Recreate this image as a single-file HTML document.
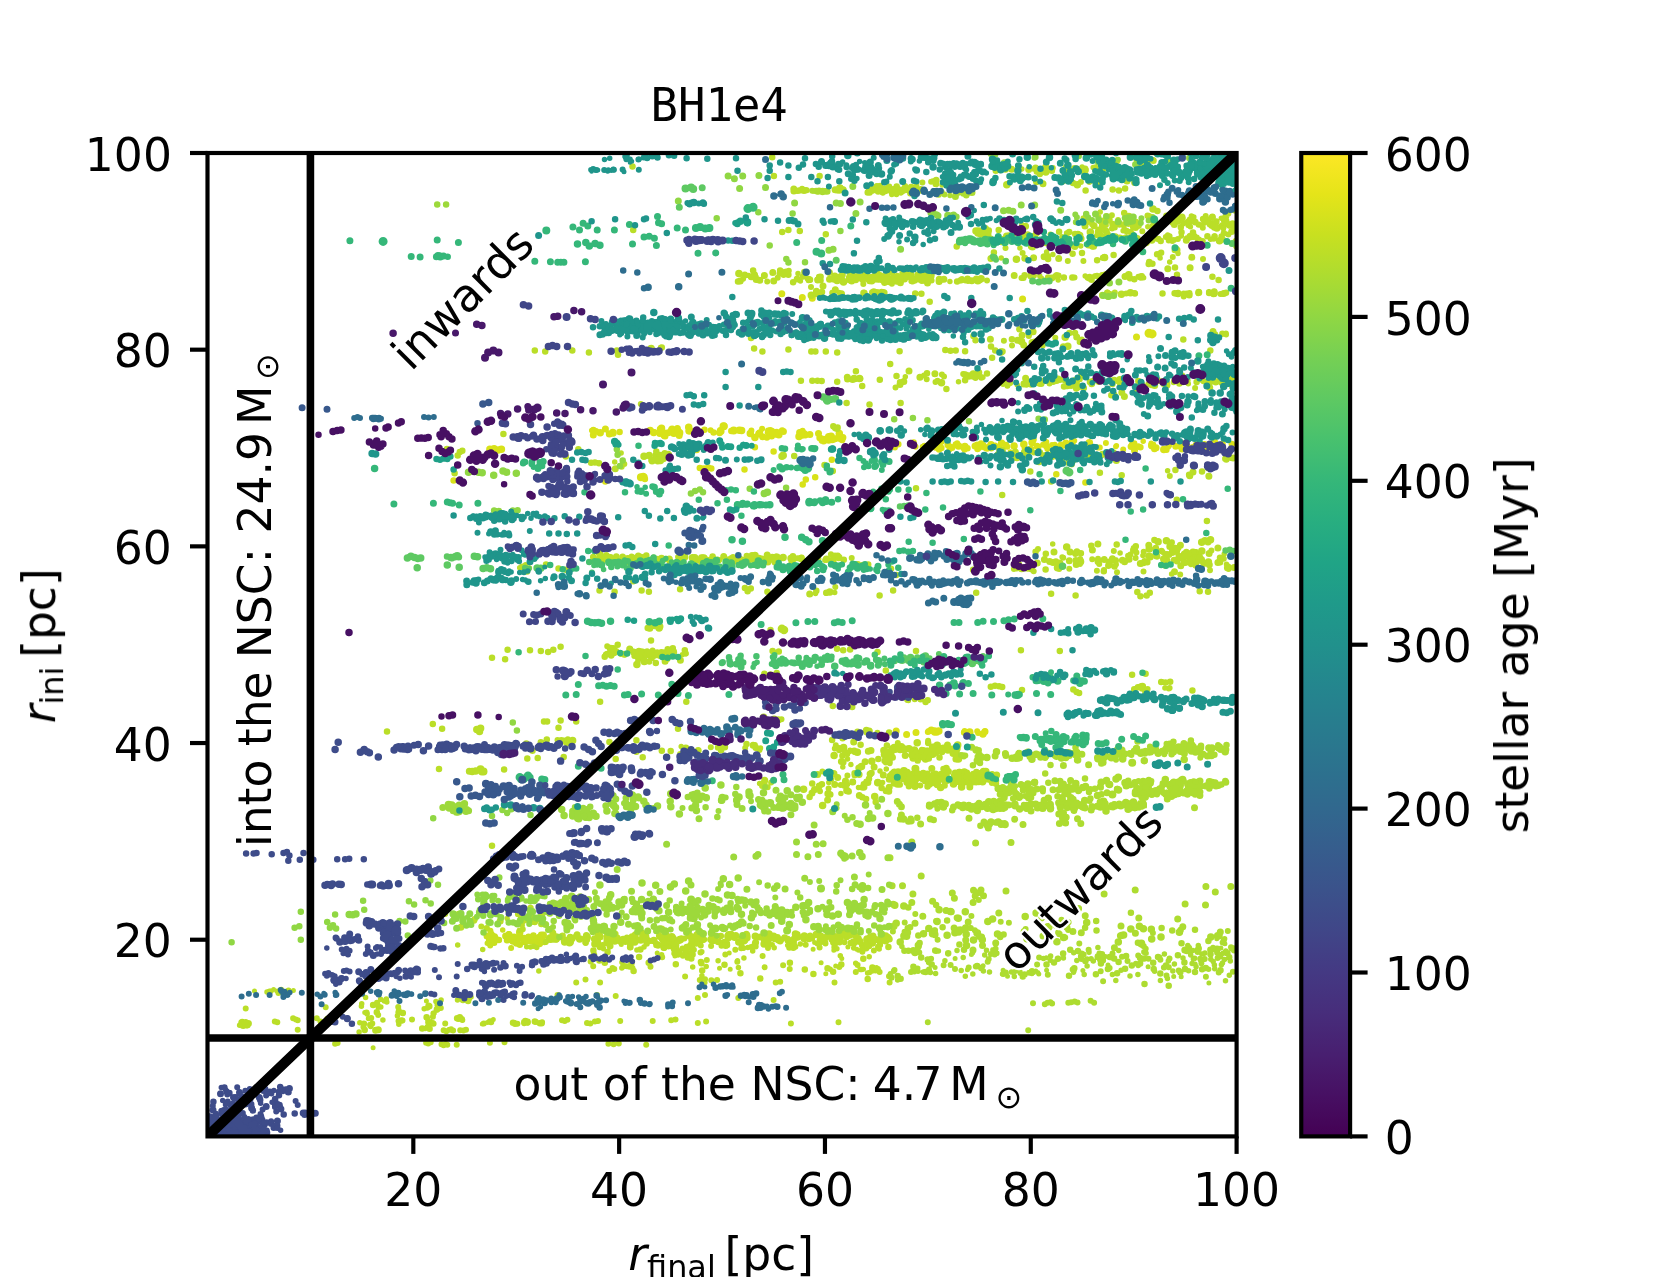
<!DOCTYPE html>
<html><head><meta charset="utf-8"><title>BH1e4</title>
<style>
html,body{margin:0;padding:0;background:#fff;overflow:hidden;}
svg{display:block;}
text{font-family:"DejaVu Sans","Liberation Sans",sans-serif;font-size:45.6px;fill:#000;}
.mono{font-family:"DejaVu Sans Mono","Liberation Mono",monospace;}
.it{font-style:italic;}
.sub{font-size:31.92px;}
.halo{paint-order:stroke;stroke:#fff;stroke-width:4.2px;stroke-linejoin:round;}
</style></head><body>
<svg width="1660" height="1277" viewBox="0 0 1660 1277">
<defs>
<clipPath id="ax"><rect x="207.5" y="153.0" width="1029.10" height="983.40"/></clipPath>
<linearGradient id="vir" x1="0" y1="0" x2="0" y2="1"><stop offset="0.0000" stop-color="#fde725"/><stop offset="0.0417" stop-color="#e5e419"/><stop offset="0.0833" stop-color="#c8e020"/><stop offset="0.1250" stop-color="#addc30"/><stop offset="0.1667" stop-color="#90d743"/><stop offset="0.2083" stop-color="#75d054"/><stop offset="0.2500" stop-color="#5ec962"/><stop offset="0.2917" stop-color="#48c16e"/><stop offset="0.3333" stop-color="#35b779"/><stop offset="0.3750" stop-color="#28ae80"/><stop offset="0.4167" stop-color="#20a486"/><stop offset="0.4583" stop-color="#1f9a8a"/><stop offset="0.5000" stop-color="#21918c"/><stop offset="0.5417" stop-color="#24868e"/><stop offset="0.5833" stop-color="#287c8e"/><stop offset="0.6250" stop-color="#2c728e"/><stop offset="0.6667" stop-color="#31688e"/><stop offset="0.7083" stop-color="#365d8d"/><stop offset="0.7500" stop-color="#3b528b"/><stop offset="0.7917" stop-color="#404688"/><stop offset="0.8333" stop-color="#443983"/><stop offset="0.8750" stop-color="#472d7b"/><stop offset="0.9167" stop-color="#481f70"/><stop offset="0.9583" stop-color="#471063"/><stop offset="1.0000" stop-color="#440154"/></linearGradient>
</defs>
<rect width="1660" height="1277" fill="#fff"/>
<g clip-path="url(#ax)" fill="none" stroke-linecap="round">
<path d="M1149.0 333.3h.01M1152.1 333.9h.01" stroke="#d8e219" stroke-width="9.0"/>
<path d="M673.9 433.1h.01M723.5 426.3h.01M733.7 430.6h.01M640.9 477.3h.01" stroke="#d8e219" stroke-width="8.0"/>
<path d="M489.9 449.3h.01M494.1 448.7h.01M498.2 449.9h.01M501.4 449.3h.01M613.0 433.0h.01M600.2 432.8h.01M612.8 432.4h.01M661.5 428.2h.01M678.5 431.8h.01M671.7 429.9h.01M674.0 432.4h.01M653.7 432.5h.01M660.5 429.2h.01M664.2 435.3h.01M679.6 432.8h.01M650.2 430.5h.01M672.1 429.3h.01M688.7 427.3h.01M720.8 431.2h.01M739.3 430.2h.01M724.0 426.3h.01M741.6 430.4h.01M689.1 430.7h.01M750.3 433.5h.01M759.0 433.8h.01M754.9 437.5h.01M778.8 434.7h.01M805.2 434.7h.01M799.0 436.5h.01M828.7 436.7h.01M822.3 440.3h.01M839.3 433.6h.01M823.6 440.8h.01M832.1 439.5h.01M831.1 436.2h.01M643.9 476.9h.01M643.3 476.6h.01M1089.3 442.7h.01M1199.3 449.0h.01M987.0 448.1h.01M1071.9 442.8h.01M1001.6 443.3h.01M1196.4 445.1h.01M1014.1 446.1h.01M1032.1 442.6h.01M1151.9 445.8h.01M1023.8 444.2h.01M1199.8 447.5h.01M991.0 444.7h.01M1187.3 447.2h.01M958.5 446.1h.01M1163.8 449.5h.01M1214.5 442.5h.01M964.8 446.6h.01M939.4 442.6h.01M934.7 732.1h.01M936.7 731.9h.01M931.3 730.2h.01M938.8 731.0h.01M967.4 733.0h.01M982.9 734.0h.01M969.7 731.9h.01" stroke="#d8e219" stroke-width="7.5"/>
<path d="M781.8 293.8h.01M802.3 297.6h.01M812.3 298.2h.01M1022.6 299.0h.01M1136.5 337.0h.01M605.4 429.0h.01M593.3 435.1h.01M609.3 433.9h.01M595.9 431.5h.01M665.0 435.9h.01M662.8 432.1h.01M677.4 428.6h.01M668.2 432.7h.01M679.2 435.5h.01M689.2 431.1h.01M695.5 432.0h.01M689.9 430.6h.01M695.9 431.1h.01M699.8 431.8h.01M762.6 436.7h.01M776.6 432.3h.01M783.4 431.6h.01M782.2 430.8h.01M770.2 430.4h.01M799.6 432.4h.01M809.9 434.4h.01M834.3 439.0h.01M828.6 440.3h.01M842.9 437.4h.01M819.8 437.8h.01M818.5 433.6h.01M892.6 446.8h.01M1059.2 447.1h.01M1181.9 443.6h.01M951.9 447.4h.01M1005.9 445.2h.01M981.9 444.5h.01M977.0 445.0h.01M1134.7 447.7h.01M1182.1 449.1h.01M1154.5 448.7h.01M1134.5 450.4h.01M1151.6 445.3h.01M1203.7 449.5h.01M930.8 446.2h.01M983.1 445.4h.01M947.9 444.8h.01M1033.3 439.5h.01M975.0 446.1h.01M1156.1 447.8h.01M1212.4 448.8h.01M1030.6 449.0h.01M934.6 443.3h.01M992.0 445.7h.01M1175.7 446.2h.01M1182.6 446.2h.01M1131.1 446.4h.01M1037.1 446.2h.01M1065.8 443.0h.01M896.2 730.9h.01M906.6 734.5h.01M916.0 732.4h.01M969.9 733.8h.01M985.0 731.6h.01" stroke="#d8e219" stroke-width="7.0"/>
<path d="M453.6 480.5h.01M619.6 432.1h.01M593.4 430.1h.01M661.8 430.5h.01M659.7 433.8h.01M720.3 430.3h.01M704.5 429.7h.01M713.6 432.5h.01M719.6 433.1h.01M731.3 431.0h.01M770.5 431.3h.01M770.3 432.0h.01M771.7 436.3h.01M766.9 437.5h.01M759.9 432.4h.01M802.1 435.6h.01M804.0 433.2h.01M836.0 438.5h.01M842.1 440.1h.01M839.6 435.9h.01M754.9 447.2h.01M773.6 451.4h.01M690.5 449.3h.01M693.6 448.3h.01M696.7 449.9h.01M699.8 468.0h.01M704.0 468.6h.01M708.1 467.4h.01M711.3 468.6h.01M744.5 469.5h.01M831.8 459.7h.01M815.2 477.3h.01M805.8 479.4h.01M802.7 484.6h.01M644.9 479.1h.01M605.3 481.5h.01M1223.7 450.9h.01M1140.4 447.2h.01M1046.3 446.2h.01M1208.3 445.8h.01M939.1 449.5h.01M1222.5 443.7h.01M967.5 448.3h.01M941.6 441.6h.01M977.5 448.9h.01M941.4 448.0h.01M1085.9 446.6h.01M1184.5 444.8h.01M913.6 442.5h.01M981.0 443.5h.01M939.4 447.0h.01M898.3 444.2h.01M1055.5 446.4h.01M1061.0 444.7h.01M922.9 446.9h.01M1057.3 447.3h.01M939.8 443.2h.01M1216.4 447.9h.01M1197.0 446.4h.01M1231.8 444.0h.01M1204.4 444.2h.01M999.2 448.2h.01M955.8 444.4h.01M1056.3 474.2h.01M1085.4 482.5h.01M928.8 731.2h.01M934.7 730.5h.01M964.1 732.4h.01" stroke="#d8e219" stroke-width="6.5"/>
<path d="M710.6 430.3h.01M719.5 431.3h.01M772.7 431.6h.01M772.0 430.8h.01M759.6 432.7h.01M762.1 428.8h.01M767.7 432.4h.01M775.5 434.7h.01M768.0 430.4h.01M751.4 430.5h.01M802.6 430.8h.01M802.0 434.7h.01M839.7 439.1h.01M827.7 439.2h.01M823.8 438.7h.01M1047.4 449.1h.01M984.3 447.6h.01M909.9 443.8h.01M1166.6 449.9h.01M1132.0 444.0h.01M1054.9 448.5h.01M1199.5 446.9h.01M949.4 449.5h.01M1214.4 448.6h.01M1007.3 446.8h.01M1168.2 446.8h.01M924.4 445.7h.01M1052.0 444.9h.01M1179.6 446.5h.01M915.6 446.7h.01M1085.6 448.0h.01M1097.5 447.4h.01M1046.3 441.9h.01M1134.4 443.3h.01M964.5 449.8h.01M1062.8 446.0h.01M995.2 445.6h.01M1220.9 448.9h.01M1138.4 446.3h.01M1204.5 447.3h.01M1105.9 443.1h.01M924.0 446.6h.01M991.3 448.6h.01M963.4 448.3h.01M1043.0 444.8h.01M1192.7 447.1h.01M1099.8 447.4h.01M1024.6 448.1h.01M1089.3 446.5h.01M1123.2 449.6h.01M957.2 443.2h.01M1089.8 445.3h.01M1169.1 445.5h.01M938.5 731.6h.01M927.8 732.0h.01M964.6 731.1h.01M977.2 731.3h.01M984.9 731.6h.01M969.4 732.9h.01M978.1 732.9h.01" stroke="#d8e219" stroke-width="6.0"/>
<path d="M591.7 430.5h.01M1032.1 442.0h.01M935.3 448.0h.01M1153.4 444.3h.01M1074.5 440.8h.01M1010.3 452.1h.01M1151.2 443.3h.01M1038.7 447.6h.01M979.5 448.1h.01M1143.2 441.3h.01M1057.9 448.9h.01M1115.8 446.6h.01M1116.4 445.7h.01M1054.8 444.4h.01M895.1 447.8h.01" stroke="#d8e219" stroke-width="5.5"/>
<path d="M539.2 937.6h.01M524.1 938.6h.01M539.4 940.4h.01M524.3 941.4h.01M519.7 932.6h.01M536.1 938.8h.01M539.4 943.6h.01" stroke="#c8e020" stroke-width="7.5"/>
<path d="M494.6 936.8h.01M492.5 942.3h.01M516.3 942.9h.01M536.6 942.1h.01M495.3 938.9h.01M509.0 934.6h.01M517.1 937.8h.01M511.6 939.9h.01M543.4 934.9h.01M516.6 943.2h.01M532.8 937.7h.01M487.0 936.0h.01M513.0 937.9h.01M494.0 942.5h.01M490.3 936.3h.01M539.1 940.8h.01M508.3 935.6h.01M532.9 937.2h.01M505.6 936.0h.01M510.8 936.7h.01" stroke="#c8e020" stroke-width="7.0"/>
<path d="M519.8 944.8h.01M528.3 937.5h.01M519.9 938.8h.01M533.4 935.6h.01M514.1 936.8h.01M512.8 941.6h.01M531.0 941.3h.01M489.1 940.5h.01M507.0 940.3h.01M541.2 934.7h.01M491.2 934.0h.01M526.3 941.3h.01M498.9 940.0h.01M544.5 941.9h.01M528.5 936.7h.01M542.8 940.6h.01" stroke="#c8e020" stroke-width="6.5"/>
<path d="M538.5 939.0h.01M490.4 930.8h.01M496.1 938.8h.01M543.7 936.0h.01M535.1 940.1h.01M489.1 936.4h.01M490.2 945.5h.01M492.4 935.3h.01M508.4 938.8h.01M511.1 948.1h.01M530.0 940.2h.01M534.1 942.1h.01M537.1 938.2h.01M535.7 944.8h.01" stroke="#c8e020" stroke-width="6.0"/>
<path d="M539.8 937.5h.01M542.4 941.9h.01M508.6 933.8h.01M502.7 929.9h.01M513.8 936.8h.01M487.3 943.3h.01M519.9 936.1h.01M531.8 941.8h.01" stroke="#c8e020" stroke-width="5.5"/>
<path d="M781.9 628.7h.01M784.0 629.9h.01" stroke="#bade28" stroke-width="8.5"/>
<path d="M658.2 456.0h.01M656.3 455.7h.01M654.5 625.3h.01M1187.7 555.8h.01M482.0 771.6h.01M483.5 771.4h.01M481.9 770.7h.01M480.5 769.3h.01M773.4 936.5h.01M697.4 935.1h.01M885.5 936.2h.01M853.9 942.2h.01M598.7 934.6h.01M927.5 751.6h.01M901.2 746.9h.01M956.7 748.4h.01M958.3 758.8h.01M971.0 780.7h.01M903.9 770.9h.01M915.4 768.8h.01" stroke="#bade28" stroke-width="8.0"/>
<path d="M839.8 188.1h.01M839.1 190.0h.01M878.9 190.3h.01M885.3 190.6h.01M987.6 234.5h.01M976.0 231.1h.01M738.9 273.5h.01M843.5 282.0h.01M902.1 278.5h.01M856.1 277.0h.01M889.2 272.1h.01M981.1 278.7h.01M939.4 279.5h.01M819.8 293.6h.01M811.3 295.2h.01M859.5 378.6h.01M941.5 382.7h.01M973.3 374.0h.01M968.9 376.0h.01M1045.8 172.0h.01M1000.3 169.4h.01M1005.4 168.9h.01M1045.8 167.3h.01M1077.3 184.8h.01M1006.8 184.8h.01M1216.8 228.1h.01M1188.4 222.2h.01M1153.0 209.1h.01M1128.8 216.6h.01M1109.0 220.0h.01M1102.7 224.6h.01M1107.8 218.6h.01M1077.9 234.5h.01M1022.4 238.9h.01M1090.3 232.1h.01M1079.7 235.6h.01M1031.6 246.3h.01M1190.3 236.6h.01M1146.1 242.6h.01M1219.5 240.7h.01M1193.6 236.2h.01M1047.3 256.5h.01M1016.4 259.2h.01M1104.6 257.4h.01M1128.7 274.8h.01M1140.9 276.9h.01M1130.4 292.7h.01M1121.4 294.3h.01M1108.0 296.0h.01M1178.0 293.4h.01M1001.0 352.1h.01M1067.8 346.2h.01M1021.5 341.5h.01M1065.2 337.2h.01M1075.3 380.8h.01M1050.2 379.1h.01M1151.6 384.5h.01M1003.9 378.2h.01M1120.0 380.4h.01M1185.8 380.9h.01M1009.6 382.6h.01M1157.4 380.4h.01M668.1 454.6h.01M649.2 455.6h.01M657.8 460.8h.01M663.3 458.4h.01M659.9 455.6h.01M644.0 456.3h.01M660.4 460.4h.01M783.1 455.2h.01M782.0 456.2h.01M607.8 559.0h.01M599.5 553.2h.01M661.5 558.5h.01M738.4 560.4h.01M703.9 558.0h.01M736.7 558.4h.01M684.6 557.1h.01M638.7 561.1h.01M692.5 557.8h.01M755.0 555.6h.01M601.2 558.8h.01M634.2 558.4h.01M755.8 558.5h.01M838.7 557.4h.01M783.1 557.4h.01M813.9 557.0h.01M793.6 558.4h.01M801.0 558.4h.01M777.7 559.7h.01M826.5 559.3h.01M777.0 557.3h.01M829.8 592.1h.01M659.1 628.1h.01M642.5 652.3h.01M613.2 652.8h.01M613.2 648.8h.01M610.5 648.6h.01M669.4 653.1h.01M652.3 655.8h.01M651.4 656.4h.01M636.9 664.4h.01M1002.1 450.7h.01M1079.4 456.6h.01M1045.3 455.9h.01M1115.2 458.5h.01M1051.6 456.6h.01M1090.3 454.0h.01M1039.0 461.4h.01M1166.1 554.8h.01M1208.4 561.9h.01M1109.3 562.2h.01M1166.8 560.7h.01M1057.5 567.8h.01M1198.7 556.0h.01M1172.8 549.7h.01M1193.0 552.3h.01M1174.4 551.1h.01M1183.3 556.3h.01M1201.8 551.1h.01M1191.8 558.2h.01M1195.3 553.6h.01M1149.2 548.9h.01M1166.4 540.8h.01M1066.7 547.0h.01M1201.7 542.2h.01M1204.9 540.7h.01M1208.0 541.8h.01M1210.5 539.7h.01M1158.1 541.8h.01M1028.8 568.0h.01M476.8 729.5h.01M479.5 731.5h.01M480.6 728.2h.01M472.2 771.4h.01M475.7 771.1h.01M458.9 914.4h.01M544.6 909.4h.01M531.9 918.0h.01M567.1 742.7h.01M572.6 740.6h.01M778.1 720.0h.01M763.6 717.2h.01M869.0 731.3h.01M857.4 752.2h.01M834.1 755.6h.01M861.5 766.4h.01M843.6 747.5h.01M871.8 761.3h.01M883.9 750.5h.01M886.0 752.1h.01M685.8 748.3h.01M763.8 783.7h.01M877.7 782.8h.01M846.9 790.4h.01M863.7 786.9h.01M833.7 773.7h.01M828.1 793.7h.01M803.6 789.3h.01M822.6 805.5h.01M874.7 796.5h.01M797.5 937.1h.01M653.8 940.5h.01M693.7 937.4h.01M836.7 938.8h.01M859.6 941.2h.01M645.4 938.6h.01M738.8 941.9h.01M671.8 936.8h.01M597.4 941.3h.01M640.9 939.9h.01M691.8 944.0h.01M868.8 941.3h.01M840.2 937.7h.01M556.1 938.9h.01M870.0 940.4h.01M579.7 938.9h.01M764.6 940.3h.01M556.2 938.1h.01M884.3 936.5h.01M594.9 944.1h.01M887.7 938.0h.01M885.6 937.6h.01M623.2 939.6h.01M872.3 943.1h.01M795.5 934.0h.01M744.0 940.8h.01M839.9 933.3h.01M628.1 940.6h.01M804.2 938.6h.01M689.5 935.7h.01M680.3 939.8h.01M712.1 940.5h.01M550.0 937.9h.01M755.3 936.3h.01M643.2 936.0h.01M714.5 939.3h.01M728.0 936.4h.01M728.8 934.7h.01M712.2 936.2h.01M609.2 939.3h.01M744.7 940.0h.01M674.0 940.9h.01M645.6 936.6h.01M662.2 938.0h.01M849.9 934.9h.01M843.5 931.4h.01M614.9 934.2h.01M764.1 944.0h.01M769.0 934.1h.01M804.3 935.9h.01M870.2 939.1h.01M674.6 941.4h.01M828.5 934.6h.01M569.5 942.7h.01M807.6 937.6h.01M816.3 934.6h.01M595.5 939.5h.01M556.3 937.1h.01M858.1 938.8h.01M665.5 940.2h.01M587.2 937.2h.01M823.1 938.2h.01M635.2 941.0h.01M711.9 938.7h.01M661.6 929.2h.01M564.7 941.9h.01M833.8 942.2h.01M614.8 941.0h.01M746.9 937.7h.01M725.7 945.2h.01M867.1 939.0h.01M594.7 938.9h.01M1142.3 687.9h.01M1142.4 686.5h.01M1145.9 692.3h.01M936.1 751.9h.01M942.8 748.4h.01M936.7 745.7h.01M932.6 747.3h.01M891.9 750.3h.01M890.8 754.3h.01M922.3 754.6h.01M953.2 753.2h.01M957.7 744.9h.01M936.7 747.6h.01M897.2 748.2h.01M937.2 745.2h.01M956.5 746.9h.01M914.6 750.3h.01M904.3 748.9h.01M925.5 759.0h.01M932.0 750.7h.01M894.2 747.5h.01M913.2 758.0h.01M912.7 753.6h.01M917.2 742.7h.01M914.2 750.2h.01M934.2 753.0h.01M936.8 750.3h.01M900.1 749.4h.01M952.0 749.2h.01M973.4 774.5h.01M941.3 774.4h.01M959.2 779.4h.01M933.7 774.9h.01M928.3 781.3h.01M910.1 776.1h.01M914.7 783.7h.01M908.1 776.1h.01M983.6 771.5h.01M943.4 778.6h.01M907.1 782.2h.01M937.3 784.6h.01M972.9 781.8h.01M893.7 776.3h.01M892.2 774.3h.01M893.7 773.1h.01M982.6 781.8h.01M983.9 779.5h.01M943.2 774.1h.01M959.7 772.6h.01M894.1 772.8h.01M905.4 777.3h.01M994.4 776.2h.01M978.9 776.1h.01M935.5 774.2h.01M962.4 776.0h.01M917.1 778.0h.01M947.7 779.0h.01M894.3 782.9h.01M983.8 771.9h.01M980.2 780.1h.01M945.5 772.6h.01M945.7 776.8h.01M985.8 771.4h.01M898.1 772.1h.01M915.8 779.1h.01M927.1 777.2h.01M901.7 777.2h.01M931.0 780.3h.01M961.6 786.9h.01M955.0 776.5h.01M945.8 770.4h.01M940.6 787.4h.01M897.4 784.0h.01M961.4 773.9h.01M907.1 772.6h.01M964.3 772.0h.01M953.5 783.9h.01M945.3 770.1h.01" stroke="#bade28" stroke-width="7.5"/>
<path d="M793.9 191.1h.01M804.0 190.5h.01M793.8 188.9h.01M836.4 190.1h.01M835.1 189.7h.01M840.4 188.7h.01M843.2 189.7h.01M898.2 189.4h.01M895.0 189.4h.01M918.0 191.1h.01M894.6 191.3h.01M890.2 189.8h.01M870.6 188.5h.01M916.5 190.6h.01M908.1 189.7h.01M881.0 190.7h.01M910.3 188.8h.01M885.5 189.5h.01M876.9 186.6h.01M915.6 189.7h.01M914.2 191.0h.01M936.2 180.3h.01M935.9 183.7h.01M985.5 228.4h.01M986.7 231.7h.01M773.7 280.9h.01M837.1 280.7h.01M756.2 279.5h.01M829.4 272.5h.01M740.2 281.1h.01M744.8 275.1h.01M764.4 275.6h.01M842.8 280.8h.01M817.7 280.0h.01M852.0 274.9h.01M797.2 279.1h.01M842.3 274.9h.01M772.8 272.4h.01M839.1 277.0h.01M837.1 276.9h.01M829.5 279.2h.01M834.8 275.9h.01M809.1 279.4h.01M759.8 280.3h.01M754.5 274.8h.01M823.0 286.0h.01M877.2 277.6h.01M907.0 275.7h.01M885.0 279.2h.01M887.2 279.4h.01M906.1 276.7h.01M905.8 276.5h.01M851.7 281.1h.01M868.3 278.1h.01M850.5 274.2h.01M896.0 278.4h.01M850.4 274.7h.01M884.0 280.7h.01M919.9 278.7h.01M876.7 277.5h.01M927.6 277.9h.01M927.5 282.9h.01M875.2 277.0h.01M928.2 278.5h.01M931.0 276.5h.01M904.5 279.1h.01M910.7 276.3h.01M887.6 279.9h.01M884.0 276.5h.01M918.1 276.0h.01M869.7 280.7h.01M886.2 281.0h.01M878.6 279.3h.01M900.4 282.7h.01M859.1 276.9h.01M873.9 276.6h.01M874.0 278.8h.01M850.9 279.4h.01M897.3 278.0h.01M880.5 278.5h.01M977.8 281.1h.01M939.1 281.4h.01M976.3 279.0h.01M943.9 279.3h.01M971.8 280.8h.01M835.3 289.7h.01M816.4 291.3h.01M841.5 293.8h.01M884.1 292.7h.01M863.7 293.0h.01M883.5 292.5h.01M651.3 348.3h.01M847.3 377.3h.01M854.0 378.2h.01M852.7 379.6h.01M847.5 379.1h.01M855.0 378.7h.01M903.8 381.6h.01M909.0 371.0h.01M900.0 384.5h.01M934.9 373.8h.01M919.9 377.3h.01M965.3 374.8h.01M973.3 376.2h.01M978.8 372.5h.01M1102.8 169.3h.01M1085.4 170.0h.01M1095.6 169.0h.01M1066.2 167.5h.01M1028.7 169.5h.01M1035.6 168.1h.01M1011.7 169.3h.01M1067.3 168.8h.01M1074.4 168.4h.01M1084.4 171.4h.01M1127.0 181.1h.01M1043.0 183.7h.01M1090.0 180.0h.01M1134.6 182.6h.01M1148.5 159.6h.01M1153.3 160.4h.01M1115.9 163.1h.01M1140.0 167.6h.01M1154.1 225.2h.01M1195.1 222.1h.01M1212.0 225.6h.01M1222.2 225.8h.01M1138.4 225.4h.01M1135.1 227.1h.01M1172.5 220.1h.01M1175.8 213.0h.01M1225.8 216.4h.01M1213.8 224.7h.01M1149.4 216.8h.01M1231.7 231.6h.01M1098.2 232.1h.01M1176.8 221.4h.01M1224.4 220.4h.01M1174.3 224.5h.01M1233.2 230.5h.01M1174.3 224.6h.01M1227.9 213.3h.01M1085.0 225.9h.01M1182.0 216.9h.01M1102.5 226.3h.01M1135.5 227.5h.01M1212.3 217.5h.01M1165.7 221.0h.01M1094.0 225.8h.01M1161.7 223.5h.01M1134.6 222.7h.01M1025.6 226.2h.01M1036.5 232.8h.01M1106.3 231.2h.01M1027.6 234.8h.01M1020.0 237.0h.01M1033.9 236.2h.01M1006.5 236.1h.01M1023.3 234.6h.01M1115.4 236.8h.01M1069.0 245.2h.01M1024.7 241.1h.01M1092.3 245.9h.01M1001.6 241.8h.01M1032.5 247.1h.01M1059.5 245.9h.01M1074.8 246.5h.01M1088.5 245.0h.01M1190.8 236.7h.01M1151.8 240.3h.01M1141.0 242.2h.01M1135.8 240.4h.01M1187.0 238.7h.01M1137.3 238.6h.01M1186.3 240.3h.01M1024.8 258.3h.01M990.9 258.5h.01M1033.6 257.7h.01M1058.7 258.6h.01M1044.1 256.7h.01M1191.8 257.3h.01M1177.0 249.9h.01M1190.1 267.8h.01M1167.8 268.7h.01M1105.3 278.1h.01M1030.9 275.2h.01M1102.2 275.6h.01M1014.2 275.5h.01M1051.8 277.9h.01M1125.0 276.6h.01M1102.4 295.2h.01M1108.7 294.3h.01M1113.2 295.0h.01M1189.2 295.0h.01M1186.7 294.0h.01M1213.5 293.7h.01M1198.8 292.4h.01M1223.7 293.5h.01M1214.2 292.3h.01M1033.1 331.8h.01M1029.1 333.4h.01M1023.7 344.9h.01M1022.1 335.3h.01M990.4 339.3h.01M1017.5 340.2h.01M1034.5 342.1h.01M1063.3 346.7h.01M1076.7 337.0h.01M1032.0 342.6h.01M1213.0 331.5h.01M1177.0 380.3h.01M1154.7 385.4h.01M1166.7 383.5h.01M1051.6 377.7h.01M1071.1 385.5h.01M1213.1 379.9h.01M1209.1 380.7h.01M1208.8 382.6h.01M1068.1 382.3h.01M1078.0 387.0h.01M1142.1 385.0h.01M1234.8 383.4h.01M1122.2 381.5h.01M1201.7 379.3h.01M1140.7 382.4h.01M1209.7 387.4h.01M1151.9 380.6h.01M1167.0 384.9h.01M1126.0 381.8h.01M1120.4 383.5h.01M1236.0 385.9h.01M1163.6 383.5h.01M1041.1 383.6h.01M1092.4 381.6h.01M1025.6 378.2h.01M1183.1 381.8h.01M1221.5 382.2h.01M1124.4 396.4h.01M1121.8 392.4h.01M615.3 468.7h.01M668.6 455.2h.01M664.7 453.5h.01M652.1 460.9h.01M723.7 556.4h.01M702.6 558.8h.01M753.6 559.7h.01M636.0 560.1h.01M702.8 558.1h.01M622.6 557.1h.01M602.8 560.0h.01M602.3 557.1h.01M669.3 559.0h.01M729.1 559.7h.01M610.6 557.4h.01M694.9 557.6h.01M670.2 561.5h.01M696.6 559.9h.01M638.3 556.1h.01M616.7 560.7h.01M606.3 555.4h.01M599.0 558.8h.01M748.2 558.3h.01M739.9 558.9h.01M660.3 560.8h.01M625.7 562.3h.01M756.1 559.6h.01M594.5 560.9h.01M704.0 560.8h.01M713.0 558.8h.01M594.2 559.5h.01M767.9 562.1h.01M792.3 558.9h.01M767.2 555.0h.01M790.8 558.2h.01M775.0 562.0h.01M834.0 564.1h.01M766.6 559.7h.01M809.7 594.1h.01M649.8 628.3h.01M629.7 649.1h.01M624.3 654.3h.01M680.4 660.2h.01M643.3 654.0h.01M642.4 657.8h.01M644.1 656.2h.01M648.7 654.8h.01M634.6 652.2h.01M646.8 654.8h.01M661.4 652.4h.01M662.4 655.6h.01M654.6 654.7h.01M638.2 656.4h.01M633.6 651.9h.01M654.9 653.8h.01M665.1 661.3h.01M644.2 661.7h.01M1063.0 453.4h.01M1026.9 455.5h.01M1070.0 458.4h.01M1102.4 454.2h.01M1085.7 455.8h.01M1045.4 455.5h.01M1015.4 452.1h.01M1016.9 457.8h.01M1116.4 460.6h.01M1016.9 457.1h.01M1039.7 452.5h.01M1073.5 459.7h.01M1068.6 462.4h.01M1233.1 458.0h.01M1208.5 467.9h.01M1208.9 476.3h.01M1193.0 472.0h.01M1189.8 475.7h.01M1092.4 550.0h.01M1234.0 567.6h.01M1058.7 566.3h.01M1209.3 564.7h.01M1115.5 560.4h.01M1190.2 560.6h.01M1203.8 563.4h.01M1069.3 560.7h.01M1070.1 552.0h.01M1227.4 567.7h.01M1147.1 561.9h.01M1076.9 551.7h.01M1044.4 559.4h.01M1098.0 561.5h.01M1209.1 553.6h.01M1080.6 561.1h.01M1195.4 552.6h.01M1054.0 552.1h.01M1140.3 563.6h.01M1180.8 565.7h.01M1217.9 548.1h.01M1195.6 563.2h.01M1037.3 563.1h.01M1122.4 560.3h.01M1097.9 543.9h.01M1174.5 571.7h.01M1076.2 564.4h.01M1053.0 562.4h.01M1059.9 563.1h.01M1172.1 552.5h.01M1049.7 561.4h.01M1200.7 560.5h.01M1217.9 562.6h.01M1080.8 561.7h.01M1104.2 559.6h.01M1112.4 558.7h.01M1129.1 559.2h.01M1163.5 558.9h.01M1124.6 561.7h.01M1185.8 553.0h.01M1194.6 554.4h.01M1168.9 554.5h.01M1193.6 556.6h.01M1182.1 558.3h.01M1185.3 562.5h.01M1184.3 554.0h.01M1186.4 552.3h.01M1195.6 560.5h.01M1186.5 553.8h.01M1201.5 559.6h.01M1148.8 545.3h.01M1122.9 560.6h.01M1156.5 556.1h.01M1134.6 549.2h.01M1176.6 551.2h.01M1180.4 545.3h.01M1174.0 549.5h.01M1169.8 546.4h.01M1018.9 565.3h.01M1021.5 568.8h.01M469.3 771.3h.01M540.3 919.0h.01M523.1 918.4h.01M541.6 914.7h.01M500.2 920.9h.01M530.2 922.0h.01M460.8 927.3h.01M564.4 741.0h.01M568.2 741.0h.01M564.4 740.9h.01M774.1 719.1h.01M857.5 731.9h.01M866.3 730.3h.01M855.6 751.8h.01M841.4 761.5h.01M874.1 767.0h.01M865.1 761.8h.01M853.7 742.1h.01M884.4 753.0h.01M868.3 751.2h.01M871.0 750.6h.01M885.0 751.3h.01M854.2 750.9h.01M883.3 775.0h.01M884.2 754.5h.01M753.1 745.2h.01M724.7 747.1h.01M698.2 750.5h.01M764.7 780.3h.01M888.8 791.3h.01M859.3 795.6h.01M852.6 781.9h.01M867.9 782.6h.01M845.5 781.1h.01M819.2 785.9h.01M889.2 787.3h.01M837.7 777.4h.01M889.2 779.2h.01M834.7 784.4h.01M858.8 767.9h.01M812.0 793.0h.01M886.1 790.7h.01M859.1 774.5h.01M817.7 774.6h.01M814.5 789.5h.01M870.1 774.1h.01M827.6 800.0h.01M666.2 935.1h.01M746.4 934.2h.01M856.0 935.7h.01M572.2 938.5h.01M607.0 942.7h.01M877.5 939.8h.01M564.1 940.0h.01M826.7 936.8h.01M675.9 940.6h.01M794.4 938.4h.01M885.7 941.1h.01M630.5 943.7h.01M744.3 940.3h.01M873.0 935.9h.01M822.5 941.3h.01M585.2 938.3h.01M636.9 940.1h.01M698.2 938.5h.01M793.5 941.4h.01M778.5 939.9h.01M659.9 936.5h.01M819.9 941.0h.01M678.7 940.5h.01M791.6 943.9h.01M600.3 936.7h.01M610.2 941.5h.01M834.6 936.6h.01M688.9 935.2h.01M553.4 939.2h.01M888.1 937.5h.01M714.0 938.8h.01M626.3 940.0h.01M667.8 941.2h.01M570.3 937.7h.01M570.5 941.9h.01M728.0 935.7h.01M659.4 936.0h.01M881.2 940.2h.01M723.8 942.6h.01M673.2 938.2h.01M635.3 934.7h.01M755.6 942.6h.01M586.4 935.6h.01M668.7 943.9h.01M838.7 938.5h.01M550.8 939.6h.01M780.7 939.7h.01M625.4 941.6h.01M735.8 935.4h.01M718.3 941.7h.01M642.0 933.1h.01M607.3 936.1h.01M846.6 936.7h.01M760.1 937.1h.01M608.4 941.7h.01M552.8 933.1h.01M766.3 938.9h.01M787.8 940.1h.01M742.0 938.7h.01M577.1 934.8h.01M824.8 940.7h.01M647.9 940.5h.01M612.1 938.9h.01M907.6 699.6h.01M908.1 748.8h.01M955.9 758.9h.01M892.0 748.7h.01M947.9 750.3h.01M905.2 755.5h.01M956.3 752.6h.01M932.7 754.4h.01M953.8 750.8h.01M923.2 750.6h.01M927.4 751.2h.01M942.5 748.3h.01M918.4 753.0h.01M911.5 749.9h.01M926.7 755.9h.01M911.9 754.9h.01M947.5 745.1h.01M925.9 751.3h.01M927.2 753.8h.01M954.0 782.1h.01M946.9 778.1h.01M937.8 779.2h.01M948.4 771.4h.01M959.5 779.0h.01M989.6 777.3h.01M983.4 779.9h.01M929.4 779.2h.01M963.4 774.3h.01M983.5 775.8h.01M983.2 772.1h.01M959.3 773.8h.01M979.6 773.4h.01M931.8 768.6h.01M897.0 781.0h.01M971.8 777.0h.01M925.4 781.1h.01M990.5 776.4h.01M946.3 768.3h.01M922.3 774.0h.01M980.0 775.2h.01M929.1 783.8h.01M913.4 779.3h.01M890.4 776.0h.01M993.1 776.3h.01M944.4 780.6h.01M926.0 778.6h.01M932.3 776.7h.01M943.0 778.9h.01M915.0 786.5h.01M894.4 772.0h.01M896.3 773.0h.01M897.5 778.9h.01M960.0 777.2h.01M976.6 776.9h.01M978.8 781.8h.01M916.5 777.4h.01M993.1 777.8h.01M925.1 775.7h.01M947.1 778.8h.01M927.3 773.9h.01M969.8 787.1h.01M912.5 774.3h.01M922.0 778.1h.01M974.8 775.1h.01M929.6 782.2h.01M996.7 775.1h.01M248.4 1023.4h.01M241.8 1022.6h.01M247.4 1024.7h.01M243.2 1025.6h.01M242.2 1022.2h.01M375.6 1030.2h.01M378.3 1029.8h.01" stroke="#bade28" stroke-width="7.0"/>
<path d="M632.5 166.6h.01M633.2 230.0h.01M534.8 350.6h.01M545.2 351.6h.01M572.3 350.6h.01M588.9 352.6h.01M616.9 350.6h.01M618.0 354.7h.01M772.2 157.3h.01M773.9 176.0h.01M819.6 176.0h.01M799.1 190.4h.01M840.3 188.0h.01M911.1 187.1h.01M903.5 190.5h.01M878.3 188.3h.01M885.9 188.4h.01M880.3 190.1h.01M894.0 192.1h.01M915.5 189.8h.01M878.1 191.4h.01M910.0 189.7h.01M880.3 186.0h.01M920.8 189.3h.01M891.5 191.8h.01M885.4 189.2h.01M873.5 190.0h.01M884.1 190.2h.01M907.5 190.0h.01M896.7 186.5h.01M867.7 192.4h.01M869.6 192.5h.01M825.8 234.2h.01M788.4 230.0h.01M799.8 231.1h.01M782.2 232.1h.01M977.8 233.5h.01M986.4 234.8h.01M988.8 230.5h.01M978.9 230.5h.01M956.7 246.6h.01M820.6 276.7h.01M781.2 271.6h.01M793.1 282.2h.01M803.0 276.6h.01M738.0 281.5h.01M810.0 279.7h.01M804.3 272.1h.01M786.4 273.1h.01M751.1 276.9h.01M755.6 277.3h.01M834.0 279.4h.01M751.7 277.1h.01M917.7 274.8h.01M923.9 280.4h.01M899.4 277.7h.01M871.8 281.2h.01M887.1 277.1h.01M911.6 280.9h.01M884.0 278.2h.01M862.6 276.6h.01M870.6 281.0h.01M905.9 273.7h.01M870.1 277.3h.01M902.5 273.8h.01M896.6 281.4h.01M903.1 278.2h.01M909.3 276.2h.01M869.4 277.5h.01M872.3 280.7h.01M884.5 282.7h.01M876.0 276.5h.01M922.8 280.1h.01M921.3 277.3h.01M887.0 277.6h.01M891.0 278.5h.01M849.1 277.7h.01M920.2 276.8h.01M922.3 278.3h.01M865.0 272.5h.01M875.3 276.0h.01M868.5 279.3h.01M896.2 279.6h.01M855.8 280.0h.01M866.4 276.9h.01M911.1 274.6h.01M879.1 279.0h.01M927.6 281.1h.01M876.0 272.5h.01M921.4 278.1h.01M920.2 279.2h.01M876.4 279.3h.01M907.5 274.6h.01M902.5 278.5h.01M926.3 274.3h.01M880.0 275.2h.01M925.9 280.3h.01M957.1 281.5h.01M967.5 278.8h.01M961.1 280.3h.01M753.1 270.5h.01M780.1 270.5h.01M788.4 274.7h.01M815.9 294.1h.01M820.0 293.7h.01M822.0 291.9h.01M881.6 292.0h.01M873.8 291.4h.01M864.4 293.0h.01M878.3 292.6h.01M915.2 293.4h.01M921.4 293.8h.01M929.7 301.7h.01M973.4 336.0h.01M975.5 340.2h.01M751.0 338.1h.01M809.2 338.1h.01M931.8 337.0h.01M650.8 348.3h.01M661.8 347.4h.01M754.1 348.5h.01M762.4 351.6h.01M788.4 349.5h.01M811.3 351.6h.01M815.4 351.6h.01M825.8 351.6h.01M837.2 352.6h.01M899.6 351.2h.01M945.3 350.1h.01M950.5 350.8h.01M955.7 350.6h.01M965.1 351.2h.01M890.2 364.1h.01M800.9 380.7h.01M812.3 380.7h.01M817.5 380.7h.01M821.7 381.1h.01M837.2 381.7h.01M855.9 371.3h.01M862.2 385.9h.01M879.8 379.7h.01M946.4 389.0h.01M896.5 376.0h.01M927.0 373.3h.01M987.0 373.4h.01M981.4 377.5h.01M965.1 380.2h.01M846.6 403.1h.01M869.5 404.6h.01M900.6 403.1h.01M1039.8 173.9h.01M995.8 170.8h.01M1113.8 167.2h.01M1018.1 170.1h.01M1051.9 170.8h.01M1076.5 168.8h.01M1036.5 182.1h.01M1073.0 183.1h.01M1097.9 182.4h.01M1117.3 160.3h.01M1136.6 159.6h.01M1115.0 161.6h.01M1085.6 190.5h.01M1112.6 189.5h.01M1118.9 190.5h.01M1125.1 188.4h.01M1177.7 215.7h.01M1166.4 215.8h.01M1157.6 224.3h.01M1133.1 226.8h.01M1119.5 224.6h.01M1181.5 232.2h.01M1152.2 217.2h.01M1101.0 230.0h.01M1188.6 225.0h.01M1157.4 211.0h.01M1232.6 223.5h.01M1106.4 216.3h.01M1214.3 227.4h.01M1227.8 223.9h.01M1114.4 225.5h.01M1124.2 212.9h.01M1126.5 230.9h.01M1172.6 222.6h.01M1128.8 222.5h.01M1212.4 216.8h.01M1189.9 219.8h.01M1225.1 224.0h.01M1212.4 223.8h.01M1178.5 221.1h.01M1203.1 218.9h.01M1216.4 221.4h.01M1180.8 227.3h.01M1106.4 220.2h.01M1147.7 215.8h.01M1112.6 224.1h.01M1126.1 237.6h.01M1020.7 235.9h.01M1130.6 231.9h.01M1035.2 235.5h.01M1069.2 232.0h.01M1009.1 235.4h.01M1020.5 234.0h.01M1075.1 234.0h.01M1081.3 238.7h.01M1099.5 235.4h.01M1119.8 237.7h.01M998.7 230.0h.01M1068.3 239.6h.01M1059.1 231.8h.01M1045.7 242.9h.01M1107.6 234.2h.01M1063.9 246.7h.01M1093.0 246.4h.01M1093.8 246.5h.01M1030.1 243.0h.01M1068.1 249.6h.01M1198.1 240.7h.01M1207.4 236.3h.01M1214.5 236.6h.01M1152.6 239.3h.01M1158.4 239.0h.01M1193.0 232.4h.01M1223.9 233.3h.01M1236.3 245.9h.01M1160.7 241.1h.01M1151.6 236.6h.01M1221.6 236.6h.01M1097.1 260.2h.01M993.9 252.5h.01M1072.6 253.8h.01M1113.6 255.1h.01M1082.0 253.1h.01M1103.1 257.7h.01M1048.1 259.0h.01M1148.7 264.1h.01M1152.4 263.7h.01M1161.1 252.7h.01M1149.2 262.0h.01M1174.8 249.9h.01M1157.1 254.2h.01M1087.8 277.5h.01M1063.9 277.6h.01M1089.6 276.9h.01M1072.3 277.6h.01M1024.6 275.3h.01M1033.7 275.5h.01M1097.0 276.1h.01M1104.5 276.2h.01M1091.6 279.8h.01M1055.6 276.2h.01M1048.1 277.4h.01M1134.3 279.3h.01M1130.0 278.3h.01M1175.0 267.4h.01M1212.4 276.8h.01M1218.6 279.9h.01M1177.0 274.7h.01M1134.9 293.4h.01M1107.4 292.7h.01M1107.2 292.8h.01M1110.8 294.4h.01M1162.5 293.4h.01M1174.6 293.3h.01M1198.7 291.9h.01M1214.4 293.6h.01M1209.1 293.1h.01M1226.0 292.7h.01M1214.2 291.5h.01M1019.3 329.2h.01M1069.4 332.9h.01M1075.0 332.9h.01M1011.9 339.2h.01M1183.3 339.5h.01M1215.0 334.6h.01M1222.4 333.7h.01M1210.3 350.6h.01M991.0 346.4h.01M995.2 350.6h.01M992.1 357.8h.01M1002.5 351.6h.01M1179.5 379.2h.01M1060.0 379.7h.01M1091.6 383.9h.01M1053.1 381.8h.01M1056.7 380.8h.01M1232.4 386.7h.01M1033.9 381.5h.01M1053.5 381.1h.01M1228.8 382.7h.01M1064.0 386.6h.01M1232.2 377.0h.01M1118.0 381.0h.01M1152.5 384.2h.01M1043.9 380.8h.01M1196.6 382.1h.01M1076.2 388.6h.01M1008.0 379.6h.01M1067.5 386.0h.01M1138.3 381.1h.01M1026.4 384.4h.01M1215.7 382.3h.01M1119.7 379.3h.01M1040.2 381.3h.01M1058.1 378.7h.01M1007.8 380.9h.01M1184.5 379.4h.01M1210.1 382.3h.01M1229.6 380.2h.01M1092.0 383.7h.01M1224.7 379.5h.01M1036.7 382.1h.01M1053.5 378.5h.01M1179.4 383.4h.01M1162.5 381.4h.01M1083.8 387.9h.01M1089.9 382.1h.01M1005.7 380.3h.01M1114.3 380.0h.01M1114.2 394.8h.01M1111.3 395.3h.01M459.8 452.0h.01M462.3 450.7h.01M457.7 455.5h.01M446.9 448.9h.01M503.4 434.1h.01M454.6 473.2h.01M522.1 566.8h.01M527.0 571.5h.01M492.0 657.7h.01M507.6 649.8h.01M505.1 659.2h.01M530.0 650.3h.01M540.8 650.9h.01M837.6 427.6h.01M833.3 426.2h.01M565.8 456.6h.01M578.3 449.3h.01M591.1 462.8h.01M594.9 462.4h.01M599.0 463.2h.01M651.5 460.0h.01M656.3 451.4h.01M657.7 459.4h.01M794.2 456.0h.01M824.5 464.9h.01M832.8 471.1h.01M593.2 557.0h.01M744.8 559.7h.01M733.8 561.7h.01M641.0 557.0h.01M652.8 559.2h.01M627.9 558.2h.01M739.3 559.7h.01M759.0 558.0h.01M710.9 559.6h.01M683.6 557.1h.01M731.5 558.3h.01M616.3 556.4h.01M702.6 562.4h.01M746.8 556.0h.01M712.6 556.5h.01M666.1 559.0h.01M753.9 558.8h.01M600.0 561.8h.01M752.0 555.2h.01M639.2 558.3h.01M701.4 557.4h.01M646.3 555.6h.01M626.3 560.3h.01M843.8 559.8h.01M832.9 559.6h.01M772.3 556.9h.01M814.0 559.5h.01M810.8 561.2h.01M775.5 562.3h.01M766.8 558.4h.01M792.9 556.2h.01M546.0 564.6h.01M558.5 568.4h.01M565.8 569.8h.01M857.8 564.2h.01M863.0 565.1h.01M868.2 564.6h.01M599.5 590.6h.01M614.6 591.7h.01M641.6 590.6h.01M648.9 591.7h.01M633.3 581.3h.01M744.9 587.9h.01M747.6 591.2h.01M750.8 588.5h.01M767.4 591.7h.01M879.6 595.4h.01M680.1 589.2h.01M816.3 590.7h.01M826.3 592.8h.01M647.7 627.9h.01M660.2 626.5h.01M649.5 628.1h.01M770.5 630.1h.01M651.0 640.5h.01M617.7 644.7h.01M548.1 651.9h.01M553.3 649.8h.01M560.6 646.7h.01M649.3 653.8h.01M684.8 650.2h.01M614.8 652.6h.01M667.7 649.3h.01M611.2 655.6h.01M604.7 656.7h.01M672.8 648.3h.01M651.3 652.6h.01M640.9 654.1h.01M616.0 651.3h.01M685.4 653.2h.01M630.1 649.5h.01M638.4 658.7h.01M651.5 654.8h.01M638.9 651.0h.01M607.3 654.1h.01M654.4 655.6h.01M664.3 653.3h.01M651.6 658.1h.01M655.3 653.5h.01M664.4 658.1h.01M664.1 654.3h.01M638.2 655.5h.01M673.1 651.3h.01M659.8 655.7h.01M655.8 663.1h.01M772.6 650.9h.01M778.8 651.5h.01M837.0 648.8h.01M843.2 650.3h.01M850.1 649.4h.01M877.5 651.9h.01M764.3 673.8h.01M770.5 674.4h.01M776.7 673.1h.01M885.8 670.6h.01M1113.7 452.8h.01M1065.9 455.6h.01M1088.9 455.4h.01M1097.8 455.3h.01M1069.5 457.5h.01M1101.0 455.6h.01M997.8 454.5h.01M1088.0 452.2h.01M1043.5 456.7h.01M1107.5 455.5h.01M1226.3 459.6h.01M1225.3 458.8h.01M1189.1 474.7h.01M1175.4 470.0h.01M1202.0 471.4h.01M1030.3 471.5h.01M1099.9 472.8h.01M1121.7 475.3h.01M1051.1 481.5h.01M916.0 488.2h.01M1002.2 495.0h.01M1176.8 499.8h.01M891.0 568.8h.01M896.2 575.0h.01M1135.8 546.3h.01M1186.9 553.5h.01M1108.3 565.8h.01M1220.0 557.8h.01M1075.4 553.7h.01M1155.8 547.9h.01M1177.0 561.3h.01M1128.3 555.9h.01M1103.8 571.2h.01M1150.4 557.2h.01M1091.3 545.7h.01M1080.9 553.3h.01M1143.4 562.9h.01M1174.1 560.1h.01M1035.6 551.7h.01M1116.7 544.6h.01M1057.6 566.9h.01M1045.8 553.8h.01M1055.9 561.6h.01M1165.0 565.6h.01M1114.5 566.4h.01M1183.9 561.7h.01M1075.8 560.3h.01M1148.3 555.9h.01M1192.2 559.6h.01M1178.7 555.9h.01M1181.7 557.5h.01M1199.8 557.3h.01M1175.4 547.9h.01M1161.5 550.9h.01M1149.5 548.9h.01M1171.7 542.6h.01M1178.2 548.0h.01M1133.4 550.2h.01M1154.4 540.1h.01M1133.9 548.3h.01M1206.9 521.0h.01M1031.7 569.3h.01M1045.6 569.5h.01M1027.9 566.5h.01M973.1 569.8h.01M893.1 590.6h.01M976.2 592.7h.01M1051.1 593.7h.01M1075.6 595.4h.01M1137.3 592.1h.01M1140.4 596.2h.01M1146.7 595.4h.01M1149.8 592.7h.01M1199.7 591.2h.01M1208.0 591.7h.01M916.0 650.9h.01M1020.9 650.3h.01M1059.8 650.9h.01M1132.1 674.8h.01M1145.6 673.8h.01M387.0 731.5h.01M432.8 724.1h.01M442.1 728.8h.01M544.0 721.6h.01M439.0 769.0h.01M504.1 769.4h.01M527.3 758.6h.01M537.7 757.9h.01M526.3 743.4h.01M532.5 750.7h.01M540.8 742.3h.01M492.0 845.8h.01M474.6 919.3h.01M445.0 913.8h.01M530.5 908.0h.01M534.8 921.9h.01M541.3 924.0h.01M474.0 920.5h.01M531.0 915.0h.01M486.7 928.3h.01M600.1 701.8h.01M686.3 701.8h.01M547.1 721.6h.01M560.6 720.5h.01M558.5 727.8h.01M576.2 721.6h.01M832.8 706.0h.01M840.1 706.6h.01M846.4 705.4h.01M852.2 707.0h.01M609.4 741.9h.01M636.4 740.3h.01M678.0 728.8h.01M561.4 740.2h.01M546.8 739.4h.01M763.8 720.3h.01M889.1 732.6h.01M858.2 733.3h.01M886.9 745.4h.01M832.1 739.9h.01M886.3 761.3h.01M887.5 753.7h.01M842.4 755.7h.01M842.6 738.3h.01M885.8 753.3h.01M860.6 744.8h.01M854.6 773.2h.01M887.4 757.1h.01M878.3 759.0h.01M889.5 761.8h.01M746.5 743.9h.01M721.1 750.3h.01M724.4 746.8h.01M718.0 747.4h.01M680.3 754.2h.01M661.8 750.7h.01M670.7 751.1h.01M615.7 759.0h.01M636.4 751.7h.01M642.7 757.3h.01M563.7 756.9h.01M762.3 785.8h.01M809.6 796.9h.01M821.9 784.2h.01M877.8 782.0h.01M866.5 781.7h.01M862.3 797.3h.01M812.2 783.6h.01M843.3 762.2h.01M881.6 787.9h.01M866.1 798.9h.01M875.7 802.0h.01M869.0 778.8h.01M830.3 794.6h.01M871.5 772.9h.01M848.7 791.6h.01M808.9 938.9h.01M610.7 941.0h.01M663.8 943.2h.01M784.6 937.5h.01M768.9 939.4h.01M620.0 941.4h.01M562.6 935.7h.01M792.4 941.2h.01M747.2 935.4h.01M871.0 941.8h.01M768.3 943.0h.01M606.8 941.5h.01M701.2 939.6h.01M606.7 939.8h.01M703.9 939.6h.01M777.5 937.3h.01M866.6 940.0h.01M632.0 936.5h.01M787.6 938.9h.01M671.0 939.1h.01M820.3 938.3h.01M692.4 940.5h.01M832.3 936.7h.01M713.4 935.2h.01M731.1 934.0h.01M570.2 936.9h.01M693.6 937.1h.01M844.1 934.3h.01M889.5 939.2h.01M609.8 945.6h.01M548.6 939.5h.01M734.5 937.7h.01M874.0 938.4h.01M612.7 933.0h.01M725.9 941.7h.01M632.8 939.9h.01M691.5 939.7h.01M700.5 940.4h.01M676.7 942.3h.01M586.9 939.7h.01M780.1 941.3h.01M811.9 938.2h.01M720.8 935.9h.01M728.7 937.9h.01M745.1 936.9h.01M881.2 935.6h.01M831.8 939.6h.01M774.7 939.0h.01M870.2 936.8h.01M656.2 943.8h.01M820.1 941.9h.01M990.8 686.7h.01M995.0 685.8h.01M999.1 686.2h.01M1002.2 687.1h.01M1022.0 690.0h.01M1073.3 689.4h.01M1076.6 692.1h.01M1079.1 692.9h.01M1192.4 690.4h.01M1161.2 682.1h.01M1165.4 682.5h.01M1170.2 681.7h.01M925.6 702.0h.01M920.6 699.2h.01M927.7 700.2h.01M1137.9 687.3h.01M1134.2 689.2h.01M1140.9 686.6h.01M957.1 756.2h.01M942.0 751.9h.01M944.6 747.8h.01M950.3 749.3h.01M930.4 755.2h.01M928.2 743.0h.01M912.0 753.0h.01M895.4 749.8h.01M916.9 754.2h.01M928.8 758.5h.01M939.5 757.4h.01M912.5 755.2h.01M922.4 757.2h.01M892.7 757.5h.01M915.2 753.1h.01M904.2 750.3h.01M917.7 760.6h.01M996.0 781.0h.01M890.7 776.9h.01M908.7 775.4h.01M909.7 780.4h.01M926.2 775.6h.01M955.1 772.7h.01M908.9 786.2h.01M911.3 782.0h.01M988.6 779.4h.01M957.8 777.6h.01M980.2 779.3h.01M923.3 773.1h.01M906.0 772.9h.01M966.3 776.2h.01M932.6 782.9h.01M944.6 785.5h.01M963.1 782.0h.01M992.1 774.2h.01M909.1 779.5h.01M991.4 781.1h.01M990.1 779.5h.01M979.8 777.4h.01M966.1 782.2h.01M911.3 777.7h.01M938.0 782.2h.01M996.0 783.8h.01M890.1 775.9h.01M922.9 779.3h.01M943.5 769.0h.01M907.1 777.3h.01M959.8 782.1h.01M976.4 772.0h.01M927.5 786.4h.01M981.5 774.0h.01M363.9 1023.7h.01M364.7 1030.1h.01M370.3 1025.0h.01M373.1 1005.1h.01M376.8 1012.2h.01M401.0 1020.5h.01M402.8 1012.9h.01M436.9 1009.6h.01M429.3 1006.2h.01M437.7 1005.1h.01M428.6 1005.8h.01M431.0 1023.5h.01M429.6 1028.7h.01M422.2 1028.5h.01M427.9 1027.1h.01M426.6 1017.3h.01M459.8 1017.3h.01M457.1 1018.3h.01M461.9 1019.2h.01M490.1 1021.4h.01M491.0 1022.1h.01M468.8 998.8h.01M468.1 1001.0h.01M463.0 1000.0h.01M525.3 1021.0h.01M515.0 1023.7h.01M514.1 1022.9h.01M513.0 1022.7h.01M524.3 1022.1h.01M541.6 1023.3h.01M534.8 1021.6h.01M539.9 1023.3h.01M602.5 945.2h.01M656.5 944.9h.01M676.1 945.4h.01M692.7 944.4h.01M850.7 943.1h.01M646.6 943.5h.01M690.4 945.7h.01M658.0 944.7h.01M656.4 945.0h.01M726.9 943.4h.01M672.7 946.7h.01M789.4 947.6h.01M862.2 945.4h.01M888.4 947.0h.01M793.3 947.7h.01M869.1 945.2h.01M879.9 944.7h.01M663.7 947.7h.01M610.3 946.1h.01M740.4 973.2h.01M692.6 954.6h.01M760.3 978.6h.01M593.4 950.6h.01M875.5 970.2h.01M599.9 946.9h.01M604.8 962.8h.01M630.1 947.3h.01M594.0 954.7h.01M631.4 963.8h.01M813.4 974.1h.01M804.8 969.5h.01M701.4 963.2h.01M789.9 962.8h.01M700.9 962.1h.01M724.5 964.8h.01M687.8 957.6h.01M634.9 942.6h.01M867.7 979.1h.01M585.5 942.3h.01M633.6 971.1h.01M623.5 966.0h.01M841.3 964.6h.01M863.3 958.7h.01M599.4 960.4h.01M702.2 970.4h.01M648.7 962.8h.01M640.4 949.5h.01M833.1 971.8h.01M675.8 964.2h.01M607.6 952.0h.01M639.1 956.9h.01M827.5 968.3h.01M676.8 950.1h.01M676.1 948.5h.01M691.3 958.4h.01M687.2 953.0h.01M872.4 967.4h.01" stroke="#bade28" stroke-width="6.5"/>
<path d="M640.8 404.0h.01M797.3 190.9h.01M802.1 188.8h.01M806.4 190.1h.01M801.5 190.2h.01M802.1 190.1h.01M806.8 190.2h.01M902.5 191.1h.01M882.4 192.3h.01M901.8 189.6h.01M916.4 185.5h.01M893.2 189.0h.01M904.8 188.8h.01M892.0 189.6h.01M900.4 192.4h.01M871.9 190.0h.01M889.3 186.5h.01M868.6 191.0h.01M869.5 188.7h.01M910.1 193.6h.01M872.5 190.7h.01M892.8 191.4h.01M905.1 185.9h.01M931.1 181.8h.01M932.7 181.2h.01M922.4 182.4h.01M988.4 233.2h.01M980.5 234.7h.01M984.1 231.3h.01M983.0 235.0h.01M988.1 231.9h.01M777.7 277.7h.01M767.2 281.5h.01M807.6 278.5h.01M783.6 275.0h.01M811.0 286.9h.01M786.0 271.4h.01M779.5 274.0h.01M818.9 276.8h.01M743.1 278.8h.01M820.8 280.4h.01M788.8 270.8h.01M868.0 278.4h.01M931.6 280.4h.01M905.7 276.6h.01M849.1 280.2h.01M848.8 279.0h.01M922.7 274.3h.01M877.8 273.3h.01M910.4 275.7h.01M927.7 278.0h.01M918.2 279.6h.01M917.4 278.9h.01M875.0 278.5h.01M894.5 276.8h.01M882.0 280.3h.01M918.0 275.7h.01M856.8 276.4h.01M886.3 279.2h.01M913.6 279.0h.01M889.3 282.3h.01M931.6 274.8h.01M871.6 277.6h.01M863.0 280.7h.01M875.5 279.3h.01M925.0 278.0h.01M909.4 277.1h.01M892.3 280.2h.01M880.5 279.2h.01M891.9 283.7h.01M867.5 278.4h.01M849.7 275.1h.01M852.1 278.9h.01M914.7 280.8h.01M861.7 277.1h.01M928.1 273.7h.01M900.5 280.6h.01M917.7 275.4h.01M922.2 273.9h.01M863.3 284.1h.01M921.7 280.9h.01M912.7 281.5h.01M968.0 280.9h.01M960.4 280.3h.01M965.4 280.4h.01M962.0 278.9h.01M967.9 279.2h.01M987.0 280.6h.01M979.6 280.4h.01M832.2 292.8h.01M872.0 292.2h.01M876.2 292.1h.01M660.8 348.1h.01M848.0 379.1h.01M860.4 378.7h.01M899.8 382.0h.01M895.5 387.6h.01M937.5 380.7h.01M924.0 375.6h.01M941.9 374.4h.01M944.0 376.5h.01M935.5 381.9h.01M926.7 379.2h.01M963.2 374.0h.01M978.7 376.1h.01M975.5 377.9h.01M1084.1 168.7h.01M1067.5 170.8h.01M1085.3 168.4h.01M1052.8 167.9h.01M1063.3 181.3h.01M1009.4 182.7h.01M1080.9 182.1h.01M1142.8 164.0h.01M1140.8 157.6h.01M1155.7 153.1h.01M1111.9 215.3h.01M1075.8 222.2h.01M1125.8 223.1h.01M1205.7 216.0h.01M1136.2 221.8h.01M1233.6 224.6h.01M1208.2 219.3h.01M1112.0 228.5h.01M1182.7 218.4h.01M1183.2 223.6h.01M1153.5 221.2h.01M1142.3 231.3h.01M1119.9 223.2h.01M1209.7 224.6h.01M1198.6 224.7h.01M1208.9 222.3h.01M1089.2 221.4h.01M1229.8 225.5h.01M1234.5 210.5h.01M1104.5 220.1h.01M1134.9 226.7h.01M1135.9 223.0h.01M1098.3 229.4h.01M1204.1 223.1h.01M1198.7 224.6h.01M1137.5 223.5h.01M1202.8 227.7h.01M1216.7 226.8h.01M1152.3 226.0h.01M1092.1 224.2h.01M1162.2 224.0h.01M1190.9 219.5h.01M1128.6 224.0h.01M1223.2 228.3h.01M1234.7 228.7h.01M1165.8 237.1h.01M1118.1 220.0h.01M1098.4 217.0h.01M1050.5 234.6h.01M1002.3 239.0h.01M1132.7 237.8h.01M1022.0 224.9h.01M1022.9 229.3h.01M1123.3 238.2h.01M1106.5 234.4h.01M1066.5 235.7h.01M1005.9 240.9h.01M1067.9 242.9h.01M1005.5 248.0h.01M1050.6 243.9h.01M1150.6 239.3h.01M1169.6 236.2h.01M1154.4 238.5h.01M1199.0 239.4h.01M1196.8 237.5h.01M1213.7 238.8h.01M1228.4 234.4h.01M1192.8 237.0h.01M1173.9 240.1h.01M1172.4 241.1h.01M1168.7 240.6h.01M1146.0 238.6h.01M1202.8 240.9h.01M1177.9 239.1h.01M1223.0 239.6h.01M1022.6 253.0h.01M1083.4 260.9h.01M1067.8 261.0h.01M1203.0 259.1h.01M1172.8 256.9h.01M1056.0 276.2h.01M1056.6 275.0h.01M1023.6 278.0h.01M1074.5 277.5h.01M1021.5 278.1h.01M1058.6 275.4h.01M1030.3 276.3h.01M1041.6 278.8h.01M1089.1 278.6h.01M1104.0 274.8h.01M1101.9 276.0h.01M1141.9 276.1h.01M1138.4 276.7h.01M1134.3 293.0h.01M1114.8 292.4h.01M1126.2 293.5h.01M1175.9 293.4h.01M1189.5 293.1h.01M1183.7 296.6h.01M1183.7 293.6h.01M1209.0 292.0h.01M1220.5 294.1h.01M1214.3 294.0h.01M1208.9 292.0h.01M1030.8 348.4h.01M1055.3 337.8h.01M1079.6 342.0h.01M1003.9 340.7h.01M1012.0 345.6h.01M1028.8 335.9h.01M1042.8 345.5h.01M1225.9 333.5h.01M1203.4 381.3h.01M1237.2 383.9h.01M1007.4 385.7h.01M1182.3 375.4h.01M1129.9 382.2h.01M1112.7 383.9h.01M1039.1 381.4h.01M1039.3 383.7h.01M1023.4 384.6h.01M1107.7 381.2h.01M1148.4 384.1h.01M1064.7 380.5h.01M1215.6 380.9h.01M1077.5 384.6h.01M1073.6 383.6h.01M1049.5 383.5h.01M1080.3 376.7h.01M1237.2 382.7h.01M1023.5 383.4h.01M1231.7 380.7h.01M1173.6 382.2h.01M1127.7 377.2h.01M1110.6 380.3h.01M1195.1 387.9h.01M1125.0 379.1h.01M1027.6 381.3h.01M1034.2 382.0h.01M1134.7 392.4h.01M835.9 428.8h.01M835.0 428.2h.01M621.7 466.7h.01M624.3 464.0h.01M783.6 456.0h.01M653.7 562.3h.01M622.7 558.4h.01M615.1 559.0h.01M681.5 561.2h.01M627.6 558.6h.01M629.7 560.2h.01M693.0 558.7h.01M631.6 556.4h.01M615.1 560.1h.01M762.1 558.6h.01M646.3 558.6h.01M605.5 557.2h.01M733.0 556.9h.01M680.5 559.5h.01M717.6 559.5h.01M609.5 557.3h.01M644.7 556.9h.01M609.3 558.9h.01M650.8 560.0h.01M701.2 563.3h.01M653.5 557.4h.01M756.6 557.8h.01M759.9 560.0h.01M748.4 560.7h.01M767.9 558.4h.01M835.8 557.8h.01M830.9 554.2h.01M797.6 558.2h.01M791.4 561.6h.01M851.7 558.0h.01M816.8 563.9h.01M837.8 555.6h.01M772.3 559.7h.01M806.1 561.0h.01M778.0 559.2h.01M776.0 556.6h.01M835.0 555.6h.01M801.7 557.6h.01M835.3 586.9h.01M647.1 651.3h.01M605.8 654.5h.01M649.3 653.6h.01M624.8 654.6h.01M629.8 649.8h.01M674.2 652.2h.01M607.2 646.2h.01M620.9 654.0h.01M657.2 652.2h.01M669.0 650.9h.01M650.2 654.3h.01M634.3 656.1h.01M667.5 657.1h.01M646.4 661.2h.01M641.1 651.6h.01M655.7 653.2h.01M652.6 650.4h.01M660.3 653.0h.01M660.4 653.2h.01M639.9 656.2h.01M644.7 660.8h.01M649.3 661.7h.01M667.5 658.9h.01M1033.9 452.5h.01M1030.4 451.1h.01M999.4 451.7h.01M1052.3 453.9h.01M999.5 455.1h.01M1054.9 456.2h.01M1075.7 453.2h.01M1062.1 460.7h.01M1023.9 451.9h.01M1071.8 464.4h.01M1233.7 458.0h.01M1230.7 457.9h.01M1169.8 476.1h.01M1069.3 568.8h.01M1195.8 552.0h.01M1104.0 570.0h.01M1136.4 552.6h.01M1133.2 550.1h.01M1117.0 572.3h.01M1150.8 556.0h.01M1211.4 550.6h.01M1092.2 559.2h.01M1210.0 570.3h.01M1143.5 571.6h.01M1208.3 563.2h.01M1180.2 574.4h.01M1038.0 548.9h.01M1190.3 562.9h.01M1228.3 566.5h.01M1080.2 558.9h.01M1130.4 554.5h.01M1099.2 564.0h.01M1063.2 557.7h.01M1220.3 562.5h.01M1135.6 557.9h.01M1157.4 556.5h.01M1113.8 551.0h.01M1228.6 568.9h.01M1223.8 558.7h.01M1143.7 551.8h.01M1144.4 560.9h.01M1098.0 558.8h.01M1096.9 570.8h.01M1186.8 556.0h.01M1190.2 553.2h.01M1183.7 556.9h.01M1013.9 568.9h.01M1016.7 568.6h.01M1019.0 564.0h.01M1033.7 571.2h.01M517.9 914.3h.01M523.1 921.2h.01M481.3 926.6h.01M520.7 919.1h.01M454.0 917.2h.01M443.7 913.1h.01M525.0 920.3h.01M533.9 920.7h.01M522.8 929.2h.01M570.4 741.2h.01M561.2 740.8h.01M560.1 741.2h.01M567.8 739.3h.01M557.5 740.0h.01M781.5 719.3h.01M869.3 730.9h.01M877.4 732.7h.01M884.3 761.1h.01M854.7 751.9h.01M844.6 751.4h.01M839.2 750.3h.01M839.2 747.9h.01M834.8 748.4h.01M835.8 745.3h.01M847.2 754.3h.01M885.1 758.9h.01M885.8 762.5h.01M885.8 758.0h.01M755.9 747.0h.01M755.5 747.9h.01M745.2 748.0h.01M759.5 750.1h.01M754.9 745.1h.01M710.8 747.2h.01M771.1 782.4h.01M767.7 787.2h.01M840.7 785.1h.01M853.2 782.0h.01M820.0 791.3h.01M844.8 782.6h.01M828.6 788.4h.01M822.4 771.6h.01M861.8 787.6h.01M847.4 775.6h.01M863.6 784.0h.01M854.6 775.6h.01M575.7 936.6h.01M567.3 939.4h.01M585.7 942.9h.01M844.5 942.3h.01M626.9 937.4h.01M617.7 937.8h.01M662.1 939.7h.01M741.5 938.7h.01M702.7 940.3h.01M714.1 941.0h.01M766.0 939.7h.01M556.5 939.6h.01M672.3 939.0h.01M545.8 942.0h.01M839.6 942.4h.01M810.2 935.5h.01M712.1 940.2h.01M710.1 939.6h.01M679.6 938.7h.01M695.7 936.9h.01M797.6 934.3h.01M684.4 938.5h.01M821.1 935.6h.01M639.5 939.6h.01M802.9 937.0h.01M790.5 940.2h.01M697.3 939.8h.01M662.1 938.4h.01M650.6 941.0h.01M914.7 699.2h.01M1147.6 689.0h.01M1169.6 688.0h.01M1168.8 688.6h.01M898.6 749.0h.01M897.8 743.1h.01M910.6 749.4h.01M955.9 752.0h.01M923.4 756.8h.01M938.2 750.5h.01M921.8 749.8h.01M909.3 748.1h.01M917.7 755.9h.01M928.1 740.7h.01M968.5 776.1h.01M970.7 777.0h.01M962.3 782.0h.01M923.6 774.5h.01M902.5 779.3h.01M917.3 772.8h.01M947.5 781.1h.01M991.9 783.0h.01M976.1 782.4h.01M967.1 772.5h.01M974.1 781.1h.01M900.0 784.8h.01M903.9 775.5h.01M983.4 778.7h.01M953.9 775.2h.01M934.5 778.6h.01M966.3 777.1h.01M920.3 785.4h.01M958.7 777.1h.01M959.0 771.8h.01M957.8 782.0h.01M929.7 784.7h.01M283.1 993.1h.01M288.5 990.4h.01M269.5 991.6h.01M286.8 991.6h.01M281.2 989.8h.01M245.7 1008.4h.01M247.0 1025.5h.01M274.8 1021.5h.01M277.3 1022.3h.01M293.1 1018.2h.01M296.0 1019.4h.01M297.7 1020.2h.01M297.7 1029.8h.01M316.8 1018.2h.01M320.5 1021.5h.01M327.2 1018.8h.01M325.7 1007.3h.01M372.3 1023.4h.01M366.6 1012.6h.01M378.2 1015.1h.01M363.4 1027.1h.01M378.4 1007.0h.01M371.2 1018.0h.01M398.8 1010.4h.01M398.2 1007.1h.01M402.5 1020.5h.01M398.5 1021.1h.01M433.4 1013.6h.01M440.8 1008.0h.01M412.0 1019.4h.01M428.1 1022.3h.01M433.6 1023.7h.01M432.9 1016.8h.01M429.9 1022.1h.01M436.9 1009.4h.01M445.2 1023.6h.01M443.6 1030.2h.01M446.3 1031.2h.01M449.4 1029.8h.01M453.1 1030.6h.01M451.1 1029.2h.01M460.2 1030.2h.01M463.5 1030.6h.01M466.0 1029.8h.01M459.8 1018.1h.01M483.8 1023.6h.01M466.7 996.9h.01M517.4 1023.7h.01M527.4 1022.7h.01M527.8 1021.5h.01M524.2 1023.3h.01M542.1 1022.2h.01M536.0 1022.0h.01M335.1 1043.7h.01M337.6 1043.1h.01M426.1 1042.7h.01M428.2 1043.5h.01M430.7 1042.3h.01M441.5 1044.3h.01M443.6 1045.2h.01M445.7 1043.9h.01M447.3 1044.8h.01M456.7 1044.8h.01M489.9 1042.7h.01M504.5 1042.3h.01M751.1 947.1h.01M835.3 943.8h.01M866.3 948.4h.01M711.1 945.9h.01M741.2 948.2h.01M768.0 947.9h.01M834.3 947.2h.01M825.5 943.6h.01M630.5 947.2h.01M727.3 945.2h.01M865.9 943.4h.01M735.3 949.8h.01M878.0 946.7h.01M805.7 944.7h.01M721.5 945.8h.01M755.7 946.4h.01M795.4 946.7h.01M700.8 945.6h.01M741.7 946.3h.01M754.7 943.8h.01M704.6 982.6h.01M725.3 954.5h.01M764.6 967.2h.01M609.3 970.9h.01M877.9 969.1h.01M706.8 960.1h.01M789.7 969.0h.01M685.1 976.4h.01M614.3 969.0h.01M590.6 961.6h.01M873.9 950.6h.01M585.5 979.6h.01M862.4 951.7h.01M780.2 981.7h.01M650.5 966.7h.01M783.1 965.2h.01M626.8 966.3h.01M700.5 952.5h.01M857.6 965.1h.01M762.6 955.9h.01M737.3 961.8h.01M839.3 966.9h.01M819.6 947.6h.01M629.5 966.8h.01M612.5 967.9h.01M593.2 966.2h.01M662.2 957.2h.01M673.9 949.6h.01M682.9 955.8h.01M693.9 949.7h.01M682.5 948.5h.01M688.9 946.2h.01M690.4 947.7h.01M680.0 952.9h.01M872.1 970.8h.01M855.8 971.9h.01M879.6 972.0h.01M876.5 969.2h.01M889.0 976.2h.01M889.6 982.4h.01M576.2 982.4h.01M600.1 982.4h.01M557.5 994.9h.01M597.0 994.9h.01M615.7 995.9h.01M699.8 979.9h.01M705.0 979.3h.01M711.3 980.3h.01M717.1 979.9h.01M697.8 998.0h.01M705.0 994.9h.01M738.3 998.0h.01M773.6 1000.1h.01M775.7 982.4h.01M834.5 982.4h.01M562.0 1020.2h.01M564.7 1020.9h.01M567.4 1019.8h.01M587.0 1022.9h.01M590.3 1023.6h.01M594.9 1021.5h.01M598.0 1020.9h.01M620.2 1020.9h.01M652.7 1020.9h.01M671.2 1020.2h.01M675.5 1019.4h.01M697.8 1022.9h.01M706.1 1021.5h.01M790.9 1023.6h.01M838.5 1022.3h.01M608.4 1043.7h.01M613.6 1044.3h.01M618.8 1043.5h.01M646.2 1044.8h.01" stroke="#bade28" stroke-width="6.0"/>
<path d="M803.2 189.6h.01M805.7 190.5h.01M871.1 189.9h.01M891.8 194.6h.01M901.2 192.8h.01M882.9 192.9h.01M896.5 194.6h.01M888.7 186.5h.01M910.4 191.7h.01M872.4 189.3h.01M868.8 192.3h.01M942.1 185.1h.01M977.7 231.5h.01M817.3 279.2h.01M808.4 280.6h.01M800.4 280.9h.01M798.0 273.6h.01M849.5 272.5h.01M748.7 275.4h.01M912.6 277.7h.01M894.5 280.6h.01M850.6 277.2h.01M886.6 278.9h.01M901.1 277.0h.01M893.3 275.3h.01M927.2 277.5h.01M887.4 282.0h.01M867.3 272.6h.01M931.2 279.4h.01M897.3 275.5h.01M860.5 279.1h.01M910.8 275.3h.01M928.2 278.4h.01M949.9 281.4h.01M839.0 292.6h.01M873.7 292.2h.01M660.6 347.6h.01M905.3 376.8h.01M901.0 383.0h.01M958.5 381.7h.01M982.9 377.2h.01M1082.1 167.1h.01M1036.4 172.1h.01M1104.3 167.0h.01M1033.4 169.1h.01M1046.6 171.0h.01M1093.2 167.6h.01M1095.4 166.9h.01M1021.8 168.9h.01M1091.1 180.9h.01M1089.5 181.4h.01M1089.3 182.3h.01M1035.8 181.5h.01M1221.3 218.2h.01M1203.1 219.4h.01M1229.2 226.0h.01M1100.2 212.1h.01M1106.1 225.2h.01M1226.7 220.8h.01M1085.7 215.4h.01M1115.0 227.7h.01M1099.7 221.6h.01M1118.5 223.1h.01M1105.1 220.8h.01M1191.4 215.9h.01M1205.0 218.0h.01M1112.7 226.7h.01M1190.4 226.7h.01M1083.3 217.9h.01M1223.6 227.7h.01M1118.3 221.1h.01M1193.8 217.1h.01M1130.3 220.1h.01M1112.4 225.1h.01M1174.8 212.1h.01M1147.8 226.8h.01M1085.3 219.3h.01M1087.1 222.4h.01M1154.4 224.1h.01M1124.0 226.7h.01M1014.5 233.5h.01M1022.8 233.8h.01M1132.7 234.0h.01M1066.0 239.1h.01M1101.9 235.9h.01M1066.6 232.9h.01M1123.1 230.8h.01M1101.6 235.6h.01M990.6 237.9h.01M991.8 240.7h.01M1061.9 236.8h.01M1096.7 235.4h.01M1089.0 244.5h.01M1080.7 246.1h.01M1019.9 248.1h.01M1167.7 235.0h.01M1191.7 237.2h.01M1210.6 239.3h.01M1214.7 236.0h.01M1168.1 236.5h.01M1176.5 248.6h.01M1235.4 240.8h.01M1181.3 235.9h.01M1046.6 251.9h.01M1001.2 257.9h.01M1052.9 254.6h.01M1006.1 260.4h.01M1169.7 261.9h.01M1178.0 253.5h.01M1160.1 257.9h.01M1105.5 274.0h.01M1058.2 280.0h.01M1094.6 276.1h.01M1085.2 276.0h.01M1039.8 276.0h.01M1143.6 277.7h.01M1222.3 294.0h.01M1198.2 293.4h.01M1081.9 339.3h.01M1226.2 334.8h.01M1112.2 384.4h.01M1230.1 380.3h.01M1080.0 379.5h.01M1038.1 380.3h.01M1003.0 384.3h.01M1187.9 380.6h.01M1218.6 380.9h.01M1188.3 383.8h.01M1070.7 381.6h.01M1174.1 380.3h.01M1210.6 378.4h.01M1036.3 383.1h.01M1227.4 380.5h.01M1078.8 379.5h.01M1236.9 381.1h.01M1206.5 382.3h.01M1098.4 382.2h.01M1030.9 385.1h.01M1155.5 383.0h.01M1017.3 384.9h.01M529.4 567.9h.01M524.9 567.9h.01M519.7 567.8h.01M525.5 564.8h.01M837.6 429.2h.01M614.7 461.9h.01M621.1 452.9h.01M707.1 559.6h.01M718.9 560.7h.01M711.9 558.5h.01M697.7 559.1h.01M715.1 560.3h.01M677.8 557.0h.01M719.8 559.8h.01M656.8 558.5h.01M807.3 561.2h.01M833.0 558.2h.01M818.7 558.7h.01M843.2 559.7h.01M824.9 560.3h.01M815.5 593.6h.01M826.1 593.3h.01M834.7 592.4h.01M686.0 653.8h.01M673.9 650.7h.01M682.3 654.7h.01M636.9 656.0h.01M655.7 654.8h.01M664.3 652.1h.01M638.0 661.4h.01M1015.1 458.1h.01M1071.0 453.3h.01M1231.8 457.6h.01M1167.6 470.7h.01M1208.5 475.6h.01M1226.5 564.3h.01M1052.7 544.0h.01M1080.1 564.3h.01M1195.2 565.8h.01M1059.3 569.3h.01M1193.8 552.0h.01M1171.6 574.0h.01M1062.1 556.9h.01M1116.2 564.4h.01M1190.9 564.5h.01M1224.2 553.9h.01M1141.2 563.9h.01M1120.1 553.1h.01M1142.9 555.5h.01M1162.9 552.2h.01M1018.7 565.6h.01M1026.7 568.7h.01M542.6 914.8h.01M519.4 930.3h.01M507.2 918.5h.01M522.2 925.3h.01M866.4 732.8h.01M850.9 764.6h.01M847.5 759.0h.01M849.5 751.6h.01M889.8 763.6h.01M842.8 767.1h.01M886.1 752.3h.01M850.0 750.2h.01M886.3 769.0h.01M889.5 760.1h.01M887.7 759.2h.01M884.1 754.9h.01M889.1 751.7h.01M760.5 748.0h.01M681.2 746.4h.01M684.7 750.4h.01M759.6 783.6h.01M840.9 793.6h.01M880.0 770.9h.01M858.5 787.6h.01M828.8 782.4h.01M831.5 779.4h.01M814.3 790.5h.01M847.4 784.4h.01M882.6 782.6h.01M821.2 784.5h.01M844.0 786.1h.01M908.4 700.6h.01M1164.9 687.9h.01M482.7 949.6h.01M457.7 945.0h.01M526.7 946.7h.01M530.5 947.1h.01M533.6 946.2h.01M536.7 947.5h.01M538.8 971.0h.01M278.3 993.2h.01M277.2 991.3h.01M270.9 991.3h.01M267.0 992.1h.01M245.8 1021.8h.01M239.6 1025.3h.01M368.5 1018.4h.01M359.8 1022.8h.01M376.8 1002.4h.01M370.7 1026.6h.01M377.6 1003.7h.01M380.8 1007.1h.01M367.1 1013.9h.01M359.1 1031.9h.01M361.7 1003.8h.01M365.6 997.6h.01M361.4 1006.2h.01M382.9 1020.1h.01M386.8 1002.0h.01M386.3 999.1h.01M380.6 999.3h.01M384.3 1001.0h.01M397.4 1015.8h.01M398.1 1012.4h.01M398.8 1024.2h.01M435.9 1001.4h.01M441.1 1000.0h.01M433.9 1013.3h.01M424.2 1008.7h.01M427.4 1007.9h.01M425.2 1028.6h.01M432.9 1022.7h.01M427.3 1018.6h.01M462.5 1020.2h.01M457.5 999.9h.01M528.0 1022.7h.01M833.4 943.1h.01M663.4 947.7h.01M609.5 946.9h.01M853.7 948.1h.01M866.3 944.3h.01M817.3 943.8h.01M686.4 946.6h.01M743.1 947.9h.01M772.2 944.8h.01M696.6 944.0h.01M668.5 946.7h.01M747.8 947.6h.01M879.2 949.0h.01M664.5 948.2h.01M630.0 945.0h.01M687.0 947.7h.01M869.3 946.6h.01M644.0 947.1h.01M800.3 944.0h.01M836.9 948.8h.01M603.5 948.8h.01M658.1 946.0h.01M840.3 955.8h.01M661.6 954.8h.01M718.1 960.8h.01M701.8 951.8h.01M869.2 956.7h.01M752.7 951.0h.01M855.2 940.9h.01M855.7 963.2h.01M692.7 967.1h.01M830.2 969.2h.01M681.3 937.9h.01M743.9 957.9h.01M636.9 950.0h.01M632.7 967.9h.01M706.2 966.4h.01M701.9 975.7h.01M774.2 947.7h.01M738.4 967.4h.01M691.3 952.4h.01M621.9 962.3h.01M621.8 968.1h.01M631.0 940.7h.01M686.8 949.7h.01M678.0 955.0h.01M685.3 952.8h.01M674.0 953.4h.01M861.8 969.6h.01M869.6 972.6h.01M874.7 969.1h.01M867.6 972.9h.01M860.1 969.5h.01M872.4 968.4h.01" stroke="#bade28" stroke-width="5.5"/>
<path d="M273.6 989.6h.01M293.4 990.6h.01M254.5 991.0h.01M373.1 1047.8h.01M364.7 1012.4h.01M399.5 1012.8h.01M438.8 1003.8h.01M428.1 1007.1h.01M426.4 1001.1h.01M458.3 1019.6h.01M482.3 1024.1h.01M493.3 1019.6h.01M487.3 1022.4h.01M471.3 996.9h.01M743.5 948.5h.01M813.1 949.3h.01M725.0 944.4h.01M814.6 942.6h.01M621.3 944.6h.01M787.4 945.2h.01M862.5 947.7h.01M847.9 947.1h.01M794.4 944.2h.01M833.8 950.3h.01M737.5 960.6h.01M825.8 973.8h.01M856.8 949.3h.01M729.2 953.1h.01M863.5 969.2h.01M841.8 958.4h.01M835.7 966.0h.01M657.2 953.0h.01M719.5 968.2h.01M821.1 962.8h.01M730.2 969.2h.01M858.5 950.3h.01M674.9 956.1h.01M876.5 967.5h.01" stroke="#bade28" stroke-width="5.0"/>
<path d="M1027.9 752.6h.01M1068.4 753.0h.01M1178.8 747.3h.01M1191.5 745.3h.01M1132.2 762.7h.01M1185.7 748.8h.01M1153.7 748.4h.01M1112.4 794.6h.01M1188.8 785.9h.01M1193.2 786.3h.01M1137.5 790.8h.01M1154.7 791.6h.01M996.5 806.1h.01M981.7 805.8h.01M1103.4 801.6h.01M995.0 806.1h.01M1114.9 805.6h.01M941.2 802.8h.01M1048.6 926.9h.01M1141.3 943.4h.01" stroke="#addc30" stroke-width="8.0"/>
<path d="M1036.2 754.2h.01M1122.7 759.1h.01M1065.7 757.5h.01M1097.7 757.8h.01M978.2 757.1h.01M1110.9 756.9h.01M1042.6 754.8h.01M1124.4 754.1h.01M1061.4 758.1h.01M1097.9 758.8h.01M1012.1 758.3h.01M1019.0 753.6h.01M1031.9 759.3h.01M1077.6 760.0h.01M1076.8 754.4h.01M996.5 751.8h.01M977.3 760.8h.01M1104.9 756.7h.01M986.9 757.4h.01M981.6 757.2h.01M1045.1 756.0h.01M976.1 750.1h.01M1155.2 748.4h.01M1195.5 751.9h.01M1136.2 751.1h.01M1179.4 748.1h.01M1208.9 748.1h.01M1193.2 746.9h.01M1154.0 749.9h.01M1158.2 753.3h.01M1171.6 749.4h.01M1221.4 749.1h.01M1136.5 748.4h.01M1220.3 749.0h.01M1175.4 748.6h.01M1144.3 760.7h.01M1150.7 750.3h.01M1194.2 749.8h.01M1170.5 748.8h.01M1211.9 747.9h.01M1225.2 751.7h.01M1218.8 748.1h.01M1185.3 746.9h.01M1200.5 747.8h.01M1184.2 759.5h.01M1034.5 782.5h.01M1073.4 787.7h.01M1011.3 786.2h.01M998.2 788.4h.01M1004.0 797.4h.01M1000.5 800.7h.01M1070.8 797.7h.01M1011.4 782.2h.01M1097.5 795.6h.01M1075.8 783.4h.01M1106.5 780.6h.01M1116.0 779.0h.01M1019.1 797.2h.01M1023.8 788.2h.01M1118.5 790.0h.01M1109.6 784.6h.01M1001.1 803.8h.01M1029.1 790.8h.01M1072.9 799.5h.01M1085.5 786.5h.01M1084.7 800.4h.01M1101.2 782.2h.01M1016.3 794.2h.01M1048.3 798.2h.01M1027.9 784.0h.01M1002.9 788.5h.01M1082.8 787.6h.01M1117.5 789.5h.01M1042.3 789.0h.01M1118.3 777.3h.01M1008.7 792.4h.01M1198.7 781.9h.01M1142.9 783.8h.01M1134.9 782.7h.01M1187.2 790.8h.01M1194.4 783.7h.01M1187.8 783.9h.01M1165.3 779.4h.01M1213.3 784.6h.01M1212.2 782.5h.01M1142.7 789.2h.01M1183.0 780.7h.01M1215.0 782.9h.01M1145.1 786.1h.01M1170.0 786.1h.01M1150.2 783.1h.01M1198.7 787.9h.01M1182.6 779.4h.01M1148.2 787.3h.01M1181.7 779.9h.01M1218.3 785.3h.01M1125.0 782.8h.01M1209.4 781.8h.01M1180.2 785.5h.01M1143.2 791.8h.01M1147.6 789.5h.01M1142.8 794.4h.01M1139.2 792.5h.01M1171.4 796.3h.01M1145.2 797.0h.01M1176.1 793.2h.01M1135.4 793.6h.01M1165.4 793.6h.01M1149.8 791.0h.01M1166.0 794.2h.01M1138.4 793.7h.01M1140.2 791.7h.01M1168.0 792.9h.01M1151.8 794.2h.01M1170.9 792.5h.01M1167.4 795.4h.01M1159.8 788.9h.01M1105.0 803.9h.01M1133.4 802.0h.01M1142.7 805.0h.01M971.4 808.9h.01M977.3 810.5h.01M1005.3 805.0h.01M1030.8 804.2h.01M1050.4 808.7h.01M1106.0 810.9h.01M1143.3 806.3h.01M1061.7 803.9h.01M1079.3 804.7h.01M995.0 803.0h.01M1060.2 805.2h.01M1035.7 804.3h.01M1102.7 803.7h.01M1100.3 807.0h.01M1142.8 803.6h.01M993.1 809.6h.01M1000.0 808.3h.01M981.8 806.6h.01M1077.6 804.8h.01M988.8 801.8h.01M1043.8 805.2h.01M1104.9 803.8h.01M987.5 808.3h.01M993.7 807.5h.01M1128.1 809.2h.01M1074.6 807.4h.01M1019.6 809.0h.01M1001.1 806.9h.01M1028.2 807.8h.01M1014.9 804.2h.01M1070.0 806.7h.01M995.7 808.5h.01M1092.1 806.9h.01M1134.7 807.6h.01M993.7 801.4h.01M1026.8 805.5h.01M1050.2 804.5h.01M1026.7 808.2h.01M1125.8 802.4h.01M1046.7 805.5h.01M1131.9 804.6h.01M962.7 807.4h.01M960.2 805.7h.01M929.5 805.9h.01M934.7 803.9h.01M945.2 804.0h.01M943.4 806.9h.01M942.8 806.7h.01M903.5 818.9h.01M911.0 820.7h.01M991.0 822.1h.01M998.2 822.0h.01M1005.1 824.6h.01M906.6 936.3h.01M894.8 905.2h.01M950.4 911.5h.01M934.8 934.4h.01M954.9 932.7h.01M982.3 939.8h.01M966.2 934.2h.01M965.7 928.0h.01M893.8 926.2h.01M977.4 932.9h.01M915.0 952.6h.01M960.3 930.1h.01M932.5 933.7h.01M896.2 923.2h.01M928.8 928.5h.01M958.3 918.2h.01M903.9 936.0h.01M947.1 935.3h.01M965.3 911.8h.01M992.6 919.1h.01M900.2 942.0h.01M923.5 933.8h.01M903.8 906.1h.01M977.0 933.0h.01M987.8 921.5h.01M966.5 945.6h.01M973.5 940.1h.01M937.1 921.6h.01M939.1 909.8h.01M1036.1 913.1h.01M1056.9 941.8h.01M1025.2 916.6h.01M1027.0 938.7h.01M997.5 934.0h.01M1052.5 923.2h.01M1063.6 937.5h.01M1086.7 922.6h.01M1047.3 910.0h.01M1217.0 949.3h.01M1210.8 937.0h.01M1130.8 929.0h.01M1217.7 935.7h.01M1151.7 939.1h.01M1122.4 935.3h.01M1161.0 937.1h.01M1139.4 926.3h.01M1118.3 942.1h.01M1179.4 932.2h.01M1187.0 950.5h.01M1151.3 929.2h.01M1123.6 935.1h.01M1143.4 928.8h.01" stroke="#addc30" stroke-width="7.5"/>
<path d="M827.1 191.2h.01M819.0 191.1h.01M955.4 196.4h.01M938.5 194.3h.01M966.1 191.4h.01M966.6 193.1h.01M972.0 192.4h.01M971.7 747.2h.01M1040.6 757.2h.01M1111.4 758.1h.01M1029.2 753.9h.01M1053.7 754.3h.01M1115.7 755.2h.01M1101.5 763.3h.01M995.1 755.9h.01M1060.3 753.6h.01M1071.9 753.4h.01M1103.1 759.2h.01M1063.6 757.4h.01M1103.1 762.4h.01M1088.6 764.8h.01M1122.0 750.1h.01M1077.0 752.2h.01M1117.4 749.6h.01M1031.7 754.9h.01M1122.7 758.0h.01M1069.3 755.6h.01M1081.9 754.3h.01M1005.4 753.7h.01M1019.5 757.7h.01M1073.9 753.4h.01M1075.8 755.0h.01M1112.6 752.3h.01M1063.4 765.4h.01M1047.8 752.9h.01M1005.9 755.4h.01M1140.7 753.6h.01M1207.4 756.1h.01M1224.4 749.3h.01M1219.5 746.8h.01M1166.6 747.6h.01M1209.6 755.8h.01M1169.6 743.9h.01M1174.6 750.8h.01M1184.4 753.5h.01M1211.0 750.7h.01M1180.3 751.6h.01M1155.6 749.9h.01M1191.4 751.2h.01M1203.2 754.3h.01M1173.5 752.1h.01M1129.9 753.6h.01M1183.9 743.6h.01M1176.9 747.7h.01M1176.7 749.2h.01M1137.7 741.2h.01M1060.1 781.2h.01M1100.3 786.5h.01M1068.0 793.9h.01M1044.1 800.3h.01M1072.7 789.2h.01M1023.2 790.1h.01M1005.4 793.4h.01M1036.6 788.9h.01M1062.1 797.6h.01M1033.0 790.3h.01M1067.5 791.2h.01M1063.4 783.9h.01M1107.0 792.7h.01M1053.0 789.8h.01M1058.8 789.8h.01M1054.9 780.8h.01M1019.8 796.3h.01M1078.8 789.9h.01M1030.8 797.4h.01M1100.5 801.9h.01M1030.7 794.3h.01M1014.5 791.8h.01M1068.4 787.0h.01M1021.0 784.6h.01M1065.0 791.1h.01M1070.6 780.4h.01M1075.5 788.1h.01M1028.4 797.7h.01M1225.8 782.3h.01M1126.2 786.0h.01M1178.6 781.7h.01M1200.0 781.1h.01M1136.7 787.9h.01M1205.6 786.0h.01M1142.8 783.8h.01M1190.6 782.4h.01M1148.8 780.2h.01M1216.0 785.9h.01M1130.5 784.7h.01M1193.7 781.8h.01M1143.1 781.3h.01M1143.9 783.3h.01M1180.0 789.7h.01M1173.8 781.9h.01M1141.8 796.9h.01M1199.9 795.6h.01M1195.3 790.6h.01M1193.3 793.1h.01M1153.0 792.1h.01M1148.6 791.3h.01M1156.2 790.5h.01M1167.3 799.0h.01M1195.2 794.3h.01M1197.0 792.6h.01M1145.5 792.8h.01M1183.5 792.9h.01M1153.7 792.8h.01M1197.5 792.5h.01M1172.7 791.0h.01M1175.8 791.5h.01M1001.5 803.7h.01M1008.5 805.1h.01M1069.9 804.0h.01M1122.2 805.2h.01M1130.9 803.6h.01M1084.8 807.6h.01M1031.0 811.1h.01M1120.8 806.1h.01M1097.1 806.2h.01M1137.8 806.1h.01M1069.7 801.9h.01M1091.2 810.0h.01M979.0 803.3h.01M1004.7 807.1h.01M1042.9 808.4h.01M1037.5 808.0h.01M1073.9 809.8h.01M1025.6 805.7h.01M1081.0 805.9h.01M1067.3 806.4h.01M1050.7 807.8h.01M1124.7 804.3h.01M1015.1 806.1h.01M1058.6 802.8h.01M1030.4 805.1h.01M1069.0 804.6h.01M1068.7 805.4h.01M1140.4 803.6h.01M1063.9 802.6h.01M1134.9 807.8h.01M1014.1 805.1h.01M1103.8 803.5h.01M1111.7 805.5h.01M1114.2 804.6h.01M1141.9 804.2h.01M1076.5 805.1h.01M1081.5 806.3h.01M953.5 807.1h.01M963.8 804.9h.01M957.9 804.8h.01M897.3 801.6h.01M901.4 806.8h.01M899.4 804.3h.01M1194.5 807.8h.01M930.3 818.9h.01M901.4 814.9h.01M900.4 818.9h.01M920.6 824.1h.01M969.0 818.2h.01M984.0 822.0h.01M985.0 823.0h.01M1001.1 824.4h.01M1001.5 823.6h.01M988.3 827.9h.01M1004.4 823.5h.01M1014.7 819.2h.01M1023.0 824.4h.01M1058.8 814.1h.01M1062.5 818.2h.01M1065.6 823.0h.01M1059.4 823.4h.01M1063.5 813.0h.01M1066.2 817.2h.01M1077.5 818.8h.01M1080.8 823.4h.01M911.8 842.1h.01M975.6 843.1h.01M1011.0 842.5h.01M890.0 857.7h.01M921.2 876.0h.01M892.1 885.8h.01M902.5 885.8h.01M912.9 894.1h.01M911.8 902.4h.01M932.6 901.3h.01M952.3 893.0h.01M954.4 898.2h.01M973.5 890.3h.01M977.3 893.0h.01M981.0 889.9h.01M983.5 895.7h.01M975.2 896.1h.01M973.1 902.4h.01M1006.0 890.9h.01M1135.2 889.9h.01M1104.1 894.1h.01M1205.9 886.4h.01M1215.3 892.0h.01M1230.8 886.4h.01M1185.1 904.0h.01M1205.5 904.9h.01M918.1 945.3h.01M958.7 932.2h.01M957.3 929.9h.01M907.7 932.4h.01M954.1 928.1h.01M965.7 939.9h.01M968.2 922.1h.01M922.8 916.2h.01M915.0 923.2h.01M979.4 936.4h.01M918.5 946.0h.01M893.2 904.3h.01M946.1 910.4h.01M973.0 950.0h.01M981.6 936.9h.01M951.3 911.7h.01M982.5 945.6h.01M913.3 950.5h.01M1024.1 931.5h.01M995.7 942.9h.01M1081.3 932.7h.01M1066.9 927.2h.01M1078.6 908.5h.01M998.8 913.1h.01M1085.2 915.7h.01M1072.9 931.5h.01M1043.0 936.0h.01M1059.2 923.8h.01M1220.3 932.1h.01M1184.8 949.9h.01M1182.8 926.8h.01M1114.4 947.7h.01M1135.4 933.3h.01M1121.0 926.0h.01M1138.8 918.1h.01M1219.3 935.9h.01M1120.4 935.8h.01M1177.7 919.0h.01" stroke="#addc30" stroke-width="7.0"/>
<path d="M822.6 191.1h.01M816.2 191.0h.01M817.3 191.6h.01M825.4 191.2h.01M824.2 191.2h.01M966.3 195.2h.01M963.4 193.5h.01M1056.5 756.7h.01M1016.0 758.8h.01M1046.1 756.2h.01M972.9 765.3h.01M980.0 762.9h.01M1031.8 757.6h.01M1055.4 755.9h.01M979.5 754.8h.01M1029.4 754.9h.01M1075.5 747.5h.01M1029.7 756.8h.01M978.7 750.3h.01M1105.6 755.3h.01M1005.3 753.5h.01M1050.5 764.9h.01M962.9 755.6h.01M1018.5 754.7h.01M1045.1 757.8h.01M1165.2 750.7h.01M1190.2 743.6h.01M1214.4 754.8h.01M1166.5 748.6h.01M1149.4 752.4h.01M1201.0 745.7h.01M1150.7 752.2h.01M1226.5 745.1h.01M1173.4 741.8h.01M1200.1 751.9h.01M1171.6 754.2h.01M1162.1 751.1h.01M1211.6 756.0h.01M1181.4 750.9h.01M1211.7 748.8h.01M1198.6 748.9h.01M1174.9 747.7h.01M1144.8 753.5h.01M1158.7 752.3h.01M1165.4 749.3h.01M1165.3 751.5h.01M1142.8 752.6h.01M1145.6 751.0h.01M1195.0 749.3h.01M1190.9 740.6h.01M1071.0 803.6h.01M1064.5 792.7h.01M1090.4 798.5h.01M1089.4 800.8h.01M1108.5 784.2h.01M1078.3 790.9h.01M1013.2 798.6h.01M1034.9 781.9h.01M1094.9 788.8h.01M1090.4 789.3h.01M1061.2 785.0h.01M1057.5 796.2h.01M1101.5 794.2h.01M1007.9 788.7h.01M1117.2 789.0h.01M1084.5 787.2h.01M1085.0 778.5h.01M1045.2 773.4h.01M1015.0 786.2h.01M1061.3 784.6h.01M1048.3 782.7h.01M1061.2 785.7h.01M999.9 794.3h.01M1002.8 787.3h.01M1089.0 792.1h.01M1022.8 785.2h.01M1196.0 784.9h.01M1162.8 783.5h.01M1146.0 786.4h.01M1173.0 784.8h.01M1208.6 784.0h.01M1128.2 780.7h.01M1171.3 784.4h.01M1201.0 786.3h.01M1177.2 783.1h.01M1209.3 788.5h.01M1190.4 785.1h.01M1174.6 785.2h.01M1225.3 781.0h.01M1125.9 785.7h.01M1170.6 786.9h.01M1191.7 786.1h.01M1176.1 785.0h.01M1210.2 786.4h.01M1165.1 784.1h.01M1221.4 784.6h.01M1180.2 783.9h.01M1161.5 789.3h.01M1157.0 792.9h.01M1199.2 792.8h.01M1139.4 789.0h.01M1200.2 791.9h.01M1187.5 794.4h.01M1163.1 792.6h.01M1178.4 794.1h.01M1141.1 792.2h.01M1174.8 795.0h.01M1177.9 793.6h.01M1147.8 792.3h.01M1175.1 791.5h.01M1066.7 805.3h.01M988.5 802.0h.01M1083.9 806.3h.01M1038.8 806.0h.01M1074.2 803.3h.01M1119.8 805.5h.01M1105.8 808.3h.01M1129.6 808.5h.01M968.8 805.1h.01M1060.0 807.4h.01M1041.4 808.2h.01M1101.7 803.8h.01M1060.4 808.5h.01M1073.5 807.5h.01M1122.5 804.6h.01M1082.9 807.6h.01M1074.0 810.8h.01M967.7 807.7h.01M1103.4 806.2h.01M1050.6 808.3h.01M976.8 805.2h.01M1106.5 807.7h.01M1069.1 803.2h.01M1128.2 805.0h.01M1068.1 804.4h.01M996.6 803.6h.01M929.2 804.7h.01M952.2 810.2h.01M933.7 820.0h.01M910.7 818.7h.01M917.3 817.8h.01M908.3 821.5h.01M980.4 825.7h.01M1001.3 824.3h.01M987.1 825.7h.01M995.8 822.4h.01M947.1 920.6h.01M910.1 927.2h.01M904.8 932.1h.01M918.3 935.6h.01M942.6 927.3h.01M934.7 930.4h.01M936.1 905.1h.01M919.6 943.1h.01M959.4 944.4h.01M956.9 917.7h.01M908.3 907.4h.01M1062.2 924.6h.01M1085.1 927.8h.01M1000.2 937.1h.01M1055.8 925.5h.01M1059.4 934.1h.01M1041.5 918.2h.01M1003.6 934.6h.01M1044.8 915.1h.01M1096.5 930.6h.01M1096.2 921.1h.01M1137.9 942.8h.01M1161.6 928.1h.01M1172.2 930.6h.01M1195.0 929.7h.01M1130.9 912.7h.01M1180.6 930.0h.01M929.0 971.2h.01M913.4 966.8h.01M915.2 969.0h.01M925.6 971.9h.01M913.5 969.5h.01M1024.5 974.6h.01M1005.6 972.7h.01M1022.8 976.6h.01M1032.8 972.0h.01M1070.2 949.8h.01M1117.1 973.2h.01M1185.0 969.1h.01M1205.8 968.0h.01M1095.9 974.2h.01M1184.4 962.6h.01M1229.2 957.3h.01M1166.0 965.6h.01M1101.9 954.3h.01M1081.5 953.8h.01M1140.1 957.9h.01M1160.3 973.4h.01M1077.9 950.9h.01M1074.3 968.3h.01M1126.1 956.0h.01M1177.9 955.2h.01M1114.1 958.5h.01M1180.3 972.2h.01M1118.6 961.9h.01M1198.7 948.5h.01M1081.1 956.4h.01M1153.2 962.7h.01M1085.4 961.0h.01M1131.8 965.6h.01M1202.1 969.3h.01M1125.1 968.7h.01M1109.7 957.0h.01M1195.0 971.9h.01M1153.7 969.0h.01M1158.0 956.9h.01M1069.0 975.7h.01M1210.5 954.2h.01M1208.4 940.9h.01M1100.9 963.6h.01M1144.5 983.9h.01M1140.1 963.6h.01M1220.5 970.3h.01M1063.1 953.6h.01M1107.9 969.1h.01M1227.4 953.3h.01M1144.2 958.5h.01M1168.7 985.7h.01M900.6 978.8h.01M897.7 976.1h.01M981.3 968.0h.01M977.2 965.9h.01M904.4 950.7h.01M948.2 953.2h.01M964.0 949.8h.01M908.4 950.7h.01M935.2 950.4h.01M921.2 957.5h.01M1054.0 962.5h.01M1046.5 964.6h.01M1057.9 958.7h.01M931.7 964.4h.01M927.7 959.4h.01M1234.2 950.2h.01M1188.9 947.9h.01M1210.4 949.7h.01M1197.7 950.1h.01M1181.5 943.3h.01" stroke="#addc30" stroke-width="6.5"/>
<path d="M812.2 190.8h.01M822.5 192.2h.01M958.5 192.7h.01M944.5 194.6h.01M1042.6 756.5h.01M960.9 754.9h.01M1038.9 754.6h.01M1118.3 754.4h.01M965.3 755.6h.01M1015.7 756.4h.01M986.9 757.5h.01M1110.6 756.4h.01M1116.0 759.8h.01M1116.6 755.3h.01M1018.1 758.7h.01M1112.5 754.9h.01M1098.0 759.2h.01M963.9 756.5h.01M1153.0 749.9h.01M1218.0 745.1h.01M1226.4 749.4h.01M1173.9 748.0h.01M1189.4 747.8h.01M1197.8 751.8h.01M1149.9 746.6h.01M1131.4 755.0h.01M1166.5 743.8h.01M1210.3 754.2h.01M1178.1 746.9h.01M1225.4 748.4h.01M1200.3 757.8h.01M1133.8 750.7h.01M1142.4 751.5h.01M1198.2 752.2h.01M1189.2 745.9h.01M1190.0 750.2h.01M1164.3 754.2h.01M1139.0 752.5h.01M1220.7 749.8h.01M1225.8 749.9h.01M1064.4 787.9h.01M1099.6 801.9h.01M1000.2 804.8h.01M1025.0 796.0h.01M1033.5 793.2h.01M1031.4 789.0h.01M1100.9 787.8h.01M1028.9 793.2h.01M1042.9 791.6h.01M1175.8 787.3h.01M1169.5 784.0h.01M1172.7 782.2h.01M1162.2 785.9h.01M1145.0 781.6h.01M1195.7 782.1h.01M1151.4 780.9h.01M1138.5 781.0h.01M1189.2 789.2h.01M1172.9 795.6h.01M1184.4 792.6h.01M1157.0 794.4h.01M1143.4 793.0h.01M1175.4 790.1h.01M1134.8 791.6h.01M1173.5 792.6h.01M1194.2 791.5h.01M1189.2 793.1h.01M1185.5 793.4h.01M1040.9 804.5h.01M1085.1 808.6h.01M1111.2 807.3h.01M1062.8 798.7h.01M1139.0 807.7h.01M1127.6 806.4h.01M1092.0 806.6h.01M1119.1 803.4h.01M1144.0 804.2h.01M1076.9 802.4h.01M1129.0 808.1h.01M1003.3 809.1h.01M1113.0 807.5h.01M1061.2 807.0h.01M1023.8 804.8h.01M1026.1 808.4h.01M972.8 805.9h.01M1005.1 807.9h.01M992.6 806.8h.01M985.1 803.8h.01M1073.2 804.5h.01M1067.0 808.3h.01M1041.1 805.8h.01M937.4 802.1h.01M937.4 808.7h.01M989.9 824.6h.01M971.4 915.9h.01M970.8 928.1h.01M934.8 930.6h.01M892.9 931.4h.01M915.3 914.0h.01M904.7 922.5h.01M937.6 939.8h.01M936.1 921.0h.01M974.8 930.3h.01M907.5 928.0h.01M978.8 900.1h.01M970.0 928.1h.01M1068.6 922.2h.01M1044.3 932.9h.01M1065.2 937.4h.01M1025.6 929.1h.01M1008.9 922.8h.01M1068.2 929.9h.01M1000.7 921.8h.01M1047.2 926.3h.01M1058.1 932.4h.01M1061.5 919.7h.01M1152.9 933.0h.01M1227.8 930.9h.01M1143.8 946.2h.01M1223.7 940.7h.01M929.0 969.5h.01M911.0 972.0h.01M1003.2 974.1h.01M1032.0 971.1h.01M1047.8 974.7h.01M1029.2 972.8h.01M1201.4 963.3h.01M1144.1 951.9h.01M1122.0 956.8h.01M1148.5 958.8h.01M1088.6 949.8h.01M1081.5 959.0h.01M1204.7 959.1h.01M1168.8 967.2h.01M1097.6 956.3h.01M1205.9 976.7h.01M1083.6 954.6h.01M1103.1 981.2h.01M1163.9 967.5h.01M1073.7 971.0h.01M1103.1 960.5h.01M1169.5 958.6h.01M1217.6 958.0h.01M1178.7 970.4h.01M1112.5 953.5h.01M1143.0 945.7h.01M1138.2 955.5h.01M1100.0 959.7h.01M1099.4 953.5h.01M1218.7 972.4h.01M1079.3 943.5h.01M1127.5 960.9h.01M1200.2 958.8h.01M1100.7 971.3h.01M1166.5 975.6h.01M1217.1 952.7h.01M1109.6 968.0h.01M1231.0 947.3h.01M1160.4 959.7h.01M1072.6 969.4h.01M1232.9 971.7h.01M1145.7 948.7h.01M893.8 971.0h.01M891.6 977.7h.01M894.5 969.9h.01M987.7 961.7h.01M968.7 967.6h.01M975.8 966.6h.01M943.6 965.2h.01M955.0 969.0h.01M993.1 950.1h.01M996.6 953.2h.01M995.6 948.7h.01M988.7 958.9h.01M994.6 954.6h.01M990.9 953.9h.01M917.6 949.0h.01M919.3 952.4h.01M1039.1 957.5h.01M1037.1 964.4h.01M950.6 964.9h.01M931.1 958.8h.01M1197.6 952.1h.01M1213.3 949.3h.01M1220.4 956.5h.01M1222.6 942.6h.01M1231.4 948.6h.01M1197.4 951.5h.01M1033.0 1003.2h.01M1044.8 1004.2h.01M1047.5 1002.8h.01M1050.4 1002.2h.01M1052.1 1003.6h.01M1068.3 1002.8h.01M1071.2 1002.2h.01M1074.6 1001.5h.01M1077.5 1002.4h.01M1090.6 1000.7h.01M1094.1 1002.8h.01M927.8 1022.3h.01M1028.2 1030.2h.01" stroke="#addc30" stroke-width="6.0"/>
<path d="M813.5 191.1h.01M950.0 195.5h.01M955.4 193.0h.01M942.0 192.1h.01M930.4 972.4h.01M917.7 968.3h.01M923.3 971.9h.01M935.6 973.5h.01M918.0 971.3h.01M1031.2 971.6h.01M1011.5 972.1h.01M1014.3 976.4h.01M1015.6 971.2h.01M1020.4 973.3h.01M1019.9 971.7h.01M1089.0 952.2h.01M1223.1 953.3h.01M1221.4 964.8h.01M1200.6 959.9h.01M1146.1 953.3h.01M1137.9 974.6h.01M1063.4 958.1h.01M1210.8 959.2h.01M1208.6 969.2h.01M1168.3 961.0h.01M1154.6 971.2h.01M1174.4 963.9h.01M1138.2 965.6h.01M1087.0 958.9h.01M1222.5 963.0h.01M1192.1 963.4h.01M1130.0 976.1h.01M1229.3 975.2h.01M1230.3 961.0h.01M1160.4 980.6h.01M1087.1 966.1h.01M1188.6 970.8h.01M1214.7 968.7h.01M1192.8 950.5h.01M1190.7 955.0h.01M1159.6 957.3h.01M1172.8 971.1h.01M1164.4 954.1h.01M1194.5 958.4h.01M1167.4 978.6h.01M1121.1 970.2h.01M1218.8 954.6h.01M1091.1 958.7h.01M1076.8 960.5h.01M1084.2 974.4h.01M1118.7 950.4h.01M1073.7 952.7h.01M1196.1 966.7h.01M1115.8 980.6h.01M1112.4 974.4h.01M1194.7 958.2h.01M1214.4 964.9h.01M1093.3 961.0h.01M1097.9 947.5h.01M1225.5 980.7h.01M1135.8 963.6h.01M1097.4 957.4h.01M890.7 975.3h.01M897.6 979.9h.01M965.3 976.3h.01M972.8 974.0h.01M961.2 970.5h.01M989.5 972.0h.01M983.4 970.9h.01M984.7 955.0h.01M986.5 950.2h.01M936.3 951.2h.01M901.9 946.5h.01M957.0 950.5h.01M963.2 957.5h.01M972.5 952.7h.01M938.4 951.0h.01M1043.5 958.4h.01M1058.3 958.4h.01M1050.2 960.2h.01M1050.6 956.1h.01M928.6 962.6h.01M944.9 960.7h.01M1203.4 953.9h.01M1187.8 945.5h.01M1213.2 961.5h.01M1225.8 950.9h.01M1224.4 959.6h.01M1198.3 945.5h.01M1224.6 938.8h.01M1183.0 958.0h.01M1204.9 953.0h.01M1213.0 947.6h.01" stroke="#addc30" stroke-width="5.5"/>
<path d="M935.1 967.4h.01M914.4 972.1h.01M1035.8 971.1h.01M1031.9 973.7h.01M1037.8 972.4h.01M1002.3 974.0h.01M1038.8 974.1h.01M1006.1 974.3h.01M1007.5 976.2h.01M1046.6 970.2h.01M1003.1 970.2h.01M1003.2 971.0h.01M1148.1 966.8h.01M1103.3 958.0h.01M1195.2 963.9h.01M1208.9 982.9h.01M1181.2 976.8h.01M1105.4 956.5h.01M1082.9 970.6h.01M1173.7 976.6h.01M1108.0 965.0h.01M1073.5 972.6h.01M890.2 973.5h.01M967.4 969.8h.01M983.1 965.8h.01M971.4 954.5h.01M1046.3 957.8h.01M948.0 954.1h.01M955.1 958.6h.01M1216.8 938.7h.01M1193.1 959.0h.01M1201.4 953.7h.01M1224.9 943.7h.01M1220.9 948.1h.01M1204.3 959.0h.01M1190.6 952.4h.01M1210.3 951.0h.01M1233.8 947.7h.01" stroke="#addc30" stroke-width="5.0"/>
<path d="M761.1 804.9h.01" stroke="#9dd93b" stroke-width="9.0"/>
<path d="M763.1 805.6h.01M762.2 805.0h.01M764.4 807.8h.01" stroke="#9dd93b" stroke-width="8.5"/>
<path d="M459.2 811.0h.01M448.6 804.7h.01M458.5 809.4h.01M770.2 803.1h.01M779.8 806.1h.01M783.1 807.7h.01M790.1 807.0h.01M694.4 794.7h.01M585.7 816.9h.01M577.9 818.0h.01M821.0 888.4h.01M693.8 918.3h.01M691.1 899.4h.01M727.6 909.0h.01M612.4 907.7h.01M583.3 907.3h.01M569.1 905.4h.01M580.0 910.7h.01M866.5 912.6h.01M803.1 905.9h.01M777.4 910.4h.01M665.0 931.2h.01M848.0 928.4h.01M715.4 928.4h.01M787.1 930.5h.01" stroke="#9dd93b" stroke-width="8.0"/>
<path d="M461.0 808.7h.01M458.4 811.8h.01M458.1 806.2h.01M463.2 808.2h.01M464.4 803.8h.01M451.8 805.0h.01M449.2 808.0h.01M796.8 797.5h.01M720.9 785.1h.01M739.0 797.0h.01M802.3 802.2h.01M793.5 808.2h.01M749.0 791.9h.01M619.2 773.9h.01M657.5 806.1h.01M779.1 799.3h.01M643.8 801.3h.01M797.3 789.0h.01M750.0 795.8h.01M797.2 798.6h.01M638.1 797.0h.01M615.5 807.6h.01M632.3 794.9h.01M763.5 792.7h.01M736.8 799.9h.01M705.2 787.9h.01M787.2 790.8h.01M780.4 796.3h.01M670.2 801.3h.01M670.7 793.8h.01M721.7 800.3h.01M696.4 810.4h.01M783.0 803.0h.01M645.9 804.9h.01M790.8 803.5h.01M679.4 813.9h.01M695.5 805.4h.01M722.3 797.4h.01M670.8 806.7h.01M706.3 797.7h.01M765.0 803.1h.01M761.9 800.4h.01M760.8 802.9h.01M785.7 806.6h.01M780.6 805.1h.01M780.8 807.5h.01M794.7 806.1h.01M785.6 806.3h.01M697.6 796.6h.01M631.8 805.4h.01M635.5 806.6h.01M586.2 817.1h.01M578.8 818.7h.01M578.3 814.8h.01M572.7 816.0h.01M572.6 815.0h.01M613.6 804.9h.01M577.2 811.8h.01M564.1 815.5h.01M572.8 811.6h.01M614.9 813.4h.01M606.9 810.9h.01M611.2 803.2h.01M587.5 813.1h.01M561.7 809.5h.01M585.8 814.1h.01M589.1 817.4h.01M596.0 816.2h.01M593.3 813.2h.01M868.4 818.4h.01M887.9 813.5h.01M872.6 818.1h.01M865.5 804.9h.01M860.1 824.2h.01M862.0 856.5h.01M843.0 855.6h.01M859.7 852.8h.01M738.2 877.9h.01M685.7 891.0h.01M655.7 885.2h.01M723.3 878.7h.01M862.5 885.8h.01M862.2 889.0h.01M642.0 882.9h.01M670.5 886.9h.01M688.6 881.0h.01M729.6 884.5h.01M674.3 884.1h.01M599.9 885.0h.01M727.5 895.1h.01M641.4 914.4h.01M668.6 912.3h.01M605.0 908.1h.01M723.8 912.3h.01M621.6 905.1h.01M634.8 909.1h.01M659.8 929.1h.01M593.4 920.6h.01M713.0 906.7h.01M705.0 894.1h.01M687.0 911.2h.01M561.5 902.4h.01M704.6 914.9h.01M582.1 912.6h.01M571.7 896.2h.01M553.3 903.2h.01M636.5 904.2h.01M619.0 902.1h.01M565.6 901.9h.01M565.6 898.4h.01M669.7 919.7h.01M685.0 909.5h.01M679.1 911.0h.01M546.4 911.2h.01M656.8 908.5h.01M573.3 905.6h.01M685.7 910.5h.01M609.0 904.5h.01M707.9 910.9h.01M730.2 909.1h.01M717.3 909.5h.01M610.7 894.8h.01M653.9 901.6h.01M570.8 910.4h.01M635.9 911.8h.01M653.3 899.2h.01M658.9 910.8h.01M694.1 902.9h.01M696.3 914.5h.01M641.6 899.6h.01M732.0 895.5h.01M632.4 911.5h.01M806.3 905.6h.01M738.2 908.9h.01M864.1 899.4h.01M744.4 900.5h.01M832.4 916.1h.01M838.3 914.3h.01M859.2 911.0h.01M781.8 910.1h.01M787.1 912.5h.01M758.9 909.9h.01M826.5 910.0h.01M777.7 912.3h.01M847.4 902.6h.01M880.0 918.4h.01M854.4 903.5h.01M741.7 899.9h.01M818.0 908.7h.01M750.9 902.1h.01M753.2 914.6h.01M776.1 909.7h.01M805.9 919.8h.01M850.6 910.9h.01M772.8 913.3h.01M859.7 906.8h.01M782.2 917.0h.01M741.5 914.3h.01M827.4 909.0h.01M868.0 916.0h.01M751.4 917.7h.01M777.9 915.7h.01M808.6 902.5h.01M863.2 905.1h.01M827.0 914.4h.01M795.8 907.3h.01M888.3 903.8h.01M781.7 921.2h.01M703.2 933.8h.01M565.1 922.4h.01M603.5 926.4h.01M789.3 924.5h.01M819.2 929.6h.01M697.4 924.7h.01M567.0 926.8h.01M841.4 927.6h.01M879.6 927.9h.01M604.3 926.6h.01M591.4 928.5h.01M828.9 930.7h.01M614.0 926.6h.01M735.3 926.0h.01M738.8 924.5h.01M637.6 925.8h.01M881.3 933.9h.01M711.5 933.1h.01M596.8 929.3h.01M733.4 927.3h.01M612.6 933.5h.01M854.1 931.3h.01M741.6 922.0h.01M764.0 933.1h.01M813.8 926.8h.01M722.3 927.5h.01M620.7 922.2h.01M593.8 923.7h.01M818.1 926.5h.01M851.5 928.7h.01M605.9 930.8h.01M682.4 927.9h.01" stroke="#9dd93b" stroke-width="7.5"/>
<path d="M468.6 810.7h.01M456.5 812.2h.01M453.2 810.7h.01M453.0 809.8h.01M459.1 805.1h.01M442.8 807.4h.01M466.0 811.6h.01M790.9 814.7h.01M781.7 808.0h.01M758.5 799.6h.01M776.0 790.2h.01M615.7 813.4h.01M695.8 801.2h.01M613.1 804.7h.01M615.8 798.9h.01M691.8 808.1h.01M783.0 798.3h.01M748.9 795.2h.01M737.0 804.6h.01M736.6 800.4h.01M721.3 800.2h.01M742.1 808.5h.01M653.3 808.5h.01M790.9 794.8h.01M633.2 800.0h.01M699.0 818.7h.01M768.9 803.1h.01M791.4 806.1h.01M786.3 805.2h.01M773.7 807.5h.01M702.1 796.1h.01M625.7 802.6h.01M626.3 806.7h.01M630.9 809.7h.01M626.0 797.9h.01M583.2 813.1h.01M584.0 816.0h.01M583.2 808.2h.01M605.8 805.8h.01M587.0 809.4h.01M832.7 811.7h.01M881.7 799.3h.01M814.1 824.9h.01M856.7 823.4h.01M796.5 842.1h.01M816.2 844.2h.01M823.1 843.8h.01M666.6 844.2h.01M733.7 857.1h.01M755.9 856.2h.01M758.0 854.6h.01M796.5 854.6h.01M807.9 856.7h.01M818.3 854.6h.01M887.9 857.7h.01M852.1 855.9h.01M845.1 856.1h.01M840.9 852.9h.01M631.5 891.2h.01M659.9 891.6h.01M882.0 889.6h.01M617.2 869.6h.01M854.4 876.9h.01M746.9 889.2h.01M691.0 884.9h.01M785.1 889.0h.01M777.1 885.7h.01M804.7 878.3h.01M855.1 884.8h.01M774.4 888.6h.01M572.7 901.2h.01M683.1 911.4h.01M677.3 912.3h.01M703.5 912.4h.01M593.8 906.6h.01M626.2 916.8h.01M707.4 911.1h.01M690.3 917.2h.01M558.3 907.2h.01M642.2 912.9h.01M604.1 904.1h.01M641.7 917.9h.01M666.6 905.4h.01M714.9 912.2h.01M580.1 896.8h.01M572.9 909.4h.01M727.5 908.8h.01M698.1 900.4h.01M588.8 899.4h.01M656.7 920.1h.01M695.5 903.3h.01M600.6 903.8h.01M568.0 922.9h.01M609.4 897.7h.01M652.8 905.1h.01M576.5 914.0h.01M596.4 898.3h.01M576.9 898.8h.01M690.4 916.6h.01M565.2 903.3h.01M574.8 918.4h.01M648.1 901.2h.01M708.9 905.3h.01M608.0 909.2h.01M549.7 913.3h.01M702.6 909.3h.01M715.5 911.3h.01M690.2 918.2h.01M623.8 899.4h.01M730.8 911.8h.01M766.6 912.9h.01M769.2 913.7h.01M849.5 914.8h.01M761.0 912.7h.01M775.2 906.6h.01M774.4 910.7h.01M849.5 907.5h.01M855.9 908.0h.01M787.9 914.4h.01M769.1 912.8h.01M736.8 907.2h.01M871.9 911.9h.01M888.8 926.6h.01M628.5 924.2h.01M742.6 935.5h.01M634.5 926.1h.01M647.7 930.9h.01M700.0 931.7h.01M545.7 924.6h.01M612.9 931.1h.01M771.2 925.6h.01M685.9 924.5h.01M712.6 929.3h.01M613.7 933.9h.01M724.3 928.4h.01M743.2 923.3h.01M566.9 930.0h.01M654.0 926.5h.01M838.3 924.9h.01M608.2 932.4h.01" stroke="#9dd93b" stroke-width="7.0"/>
<path d="M437.2 204.5h.01M446.1 204.5h.01M455.0 810.2h.01M457.3 812.1h.01M466.7 809.3h.01M461.8 808.1h.01M462.1 805.9h.01M705.6 807.3h.01M736.3 786.9h.01M764.4 811.3h.01M699.5 800.1h.01M785.2 797.6h.01M717.3 817.0h.01M693.6 799.0h.01M768.1 811.5h.01M613.4 795.4h.01M799.7 796.8h.01M735.3 793.9h.01M687.8 797.0h.01M795.2 808.2h.01M794.2 805.7h.01M789.3 805.1h.01M777.8 807.7h.01M700.5 796.3h.01M697.4 792.8h.01M697.3 798.3h.01M703.4 796.5h.01M631.7 804.5h.01M639.0 798.3h.01M584.2 816.0h.01M577.6 816.9h.01M613.5 806.1h.01M575.0 807.3h.01M577.6 812.9h.01M590.2 806.7h.01M877.7 806.4h.01M852.5 817.3h.01M847.4 819.8h.01M845.8 857.4h.01M844.4 858.5h.01M840.6 853.7h.01M844.8 857.1h.01M852.1 888.9h.01M889.2 884.7h.01M767.7 885.4h.01M836.7 885.2h.01M868.1 887.9h.01M603.8 907.1h.01M669.7 900.5h.01M688.3 912.0h.01M730.6 903.2h.01M559.0 915.8h.01M632.9 901.9h.01M605.8 901.4h.01M662.2 918.2h.01M697.0 911.2h.01M606.7 908.9h.01M717.3 899.3h.01M592.8 916.8h.01M676.2 906.9h.01M665.3 917.9h.01M606.6 914.5h.01M724.1 909.6h.01M555.6 911.8h.01M596.8 902.4h.01M576.7 900.8h.01M638.8 910.1h.01M649.9 920.2h.01M559.3 913.4h.01M572.7 903.3h.01M554.5 906.5h.01M567.0 906.2h.01M693.0 909.2h.01M714.7 916.2h.01M632.0 899.0h.01M719.5 900.2h.01M676.1 910.4h.01M689.7 906.1h.01M681.8 908.1h.01M726.9 907.7h.01M577.7 905.4h.01M624.5 901.3h.01M624.6 899.1h.01M694.1 913.4h.01M573.0 904.1h.01M564.9 907.1h.01M712.4 898.6h.01M800.2 897.4h.01M737.6 899.0h.01M807.2 913.2h.01M836.2 891.6h.01M759.6 910.2h.01M802.8 912.1h.01M809.9 911.8h.01M874.6 906.9h.01M861.8 910.9h.01M882.0 910.0h.01M875.2 905.3h.01M757.3 906.9h.01M766.6 908.5h.01M887.4 901.7h.01M831.2 907.3h.01M775.3 909.8h.01M860.2 905.8h.01M875.8 914.3h.01M881.2 904.9h.01M769.6 915.5h.01M865.5 915.2h.01M878.8 915.1h.01M756.4 901.5h.01M738.3 901.6h.01M839.1 930.7h.01M598.7 926.7h.01M832.5 931.7h.01M860.6 932.3h.01M553.7 921.1h.01M688.8 930.6h.01M549.5 929.2h.01M686.3 932.5h.01M856.8 926.0h.01M825.2 929.8h.01M559.3 937.1h.01M656.3 930.9h.01M637.4 931.8h.01M857.0 924.4h.01M756.1 927.4h.01M570.8 926.2h.01M749.7 925.9h.01M723.5 928.9h.01M592.7 932.1h.01M857.0 924.4h.01M698.5 930.1h.01M640.5 928.6h.01M889.1 925.9h.01M874.2 925.4h.01M692.8 927.4h.01M684.2 926.2h.01" stroke="#9dd93b" stroke-width="6.5"/>
<path d="M765.1 787.1h.01M718.5 811.0h.01M682.5 808.1h.01M629.6 806.8h.01M725.7 797.6h.01M751.0 801.3h.01M691.5 794.5h.01M624.0 803.3h.01M631.6 804.4h.01M836.6 808.1h.01M836.7 804.2h.01M869.7 813.1h.01M844.7 815.8h.01M819.2 881.0h.01M718.1 888.9h.01M797.4 892.6h.01M720.9 885.2h.01M720.6 883.5h.01M759.1 882.2h.01M868.7 874.6h.01M840.5 880.3h.01M859.2 887.3h.01M809.9 881.9h.01M594.9 892.2h.01M704.5 909.9h.01M556.8 903.4h.01M682.5 913.5h.01M652.0 904.4h.01M617.3 907.4h.01M681.6 903.5h.01M639.5 907.9h.01M649.9 903.7h.01M563.9 903.4h.01M678.4 913.5h.01M587.1 910.0h.01M574.1 900.4h.01M621.8 912.4h.01M697.7 907.0h.01M580.9 917.1h.01M641.8 907.7h.01M549.8 903.8h.01M701.1 917.4h.01M619.5 916.4h.01M649.7 893.6h.01M575.3 920.6h.01M753.4 905.3h.01M792.1 915.8h.01M829.4 902.0h.01M791.6 911.7h.01M884.4 912.6h.01M830.4 907.5h.01M810.1 909.8h.01M822.4 906.7h.01M884.1 906.3h.01M885.0 908.9h.01M775.3 897.5h.01M803.7 915.6h.01M745.2 905.8h.01M807.1 904.7h.01M853.9 909.6h.01M752.0 912.6h.01M722.7 927.8h.01M602.9 930.7h.01M825.9 926.3h.01M672.3 921.6h.01M553.0 927.1h.01M884.5 927.2h.01M725.4 928.3h.01M607.9 930.7h.01M730.1 925.5h.01M716.8 935.7h.01M887.7 927.5h.01M670.7 929.4h.01M868.8 930.9h.01M880.1 930.0h.01M827.2 931.7h.01M860.8 930.1h.01M548.0 930.0h.01M710.1 925.2h.01M833.5 927.2h.01" stroke="#9dd93b" stroke-width="6.0"/>
<path d="M947.9 215.6h.01M468.5 472.2h.01M473.3 471.1h.01M478.5 472.2h.01M482.2 472.8h.01M493.7 475.3h.01M503.0 471.1h.01M506.6 472.2h.01M516.3 473.2h.01M764.3 493.6h.01M767.4 492.3h.01M514.6 894.0h.01M534.2 900.4h.01M483.9 903.2h.01M513.7 896.5h.01M492.6 896.5h.01M485.3 895.3h.01M460.8 913.8h.01M517.4 923.7h.01M532.3 911.7h.01M527.8 917.7h.01M453.2 913.9h.01M490.3 914.1h.01M479.6 912.4h.01M463.0 921.2h.01M349.2 914.4h.01M352.8 914.8h.01M355.9 914.0h.01" stroke="#90d743" stroke-width="7.5"/>
<path d="M728.1 176.0h.01M734.4 178.7h.01M742.7 176.0h.01M739.6 188.4h.01M758.9 175.4h.01M765.5 187.4h.01M852.8 186.4h.01M678.3 200.9h.01M794.6 203.0h.01M836.2 203.0h.01M840.4 203.6h.01M860.1 202.0h.01M855.9 213.4h.01M953.6 214.9h.01M932.8 211.8h.01M938.0 215.7h.01M828.9 250.2h.01M833.1 249.3h.01M900.6 249.3h.01M1100.6 153.7h.01M1004.3 162.7h.01M1145.8 158.5h.01M1021.2 205.1h.01M1034.7 205.1h.01M1003.5 210.7h.01M1008.7 210.3h.01M1012.9 211.3h.01M1060.7 210.3h.01M1133.3 217.0h.01M1118.1 221.8h.01M1098.7 219.7h.01M1095.5 213.9h.01M1103.3 295.5h.01M1108.5 296.5h.01M1113.7 295.5h.01M1109.5 283.0h.01M1118.9 282.0h.01M530.4 901.1h.01M514.6 895.3h.01M456.6 928.2h.01M520.2 920.4h.01M456.3 918.5h.01M455.1 917.5h.01M542.8 918.8h.01M469.8 913.7h.01M508.5 910.0h.01M490.3 922.4h.01M452.4 921.2h.01M500.9 917.4h.01M497.7 924.0h.01M496.1 913.7h.01" stroke="#90d743" stroke-width="7.0"/>
<path d="M758.3 212.3h.01M716.7 218.2h.01M792.6 213.4h.01M769.7 245.6h.01M840.4 231.1h.01M930.7 213.1h.01M956.4 216.7h.01M936.4 214.5h.01M786.3 259.1h.01M788.4 262.6h.01M805.0 262.2h.01M1189.3 158.0h.01M1078.7 155.9h.01M1098.4 162.3h.01M1035.4 156.9h.01M995.1 154.5h.01M1169.1 160.9h.01M1135.3 164.4h.01M994.2 152.9h.01M1126.7 218.7h.01M1106.4 216.4h.01M1127.9 217.5h.01M1130.4 221.7h.01M1126.6 219.0h.01M1086.2 213.9h.01M494.1 510.6h.01M498.9 511.0h.01M512.8 510.6h.01M517.6 510.2h.01M622.7 460.6h.01M619.9 465.9h.01M617.6 454.8h.01M616.8 449.3h.01M690.9 493.6h.01M695.1 490.9h.01M699.8 489.4h.01M703.0 492.3h.01M749.7 488.8h.01M786.1 487.7h.01M894.2 419.2h.01M912.9 418.1h.01M927.4 420.2h.01M969.0 421.2h.01M1038.6 418.7h.01M1044.8 419.6h.01M512.8 722.6h.01M516.9 730.5h.01M433.2 818.2h.01M492.0 816.1h.01M502.4 809.9h.01M507.2 813.0h.01M511.3 809.3h.01M530.5 815.1h.01M430.3 880.6h.01M438.0 884.7h.01M499.3 877.4h.01M531.0 897.2h.01M485.1 898.1h.01M521.5 898.5h.01M478.2 899.3h.01M513.3 922.5h.01M529.5 910.2h.01M535.4 917.8h.01M466.3 925.6h.01M508.7 922.6h.01M542.1 922.2h.01M444.1 923.1h.01M483.2 915.7h.01M483.5 932.6h.01M470.2 921.0h.01M471.1 924.7h.01M490.6 915.6h.01M488.6 922.2h.01M494.3 912.1h.01M408.9 901.3h.01M425.5 900.3h.01M430.7 903.4h.01M414.1 904.5h.01M300.8 911.7h.01M294.6 927.7h.01M299.3 926.3h.01M300.8 939.8h.01M231.6 942.3h.01M363.1 900.7h.01M364.2 909.7h.01M335.1 914.4h.01M327.2 922.1h.01M333.0 925.2h.01M336.1 928.4h.01M329.9 927.7h.01M399.5 921.1h.01M405.3 921.5h.01M407.8 935.6h.01" stroke="#90d743" stroke-width="6.5"/>
<path d="M952.4 214.9h.01M950.7 217.8h.01M990.6 154.1h.01M1034.5 157.7h.01M1134.8 154.8h.01M1130.9 219.2h.01M1148.6 220.4h.01M1124.7 218.0h.01M1076.9 217.2h.01M1133.0 221.5h.01M1088.3 217.6h.01M1075.3 214.5h.01M1126.6 222.9h.01M1141.4 218.3h.01M1140.8 222.9h.01M1131.7 216.7h.01M507.7 901.1h.01M483.7 898.7h.01M477.3 894.6h.01M492.4 900.4h.01M542.8 895.7h.01M482.5 894.4h.01M507.8 899.5h.01M536.3 896.9h.01M508.9 897.4h.01M486.9 896.5h.01M518.4 899.9h.01M498.1 900.8h.01M494.4 895.7h.01M476.9 916.7h.01M538.6 917.2h.01M536.8 918.8h.01M529.1 914.7h.01M529.6 920.3h.01M529.2 924.0h.01M524.0 917.3h.01M462.1 917.5h.01" stroke="#90d743" stroke-width="6.0"/>
<path d="M948.3 217.8h.01M1118.1 159.5h.01M1096.6 161.0h.01M1105.7 222.2h.01M1075.9 222.0h.01M1153.1 217.3h.01M1092.2 219.8h.01M539.4 896.3h.01M543.0 896.6h.01M526.0 900.9h.01M521.5 897.1h.01M544.8 894.4h.01M536.9 898.9h.01M544.9 896.7h.01M494.3 912.3h.01M479.5 909.4h.01M467.5 917.3h.01" stroke="#90d743" stroke-width="5.5"/>
<path d="M1066.7 470.7h.01M1069.2 472.2h.01" stroke="#5ec962" stroke-width="8.5"/>
<path d="M685.5 188.4h.01M691.1 187.4h.01M693.2 189.1h.01M826.6 399.4h.01M457.2 555.9h.01" stroke="#5ec962" stroke-width="8.0"/>
<path d="M823.1 396.9h.01M835.4 398.8h.01M827.3 401.0h.01M830.1 399.4h.01M407.4 558.0h.01M410.9 556.3h.01M414.5 557.4h.01M417.8 558.4h.01M420.7 558.0h.01M417.2 567.8h.01M447.3 565.1h.01M459.2 567.3h.01M450.9 557.4h.01M452.0 557.7h.01M455.0 556.7h.01M474.3 556.3h.01M477.5 556.7h.01M483.1 568.4h.01M486.8 567.8h.01M490.5 568.8h.01M537.1 568.0h.01M540.7 568.3h.01M1062.5 566.3h.01M972.3 663.6h.01M910.5 657.4h.01M971.4 661.4h.01M925.4 656.0h.01" stroke="#5ec962" stroke-width="7.5"/>
<path d="M702.2 187.8h.01M679.3 207.2h.01M836.2 260.2h.01M827.4 397.4h.01M833.3 398.9h.01M1232.1 243.5h.01M994.0 257.4h.01M1032.6 280.9h.01M1038.8 282.0h.01M1044.5 281.3h.01M1049.2 280.9h.01M451.4 557.7h.01M458.7 557.0h.01M526.6 569.2h.01M902.1 660.5h.01M979.7 660.5h.01M981.0 662.6h.01M904.0 657.8h.01M964.2 660.3h.01" stroke="#5ec962" stroke-width="7.0"/>
<path d="M994.7 257.9h.01M1005.7 261.2h.01M447.0 556.5h.01M900.0 506.4h.01M904.1 506.0h.01M908.3 505.4h.01M1225.6 550.5h.01M1229.8 549.7h.01M1234.0 551.1h.01M899.5 659.8h.01M917.3 657.4h.01M966.2 658.4h.01M908.0 660.8h.01M942.0 661.2h.01" stroke="#5ec962" stroke-width="6.5"/>
<path d="M993.9 258.1h.01M992.7 256.5h.01M996.0 259.7h.01M528.8 568.5h.01M524.9 567.7h.01M927.1 662.0h.01M894.8 661.3h.01M938.9 654.0h.01M923.3 662.6h.01M967.7 659.5h.01M929.1 663.0h.01M965.2 663.4h.01M983.0 656.1h.01" stroke="#5ec962" stroke-width="6.0"/>
<path d="M977.1 661.4h.01M929.8 657.9h.01M938.5 662.3h.01" stroke="#5ec962" stroke-width="5.5"/>
<path d="M973.4 241.5h.01M985.3 239.6h.01M959.6 241.7h.01M972.8 240.1h.01M969.1 239.4h.01M980.5 243.3h.01M983.7 242.4h.01M716.4 560.5h.01M745.2 562.6h.01M726.1 562.0h.01M640.1 563.8h.01M726.2 562.9h.01M677.0 564.3h.01M622.7 564.8h.01M619.4 562.7h.01M758.4 561.0h.01M617.4 563.5h.01M713.1 563.0h.01M640.3 561.0h.01M637.0 563.7h.01M649.8 560.5h.01M646.5 561.6h.01M597.9 562.0h.01M691.2 563.9h.01M704.5 566.0h.01M731.2 563.1h.01M775.8 665.4h.01M815.2 657.4h.01M870.6 666.0h.01M785.5 662.1h.01M806.7 661.6h.01M842.3 661.2h.01M858.6 658.6h.01M834.7 666.2h.01M843.5 661.6h.01M858.1 665.1h.01M866.6 661.1h.01M878.4 660.7h.01M857.1 657.9h.01M878.9 661.7h.01M808.0 660.4h.01" stroke="#48c16e" stroke-width="7.5"/>
<path d="M964.6 241.9h.01M987.4 243.9h.01M965.6 239.2h.01M970.7 238.8h.01M959.8 240.2h.01M987.8 242.4h.01M987.1 242.5h.01M959.8 240.6h.01M989.0 239.8h.01M969.1 238.8h.01M985.8 241.6h.01M706.9 561.6h.01M703.4 563.3h.01M731.3 565.9h.01M730.2 565.6h.01M678.0 566.1h.01M673.9 564.7h.01M641.2 562.8h.01M720.0 567.0h.01M732.1 567.0h.01M676.7 562.2h.01M689.4 566.8h.01M611.3 562.7h.01M726.0 569.4h.01M651.0 566.1h.01M743.7 564.6h.01M679.9 563.9h.01M661.8 568.7h.01M614.9 562.6h.01M746.1 562.0h.01M755.7 564.7h.01M601.8 564.8h.01M608.6 562.0h.01M707.5 566.9h.01M785.6 663.3h.01M822.7 660.2h.01M775.1 662.4h.01M781.3 663.2h.01M803.7 663.7h.01M853.2 661.7h.01M730.6 663.7h.01M741.1 666.9h.01M738.6 659.4h.01M827.4 659.5h.01M821.5 664.6h.01M736.6 664.0h.01M794.3 663.0h.01M809.4 664.4h.01M802.3 666.4h.01M843.8 661.3h.01M810.6 660.9h.01" stroke="#48c16e" stroke-width="7.0"/>
<path d="M983.1 241.4h.01M959.6 241.5h.01M980.4 240.7h.01M977.9 240.8h.01M962.2 239.8h.01M980.3 240.5h.01M984.1 242.1h.01M660.4 564.3h.01M763.1 565.2h.01M630.8 563.8h.01M623.5 563.1h.01M589.2 562.0h.01M653.1 566.8h.01M601.5 565.2h.01M655.1 563.5h.01M618.6 561.7h.01M653.6 557.4h.01M632.9 565.2h.01M642.5 566.2h.01M688.0 566.5h.01M623.7 563.1h.01M757.5 565.7h.01M741.5 563.6h.01M635.0 563.9h.01M699.5 567.7h.01M665.0 567.0h.01M694.9 568.6h.01M738.7 564.9h.01M712.5 563.7h.01M620.4 563.6h.01M651.9 567.0h.01M611.3 567.0h.01M627.8 561.3h.01M643.0 564.1h.01M614.7 562.6h.01M621.2 563.3h.01M740.6 655.7h.01M799.7 663.0h.01M878.1 665.6h.01M871.0 664.9h.01M756.4 656.2h.01M721.9 662.9h.01M844.5 661.4h.01M729.5 660.7h.01M847.7 662.3h.01M729.9 663.9h.01M864.3 662.4h.01M876.1 659.7h.01M847.7 664.2h.01M865.8 660.9h.01M722.7 662.3h.01M874.8 654.8h.01M851.1 664.2h.01M729.0 657.2h.01M798.7 657.7h.01M743.2 662.5h.01" stroke="#48c16e" stroke-width="6.5"/>
<path d="M967.8 241.1h.01M965.1 243.3h.01M974.9 242.4h.01M713.7 563.5h.01M683.8 562.1h.01M591.9 572.4h.01M651.3 563.6h.01M742.1 566.0h.01M645.7 565.7h.01M694.0 564.7h.01M726.5 562.6h.01M713.2 565.8h.01M716.1 566.2h.01M626.6 568.1h.01M608.7 563.3h.01M753.9 565.1h.01M764.0 562.5h.01M630.8 568.4h.01M658.5 566.7h.01M713.7 567.8h.01M750.7 565.5h.01M654.1 560.9h.01M762.1 564.3h.01M594.7 561.1h.01M662.7 560.8h.01M744.4 562.1h.01M712.6 565.2h.01M617.4 566.5h.01M672.9 565.1h.01M692.7 565.5h.01M763.1 564.6h.01M597.1 564.7h.01M710.8 562.0h.01M715.3 566.4h.01M814.0 661.0h.01M806.4 657.7h.01M774.2 664.4h.01M879.2 663.5h.01M779.7 660.3h.01M808.8 663.6h.01M771.7 664.1h.01M852.9 662.4h.01M778.9 662.2h.01M782.2 658.6h.01M772.7 656.9h.01M784.6 659.8h.01M884.4 658.5h.01M831.5 659.0h.01M820.7 659.2h.01M730.7 664.5h.01M845.8 659.7h.01M831.7 656.6h.01M754.5 663.8h.01M854.4 663.9h.01M806.7 661.6h.01M774.3 656.5h.01M806.3 663.6h.01M791.6 662.7h.01M791.6 662.3h.01M805.3 663.8h.01M884.9 664.3h.01M774.5 655.1h.01" stroke="#48c16e" stroke-width="6.0"/>
<path d="M640.3 562.2h.01M624.7 560.1h.01M639.8 565.7h.01M679.0 564.4h.01M660.5 565.6h.01M623.9 563.4h.01M692.3 565.5h.01M665.8 558.4h.01M663.1 565.7h.01M727.9 569.3h.01M593.9 565.4h.01M671.5 562.1h.01M603.6 569.6h.01M738.6 660.7h.01M773.5 660.5h.01M741.0 659.6h.01M753.1 667.3h.01M844.8 663.9h.01M878.8 665.2h.01M772.6 663.8h.01M824.5 657.0h.01M797.8 663.1h.01M757.1 662.2h.01M807.5 659.8h.01M742.4 662.6h.01M817.1 666.3h.01M827.5 655.5h.01M830.9 660.1h.01" stroke="#48c16e" stroke-width="5.5"/>
<path d="M383.1 241.4h.01M747.9 208.6h.01M753.1 207.2h.01" stroke="#35b779" stroke-width="9.0"/>
<path d="M519.8 777.3h.01M523.9 778.8h.01M528.0 775.8h.01" stroke="#35b779" stroke-width="8.5"/>
<path d="M440.2 256.6h.01M546.3 230.6h.01M695.9 227.9h.01M700.1 226.9h.01M705.3 228.6h.01M709.4 228.1h.01M816.5 251.8h.01M821.2 253.5h.01M1154.2 219.6h.01" stroke="#35b779" stroke-width="8.0"/>
<path d="M439.1 256.2h.01M577.5 243.9h.01M585.8 242.5h.01M589.3 246.0h.01M595.1 243.5h.01M599.9 245.2h.01M374.6 468.6h.01M803.4 468.5h.01M782.1 468.7h.01M874.1 459.5h.01M641.0 491.3h.01M742.2 504.3h.01M759.5 504.8h.01M753.4 505.8h.01M737.5 505.3h.01M769.8 504.8h.01M814.2 502.4h.01M809.1 502.7h.01M822.7 502.5h.01M825.2 500.3h.01M809.5 501.4h.01M885.1 510.9h.01M732.0 539.7h.01M742.4 541.2h.01M785.0 537.2h.01M801.7 537.2h.01M805.8 539.7h.01M808.9 541.8h.01M822.5 540.7h.01M818.9 563.4h.01M857.1 566.4h.01M835.5 565.8h.01M857.6 567.9h.01M809.7 566.7h.01M790.5 571.3h.01M587.6 621.2h.01M591.1 622.4h.01M594.9 622.8h.01M598.6 622.4h.01M601.5 623.2h.01M610.5 621.2h.01M649.3 621.8h.01M655.2 622.8h.01M659.3 621.2h.01M934.2 663.2h.01M942.5 663.9h.01M952.9 662.7h.01M926.9 661.2h.01M966.3 657.4h.01M529.9 777.5h.01M521.0 779.5h.01M541.9 779.3h.01M544.6 779.8h.01M963.0 683.3h.01M950.0 685.3h.01M939.6 685.3h.01M954.9 685.8h.01M953.9 683.0h.01M1018.0 694.6h.01M1015.2 695.1h.01M1057.7 681.1h.01M1082.1 681.0h.01M1077.3 680.0h.01M1039.5 680.0h.01M1079.9 683.2h.01M942.7 723.8h.01M947.7 723.7h.01M1023.4 737.4h.01M1063.1 739.6h.01M1063.4 736.8h.01M1061.2 738.7h.01M1049.6 738.4h.01M1083.0 737.3h.01M1085.2 742.2h.01M1050.8 741.1h.01M1055.6 740.8h.01M1083.1 744.5h.01M1072.6 741.7h.01M1041.0 739.5h.01M1063.8 741.4h.01M1056.1 747.4h.01M988.2 775.3h.01M988.1 775.8h.01M1013.1 776.5h.01M1006.3 779.9h.01M1009.0 777.0h.01M1013.9 779.7h.01" stroke="#35b779" stroke-width="7.5"/>
<path d="M349.9 240.8h.01M437.2 240.0h.01M458.4 242.5h.01M411.2 256.6h.01M420.1 257.0h.01M443.5 255.9h.01M436.4 256.8h.01M436.9 256.6h.01M572.9 226.9h.01M579.5 230.0h.01M583.1 223.2h.01M587.8 225.9h.01M597.2 230.0h.01M614.4 230.0h.01M629.4 224.4h.01M644.0 236.9h.01M632.5 244.1h.01M534.8 261.2h.01M550.4 261.8h.01M557.7 262.2h.01M560.8 262.2h.01M563.9 262.2h.01M585.4 261.8h.01M657.5 216.5h.01M658.5 222.7h.01M661.6 223.8h.01M677.2 227.9h.01M685.5 230.0h.01M654.4 238.3h.01M656.4 245.6h.01M649.2 236.2h.01M698.0 253.3h.01M715.7 252.9h.01M796.7 242.5h.01M821.7 240.4h.01M850.8 225.9h.01M998.3 236.5h.01M1093.4 241.2h.01M1005.4 242.3h.01M1099.9 242.2h.01M1059.6 243.0h.01M1068.3 245.0h.01M1125.4 241.2h.01M1069.6 243.2h.01M1078.7 238.7h.01M999.5 239.8h.01M1035.6 241.2h.01M1065.1 237.9h.01M1008.2 238.0h.01M1207.2 245.2h.01M1175.0 247.7h.01M1226.9 241.4h.01M1142.8 251.8h.01M1231.1 288.2h.01M1198.9 355.8h.01M1207.2 354.7h.01M524.0 461.9h.01M543.2 461.5h.01M538.0 468.4h.01M393.9 504.0h.01M433.4 503.3h.01M447.3 501.9h.01M450.0 502.7h.01M452.5 503.3h.01M459.2 505.0h.01M477.9 503.3h.01M814.3 448.7h.01M801.4 467.6h.01M806.6 466.7h.01M779.8 466.8h.01M808.7 468.0h.01M805.2 470.5h.01M829.9 472.1h.01M889.1 461.5h.01M874.8 466.5h.01M882.9 464.4h.01M881.6 461.6h.01M654.4 487.2h.01M660.8 491.2h.01M659.4 494.1h.01M761.8 504.8h.01M737.6 505.1h.01M754.3 504.6h.01M754.4 505.9h.01M737.4 504.6h.01M766.0 505.0h.01M747.4 504.0h.01M808.9 501.4h.01M831.7 502.2h.01M831.3 564.3h.01M779.1 567.0h.01M862.3 565.9h.01M783.0 569.7h.01M848.3 572.1h.01M878.0 566.3h.01M784.2 568.8h.01M777.0 566.9h.01M852.8 564.1h.01M850.1 567.8h.01M794.7 565.5h.01M876.6 569.4h.01M761.1 624.5h.01M795.9 622.8h.01M807.9 621.4h.01M814.8 621.4h.01M834.3 622.8h.01M838.0 621.8h.01M842.2 622.4h.01M852.2 620.8h.01M954.0 622.4h.01M959.0 622.4h.01M977.7 622.4h.01M983.1 621.2h.01M993.5 621.4h.01M1003.9 620.8h.01M1008.5 619.7h.01M1014.3 619.1h.01M1042.8 618.7h.01M890.2 661.1h.01M914.1 660.9h.01M968.0 657.0h.01M927.4 663.3h.01M943.8 656.4h.01M984.2 659.4h.01M890.9 665.3h.01M892.7 661.1h.01M963.9 663.4h.01M1036.0 680.7h.01M1076.8 676.1h.01M1051.2 678.2h.01M578.3 684.6h.01M565.8 695.0h.01M576.2 694.5h.01M598.6 685.8h.01M602.8 685.2h.01M606.5 686.2h.01M610.5 685.4h.01M614.2 686.2h.01M624.4 695.0h.01M628.1 694.5h.01M641.6 694.1h.01M658.3 695.0h.01M671.8 684.2h.01M688.4 695.6h.01M678.0 693.5h.01M728.9 694.5h.01M712.3 780.8h.01M773.6 780.2h.01M783.0 774.6h.01M784.0 779.8h.01M814.1 774.6h.01M857.8 773.1h.01M578.3 766.2h.01M601.1 768.3h.01M968.4 683.4h.01M946.1 693.5h.01M959.6 694.1h.01M973.1 693.5h.01M991.8 695.0h.01M1036.5 693.5h.01M1050.7 694.5h.01M1017.6 695.4h.01M1084.4 681.3h.01M1050.1 680.6h.01M1043.8 681.5h.01M942.9 724.9h.01M951.1 724.8h.01M948.6 724.6h.01M972.1 737.2h.01M1035.3 736.6h.01M1026.3 737.4h.01M1021.2 737.8h.01M1053.2 740.5h.01M1040.0 740.8h.01M1047.4 739.9h.01M1044.9 738.5h.01M1075.9 736.3h.01M1041.7 744.4h.01M1085.7 740.0h.01M1056.1 734.6h.01M1052.7 738.9h.01M1078.7 742.1h.01M1082.8 734.9h.01M1098.2 743.4h.01M1102.0 744.0h.01M1106.1 742.8h.01M1118.6 746.5h.01M1121.7 739.2h.01M1133.6 736.5h.01M1138.4 739.2h.01M1142.5 740.3h.01M1145.6 736.1h.01M1156.0 744.0h.01M897.3 777.3h.01M949.2 779.3h.01M990.6 776.0h.01M1015.5 774.6h.01M1009.8 776.5h.01" stroke="#35b779" stroke-width="7.0"/>
<path d="M437.9 255.2h.01M447.7 256.7h.01M1126.9 238.7h.01M1017.4 242.4h.01M1052.5 238.7h.01M1026.3 243.6h.01M1011.9 241.8h.01M1004.7 243.0h.01M1016.6 241.2h.01M1063.6 242.1h.01M1113.0 244.0h.01M531.7 464.1h.01M532.0 463.0h.01M523.1 463.3h.01M532.1 461.6h.01M542.1 465.9h.01M518.6 652.3h.01M638.5 445.8h.01M781.9 448.3h.01M785.0 448.7h.01M801.6 449.3h.01M797.7 448.7h.01M811.4 448.4h.01M797.0 468.1h.01M805.7 468.7h.01M800.2 467.2h.01M786.6 467.2h.01M830.5 470.7h.01M826.8 465.8h.01M868.4 466.0h.01M859.5 457.9h.01M875.8 465.6h.01M652.5 486.6h.01M656.1 491.7h.01M625.0 492.3h.01M584.5 492.3h.01M726.2 490.2h.01M731.0 489.4h.01M735.8 490.2h.01M753.9 491.5h.01M698.8 499.8h.01M717.5 503.3h.01M726.9 499.8h.01M838.0 499.2h.01M885.8 499.2h.01M742.8 503.1h.01M756.2 505.0h.01M745.9 504.6h.01M820.1 500.4h.01M826.1 501.2h.01M825.8 499.6h.01M815.0 501.5h.01M885.4 487.7h.01M889.8 489.6h.01M888.8 510.5h.01M870.6 509.1h.01M741.4 515.8h.01M588.2 551.1h.01M594.5 551.1h.01M668.7 545.5h.01M796.8 565.7h.01M778.7 563.0h.01M789.1 568.1h.01M866.7 568.4h.01M817.2 571.0h.01M822.6 566.5h.01M823.2 569.9h.01M852.1 566.7h.01M778.6 567.2h.01M815.4 564.9h.01M783.1 566.5h.01M866.6 568.9h.01M795.7 567.6h.01M801.7 567.5h.01M789.1 566.0h.01M550.2 565.1h.01M562.7 569.2h.01M572.0 568.8h.01M576.2 568.4h.01M585.5 656.1h.01M620.2 653.0h.01M627.1 653.6h.01M662.4 657.1h.01M667.6 657.7h.01M672.8 656.5h.01M678.0 657.1h.01M617.7 669.6h.01M1145.6 468.6h.01M1039.6 474.2h.01M1080.2 470.1h.01M1227.7 488.8h.01M898.3 489.4h.01M908.7 489.8h.01M926.4 492.9h.01M980.4 491.5h.01M1060.4 490.9h.01M1183.0 499.2h.01M1130.7 511.6h.01M1143.1 509.6h.01M1030.3 510.2h.01M925.3 509.6h.01M943.0 507.5h.01M908.7 541.8h.01M932.6 542.8h.01M963.8 539.1h.01M899.4 551.1h.01M903.5 550.5h.01M908.3 551.8h.01M912.9 551.1h.01M892.1 561.5h.01M898.3 567.8h.01M1206.3 533.0h.01M1125.5 539.7h.01M1156.0 552.2h.01M1161.2 565.1h.01M1166.0 565.7h.01M1170.6 564.6h.01M914.4 663.3h.01M901.3 659.7h.01M920.6 660.6h.01M900.4 654.6h.01M900.0 659.9h.01M988.8 656.0h.01M966.4 662.6h.01M982.2 665.6h.01M894.8 658.4h.01M926.9 665.0h.01M962.5 660.5h.01M1032.7 677.2h.01M1065.2 675.0h.01M1048.2 675.4h.01M1142.5 672.7h.01M963.5 682.3h.01M954.0 684.1h.01M1019.6 694.4h.01M1073.4 680.6h.01M1037.4 681.0h.01M1048.0 683.3h.01M951.6 724.4h.01M1026.4 738.4h.01M1058.1 739.6h.01M1064.6 738.8h.01M1044.6 749.8h.01M1086.4 738.2h.01M1051.3 730.9h.01M1060.6 744.7h.01M1057.7 739.2h.01M1073.3 741.5h.01M1052.0 740.1h.01M1085.4 741.4h.01M1074.5 738.1h.01M1078.5 743.3h.01M992.9 778.3h.01M990.4 776.3h.01" stroke="#35b779" stroke-width="6.5"/>
<path d="M1003.4 240.9h.01M1035.3 243.0h.01M1086.7 244.2h.01M1019.5 237.6h.01M1106.4 239.0h.01M1100.1 239.7h.01M993.7 245.2h.01M1040.2 239.6h.01M539.5 462.1h.01M525.6 462.1h.01M539.0 465.4h.01M533.6 467.0h.01M812.4 448.1h.01M813.4 448.5h.01M815.4 448.2h.01M797.9 445.6h.01M791.1 467.4h.01M808.2 469.5h.01M773.6 470.0h.01M826.6 468.4h.01M881.8 470.1h.01M881.9 462.2h.01M874.9 461.1h.01M871.6 461.0h.01M864.0 467.2h.01M863.4 461.1h.01M865.8 463.3h.01M646.1 493.8h.01M637.5 491.5h.01M827.4 501.7h.01M826.3 502.1h.01M888.6 491.8h.01M881.2 488.6h.01M873.2 491.5h.01M871.5 508.5h.01M877.5 571.2h.01M863.7 570.1h.01M839.6 565.2h.01M804.8 564.6h.01M865.0 563.9h.01M888.3 564.8h.01M864.3 569.1h.01M888.9 570.0h.01M842.1 564.6h.01M803.0 567.7h.01M824.4 567.4h.01M919.3 661.0h.01M910.4 663.2h.01M890.8 662.3h.01M966.6 657.3h.01M980.5 660.6h.01M958.6 659.7h.01M914.7 665.6h.01M1051.0 672.3h.01M1008.2 694.5h.01M1045.7 681.7h.01M1019.7 737.0h.01M1055.9 739.8h.01M1050.8 741.7h.01M1066.7 737.5h.01M1070.5 742.4h.01M1086.7 735.1h.01M1045.7 733.2h.01M996.1 779.2h.01M1006.9 776.6h.01M1008.4 776.0h.01" stroke="#35b779" stroke-width="6.0"/>
<path d="M997.7 242.7h.01M1050.1 239.7h.01M1069.4 238.8h.01M1104.3 240.7h.01M1115.8 237.8h.01M1004.2 239.6h.01M1018.3 243.4h.01M991.0 239.4h.01M1134.9 243.0h.01M1012.8 240.5h.01M524.6 461.6h.01M803.0 449.1h.01M808.9 467.9h.01M645.2 487.3h.01M637.0 486.8h.01M882.4 509.4h.01M870.2 568.9h.01M821.7 565.8h.01M838.2 569.1h.01M855.2 563.7h.01M976.6 659.2h.01M923.8 660.7h.01M922.6 656.2h.01M1046.0 677.6h.01M1037.3 677.6h.01M1041.6 678.8h.01" stroke="#35b779" stroke-width="5.5"/>
<path d="M1051.1 239.8h.01M997.3 241.8h.01M1104.8 240.6h.01M1014.8 239.9h.01M1045.8 240.9h.01M997.7 239.6h.01M1062.7 244.1h.01M1135.0 240.6h.01M1035.8 240.0h.01M1108.9 238.6h.01M1091.0 237.4h.01" stroke="#23a983" stroke-width="7.5"/>
<path d="M1133.8 235.7h.01M1110.0 240.6h.01M1130.7 238.2h.01M1044.4 238.3h.01M1044.4 238.5h.01M994.8 242.4h.01M1029.7 235.9h.01M1122.1 239.6h.01M993.5 240.9h.01M1055.9 238.0h.01M1132.5 244.6h.01" stroke="#23a983" stroke-width="7.0"/>
<path d="M1030.4 238.9h.01M997.9 237.4h.01M1099.0 241.8h.01M1019.3 241.3h.01M1078.7 237.3h.01M1011.6 235.5h.01M1047.7 239.3h.01M1076.5 238.8h.01M1115.4 239.6h.01M1079.5 238.2h.01M1043.8 231.9h.01M1050.6 238.6h.01M1017.3 239.4h.01M1076.4 242.9h.01M1053.4 236.6h.01M1051.4 235.3h.01" stroke="#23a983" stroke-width="6.5"/>
<path d="M1044.6 240.9h.01M1100.0 243.2h.01M997.6 239.3h.01M1123.0 240.6h.01M1017.0 240.7h.01M1097.0 243.5h.01M1112.8 236.0h.01M1023.8 242.5h.01M1076.8 238.7h.01M1088.8 242.4h.01M1061.4 241.3h.01M1089.4 237.2h.01M1102.0 242.7h.01M1013.8 240.7h.01M1114.8 240.1h.01M992.9 242.1h.01M1033.4 243.0h.01M1056.9 243.5h.01M992.9 239.6h.01M1002.0 241.1h.01M1026.7 240.3h.01" stroke="#23a983" stroke-width="6.0"/>
<path d="M1053.7 241.7h.01" stroke="#23a983" stroke-width="5.5"/>
<path d="M747.3 222.2h.01M828.7 772.6h.01" stroke="#1fa088" stroke-width="8.0"/>
<path d="M740.4 221.3h.01M616.6 443.3h.01M614.7 441.6h.01M832.5 448.9h.01M829.9 772.6h.01" stroke="#1fa088" stroke-width="7.5"/>
<path d="M737.3 223.8h.01M1048.2 343.3h.01M1052.3 344.3h.01M1055.5 342.9h.01M660.3 443.2h.01M730.8 446.7h.01M719.7 440.7h.01M728.0 446.5h.01M746.2 445.5h.01M831.3 449.3h.01M680.7 618.8h.01M670.4 621.6h.01M765.7 740.7h.01M769.5 748.6h.01M773.6 746.9h.01M777.4 742.3h.01M767.4 733.0h.01M770.5 733.6h.01M828.6 773.0h.01M829.7 773.9h.01M956.5 746.5h.01M967.3 746.9h.01" stroke="#1fa088" stroke-width="7.0"/>
<path d="M747.5 223.3h.01M436.5 459.1h.01M440.0 459.7h.01M443.6 458.6h.01M447.3 459.1h.01M450.4 456.6h.01M453.6 469.5h.01M655.0 443.1h.01M654.6 445.8h.01M661.6 444.0h.01M721.5 444.3h.01M739.7 447.8h.01M743.2 445.1h.01M743.5 444.9h.01M722.3 447.6h.01M730.0 509.6h.01M733.1 510.6h.01M736.2 509.6h.01M627.7 619.7h.01M634.0 620.8h.01M669.7 619.8h.01M678.3 620.9h.01M826.2 773.4h.01" stroke="#1fa088" stroke-width="6.5"/>
<path d="M735.2 223.1h.01M737.5 222.3h.01M618.6 444.7h.01M657.6 443.2h.01M751.7 445.8h.01M832.7 448.5h.01M676.6 618.7h.01" stroke="#1fa088" stroke-width="6.0"/>
<path d="M615.2 444.8h.01M657.3 444.0h.01M680.1 620.3h.01M672.3 619.2h.01" stroke="#1fa088" stroke-width="5.5"/>
<path d="M1099.6 161.1h.01M1075.3 155.3h.01M1099.0 158.2h.01M1086.3 158.1h.01M992.5 159.2h.01M1130.4 157.2h.01M1173.8 160.2h.01M1027.3 157.2h.01M1096.8 156.8h.01M1049.5 157.6h.01M1157.7 153.7h.01M1230.9 157.3h.01M1167.3 156.1h.01M1000.8 169.8h.01M1078.2 171.6h.01M1070.4 171.8h.01M998.5 165.3h.01M1017.9 170.7h.01M992.0 166.3h.01M1007.6 166.0h.01M1067.9 165.3h.01M1076.3 169.0h.01M992.9 182.4h.01M1092.2 177.5h.01M1084.7 176.6h.01M1061.2 181.7h.01M1068.5 180.9h.01M993.3 181.4h.01M1058.5 178.1h.01M1065.0 177.9h.01M1121.9 179.5h.01M1014.4 177.7h.01M1113.3 178.8h.01M1013.3 177.1h.01M1022.0 177.4h.01M1129.5 170.0h.01M1147.4 165.4h.01M1119.8 178.0h.01M1222.7 178.2h.01M1176.9 169.2h.01M1163.8 170.3h.01M1227.4 164.0h.01M1172.7 174.7h.01M1204.2 177.2h.01M1141.4 173.0h.01M1149.1 168.9h.01M1109.6 167.8h.01M1161.0 168.5h.01M1206.1 171.0h.01M1136.0 182.5h.01M1135.8 179.8h.01M1229.2 182.0h.01M1236.6 182.2h.01M1158.5 172.0h.01M1186.1 173.6h.01M1221.9 181.4h.01M1124.7 167.8h.01M1196.3 168.2h.01M1223.8 156.1h.01M1164.1 171.1h.01M1115.5 166.2h.01M1104.4 163.9h.01M1160.5 166.5h.01M1189.3 170.5h.01M1200.2 169.1h.01M1230.7 168.9h.01M1162.0 162.8h.01M1163.4 168.7h.01M1210.5 172.1h.01M1192.7 162.5h.01M1179.3 172.5h.01M1213.9 162.8h.01M1196.0 155.6h.01M1202.5 173.4h.01M1238.5 170.4h.01M1205.3 167.9h.01M1193.8 167.3h.01M1233.4 172.7h.01M1219.8 158.2h.01M1190.5 166.6h.01M1200.0 162.2h.01M1210.2 167.7h.01M1223.8 159.4h.01M1211.4 161.2h.01M1201.3 177.1h.01M1201.6 164.7h.01M1208.9 171.4h.01M1223.4 172.3h.01M1224.4 175.1h.01M1231.3 179.1h.01M1232.3 172.9h.01M1234.6 170.9h.01M1218.9 183.1h.01M1224.4 179.5h.01M1227.4 174.1h.01M1228.5 177.5h.01M1228.9 180.0h.01M1220.4 172.9h.01M1229.6 169.0h.01" stroke="#1f9a8a" stroke-width="7.5"/>
<path d="M1101.7 156.7h.01M1112.3 160.2h.01M1106.1 159.9h.01M1147.2 157.8h.01M996.5 164.2h.01M1143.4 156.5h.01M1229.6 151.5h.01M1137.3 156.6h.01M1012.6 153.9h.01M1046.3 162.1h.01M993.6 160.7h.01M1062.9 170.6h.01M1060.3 163.2h.01M998.8 166.8h.01M995.9 161.6h.01M1018.4 165.8h.01M1054.8 177.6h.01M1124.5 175.1h.01M1071.6 175.3h.01M1065.7 179.3h.01M1093.1 176.7h.01M1022.6 177.8h.01M1021.7 177.1h.01M1086.5 176.4h.01M1028.2 176.9h.01M1062.3 179.7h.01M1020.3 180.8h.01M1113.3 167.2h.01M1144.1 168.2h.01M1155.0 174.5h.01M1150.2 168.1h.01M1162.4 166.5h.01M1207.9 170.4h.01M1188.2 168.2h.01M1162.5 174.2h.01M1201.2 168.7h.01M1145.6 172.1h.01M1129.6 178.2h.01M1162.5 172.0h.01M1122.4 172.7h.01M1203.1 173.1h.01M1216.3 162.3h.01M1155.7 168.4h.01M1233.9 164.8h.01M1109.2 169.0h.01M1208.1 179.7h.01M1103.6 160.1h.01M1228.2 165.1h.01M1107.5 163.6h.01M1101.4 165.5h.01M1237.2 186.1h.01M1137.7 172.3h.01M1105.5 160.5h.01M1139.7 169.1h.01M1213.6 158.0h.01M1223.0 165.4h.01M1225.4 160.3h.01M1206.9 154.8h.01M1220.9 165.8h.01M1214.2 170.6h.01M1215.9 159.4h.01M1226.4 171.6h.01M1233.5 162.2h.01M1198.5 172.9h.01M1221.8 167.5h.01M1200.9 176.3h.01M1191.0 163.2h.01M1198.3 168.7h.01M1196.5 167.9h.01M1197.8 164.7h.01M1223.6 158.9h.01M1237.7 170.9h.01M1188.3 173.5h.01M1216.4 158.4h.01M1221.2 183.9h.01M1233.8 172.9h.01M1232.5 178.1h.01M1233.3 192.1h.01M1221.6 178.4h.01M1225.9 166.6h.01M1219.5 174.2h.01M1233.9 181.8h.01M1227.3 166.1h.01M1235.4 191.0h.01M1227.6 171.0h.01" stroke="#1f9a8a" stroke-width="7.0"/>
<path d="M1066.3 160.0h.01M1090.9 154.6h.01M997.0 160.5h.01M1047.4 151.8h.01M1229.8 158.7h.01M1226.2 158.1h.01M1019.4 159.3h.01M1200.9 162.9h.01M1202.1 157.8h.01M1064.7 158.4h.01M1075.6 159.1h.01M1139.9 161.8h.01M1102.3 153.5h.01M1002.3 164.4h.01M994.7 167.8h.01M1005.2 168.5h.01M1109.8 164.8h.01M1040.5 168.8h.01M1102.5 182.3h.01M1097.0 178.8h.01M1096.1 177.9h.01M1102.7 178.8h.01M1066.2 176.4h.01M1117.5 177.9h.01M995.4 178.0h.01M1087.5 178.2h.01M1088.3 180.6h.01M1126.6 173.1h.01M1034.6 178.4h.01M1018.6 176.3h.01M1094.1 179.3h.01M1131.7 174.0h.01M1009.5 176.2h.01M1100.8 179.8h.01M1021.1 179.1h.01M1095.0 178.1h.01M1106.0 174.6h.01M1221.9 171.7h.01M1232.8 169.1h.01M1173.4 168.5h.01M1123.3 175.4h.01M1204.0 174.0h.01M1172.7 175.8h.01M1224.6 171.8h.01M1187.0 167.8h.01M1204.3 153.7h.01M1166.4 173.4h.01M1233.2 182.6h.01M1173.2 169.9h.01M1150.2 167.6h.01M1197.3 174.1h.01M1219.3 180.2h.01M1126.9 168.4h.01M1185.4 171.8h.01M1145.3 168.3h.01M1194.1 179.0h.01M1235.3 157.6h.01M1207.5 160.1h.01M1222.1 183.1h.01M1112.2 168.0h.01M1112.9 171.4h.01M1221.1 176.6h.01M1220.4 177.2h.01M1167.2 167.2h.01M1226.1 156.2h.01M1179.6 180.7h.01M1167.3 173.6h.01M1186.6 165.7h.01M1108.5 163.9h.01M1213.2 175.3h.01M1219.3 164.0h.01M1177.8 166.7h.01M1119.0 171.1h.01M1217.1 163.4h.01M1161.8 173.0h.01M1230.9 162.4h.01M1099.9 171.2h.01M1171.0 164.9h.01M1116.4 167.2h.01M1221.5 172.6h.01M1136.5 169.5h.01M1202.2 172.6h.01M1102.5 173.4h.01M1208.5 173.1h.01M1188.0 178.1h.01M1190.0 165.7h.01M1205.4 165.2h.01M1181.0 178.0h.01M1205.3 171.5h.01M1203.4 167.3h.01M1191.0 153.7h.01M1188.2 173.5h.01M1222.3 160.5h.01M1206.8 160.4h.01M1187.3 166.9h.01M1185.3 175.4h.01M1206.7 184.5h.01M1237.7 170.0h.01M1228.0 174.5h.01M1237.3 172.8h.01M1197.2 173.1h.01M1221.2 180.2h.01M1215.9 168.6h.01M1201.8 166.9h.01M1213.6 158.9h.01M1169.8 166.2h.01M1191.5 163.7h.01M1212.8 170.8h.01M1212.9 172.2h.01M1164.4 179.7h.01M1206.2 166.5h.01M1175.2 162.4h.01M1210.3 160.5h.01M1210.5 169.1h.01M1191.8 166.8h.01M1236.1 169.1h.01M1224.3 169.9h.01" stroke="#1f9a8a" stroke-width="6.5"/>
<path d="M1007.8 161.6h.01M1092.6 161.0h.01M1136.4 158.1h.01M1150.6 158.8h.01M1145.0 160.4h.01M1182.6 156.0h.01M1164.3 155.0h.01M1139.1 158.3h.01M1116.0 153.4h.01M1070.3 173.5h.01M1005.4 163.8h.01M1104.9 166.4h.01M1112.7 170.0h.01M1064.4 174.2h.01M1014.5 179.8h.01M1009.9 182.6h.01M1040.2 181.4h.01M1022.2 179.0h.01M1092.4 180.5h.01M1071.0 179.3h.01M1112.7 178.1h.01M1095.4 185.5h.01M1166.9 168.0h.01M1155.5 169.1h.01M1098.6 172.7h.01M1219.6 172.2h.01M1152.5 172.3h.01M1161.3 154.6h.01M1222.2 189.3h.01M1146.6 170.9h.01M1119.0 166.7h.01M1161.9 175.9h.01M1116.8 176.4h.01M1145.1 155.9h.01M1201.6 172.0h.01M1100.7 173.7h.01M1174.1 170.3h.01M1119.7 172.2h.01M1149.3 175.0h.01M1218.1 174.5h.01M1227.5 175.4h.01M1224.3 156.7h.01M1167.7 183.0h.01M1190.2 164.1h.01M1114.5 173.8h.01M1165.2 161.6h.01M1147.2 164.6h.01M1095.1 171.1h.01M1141.8 173.2h.01M1146.7 176.2h.01M1224.0 183.9h.01M1111.8 175.4h.01M1233.8 169.0h.01M1232.6 163.9h.01M1188.7 182.2h.01M1122.4 169.7h.01M1121.1 168.4h.01M1160.0 185.3h.01M1225.0 168.9h.01M1223.9 164.1h.01M1221.2 172.5h.01M1200.3 163.6h.01M1202.9 164.5h.01M1207.2 177.8h.01M1208.9 179.3h.01M1210.8 166.0h.01M1191.9 165.8h.01M1196.8 172.8h.01M1209.1 164.1h.01M1221.3 175.5h.01M1217.3 160.1h.01M1212.0 161.4h.01M1174.7 180.6h.01M1177.7 159.3h.01M1213.4 170.7h.01M1205.9 167.2h.01M1228.2 179.7h.01M1231.7 171.1h.01M1222.7 161.6h.01M1218.9 164.8h.01M1232.7 183.9h.01M1228.2 181.2h.01" stroke="#1f9a8a" stroke-width="6.0"/>
<path d="M992.4 162.2h.01M1111.0 162.9h.01M1051.4 167.8h.01M1029.2 166.7h.01M1209.6 177.8h.01M1191.2 158.7h.01M1095.5 182.2h.01M1199.7 162.9h.01M1204.1 163.8h.01M1200.3 168.5h.01" stroke="#1f9a8a" stroke-width="5.5"/>
<path d="M1121.1 700.4h.01M1154.5 699.2h.01M1159.4 763.2h.01" stroke="#1f958b" stroke-width="8.0"/>
<path d="M629.6 326.2h.01M632.9 330.7h.01M612.4 329.9h.01M629.6 318.9h.01M621.0 322.1h.01M641.0 323.5h.01M605.3 328.2h.01M830.9 163.2h.01M933.1 167.1h.01M847.8 155.4h.01M864.3 170.2h.01M881.5 173.9h.01M948.1 178.2h.01M693.8 202.4h.01M939.8 223.2h.01M926.8 220.7h.01M959.3 226.9h.01M895.9 222.9h.01M890.1 221.0h.01M949.5 219.5h.01M888.0 236.1h.01M983.8 269.7h.01M974.1 268.0h.01M867.9 270.5h.01M870.8 266.6h.01M973.5 270.2h.01M849.0 268.3h.01M831.8 297.9h.01M881.6 296.6h.01M891.7 298.9h.01M889.7 297.5h.01M855.5 298.8h.01M641.5 323.5h.01M676.5 322.2h.01M655.7 325.4h.01M652.8 328.4h.01M661.6 331.1h.01M669.1 328.1h.01M669.0 336.6h.01M664.7 327.7h.01M653.8 312.4h.01M802.5 317.8h.01M774.8 314.1h.01M751.7 313.6h.01M871.1 311.9h.01M911.7 313.2h.01M963.8 316.2h.01M941.9 313.7h.01M828.0 326.3h.01M871.9 320.7h.01M774.2 322.8h.01M696.6 325.2h.01M986.6 327.4h.01M857.3 327.8h.01M838.6 322.1h.01M981.0 334.1h.01M824.5 338.3h.01M813.1 333.6h.01M800.1 335.6h.01M866.0 336.7h.01M813.2 333.3h.01M874.9 334.1h.01M935.8 337.4h.01M924.9 336.7h.01M861.9 337.7h.01M926.3 336.5h.01M801.6 336.4h.01M854.4 331.7h.01M895.2 336.4h.01M819.1 335.8h.01M868.3 340.0h.01M741.8 334.0h.01M712.7 329.6h.01M703.0 334.8h.01M1066.8 219.6h.01M1015.0 221.5h.01M1079.9 314.0h.01M1147.0 316.4h.01M1139.0 319.0h.01M1212.9 342.4h.01M1210.9 335.4h.01M1041.8 357.9h.01M1086.4 354.8h.01M1059.6 354.9h.01M1172.1 357.0h.01M1207.2 368.0h.01M1225.5 378.7h.01M1197.8 361.1h.01M1221.2 370.8h.01M1234.2 374.3h.01M1228.8 383.2h.01M1124.6 378.3h.01M1076.4 358.3h.01M1097.6 377.2h.01M1053.8 375.4h.01M1057.0 404.9h.01M1065.7 409.5h.01M1067.2 404.1h.01M1098.0 408.4h.01M1158.0 403.1h.01M1176.8 411.4h.01M1188.0 401.5h.01M1180.6 407.5h.01M1150.2 401.3h.01M1212.1 392.9h.01M1220.2 392.9h.01M1223.7 386.6h.01M1235.5 405.1h.01M1231.8 407.2h.01M1234.1 400.9h.01M372.1 453.4h.01M375.6 454.1h.01M510.8 582.2h.01M476.0 583.0h.01M495.7 579.5h.01M709.3 446.1h.01M696.6 447.9h.01M698.8 444.3h.01M693.0 443.7h.01M868.1 437.3h.01M868.4 437.4h.01M865.8 435.3h.01M889.6 430.0h.01M880.2 430.8h.01M889.2 429.9h.01M870.8 451.8h.01M882.8 456.4h.01M874.3 452.4h.01M844.0 460.5h.01M626.2 483.1h.01M625.9 482.3h.01M630.1 483.8h.01M686.3 506.3h.01M685.1 567.9h.01M676.1 570.9h.01M709.6 566.3h.01M679.1 572.5h.01M701.5 568.1h.01M707.1 570.2h.01M731.7 571.0h.01M674.8 568.5h.01M642.6 566.2h.01M667.6 566.9h.01M628.9 571.8h.01M647.3 565.6h.01M562.3 576.5h.01M635.4 580.0h.01M701.9 620.4h.01M1106.3 429.4h.01M998.2 437.3h.01M1014.4 429.0h.01M1065.6 424.5h.01M1058.9 430.3h.01M1117.8 432.5h.01M1076.0 430.1h.01M1011.6 426.7h.01M1113.5 435.8h.01M1055.5 425.8h.01M1053.4 426.2h.01M1123.1 434.6h.01M1023.8 431.7h.01M1018.0 434.9h.01M1056.2 432.0h.01M1083.4 429.4h.01M1100.0 424.7h.01M997.1 431.7h.01M1116.0 419.7h.01M1009.9 437.9h.01M1057.8 423.6h.01M1120.3 428.8h.01M1047.3 432.4h.01M1108.5 428.3h.01M1069.7 429.5h.01M1099.2 432.0h.01M1069.3 428.0h.01M1076.7 432.4h.01M1090.3 424.4h.01M1009.6 427.2h.01M1086.1 432.6h.01M1134.9 434.5h.01M1224.0 428.7h.01M1198.3 430.8h.01M1194.8 438.2h.01M901.2 434.9h.01M931.6 430.9h.01M984.3 455.4h.01M937.9 458.2h.01M952.3 459.5h.01M963.7 457.1h.01M1093.1 458.6h.01M1025.7 463.2h.01M1060.1 462.6h.01M997.2 458.1h.01M1069.3 454.2h.01M1022.3 469.7h.01M1000.4 466.8h.01M1063.0 453.3h.01M1075.7 448.1h.01M1057.5 455.2h.01M1090.0 451.0h.01M1073.2 454.9h.01M1080.9 449.6h.01M1063.3 455.7h.01M1086.3 629.1h.01M1094.5 630.1h.01M1091.0 627.8h.01M1078.1 632.0h.01M1087.4 630.6h.01M956.8 674.0h.01M894.4 673.9h.01M918.8 673.8h.01M914.1 676.1h.01M900.4 674.1h.01M912.5 676.3h.01M1044.9 675.0h.01M1105.7 671.2h.01M1106.5 673.8h.01M504.5 804.7h.01M510.7 805.1h.01M533.6 807.8h.01M539.8 808.4h.01M1103.8 713.0h.01M1074.9 713.5h.01M1095.6 715.2h.01M1110.8 711.3h.01M1101.6 713.6h.01M1115.8 712.4h.01M1098.1 711.5h.01M1098.7 713.6h.01M1112.2 712.8h.01M1086.0 713.6h.01M1067.2 714.6h.01M1098.4 713.5h.01M1100.4 713.4h.01M1107.6 697.9h.01M1110.3 698.4h.01M1124.1 697.5h.01M1106.1 701.2h.01M1100.6 700.3h.01M1127.0 699.9h.01M1129.4 695.9h.01M1129.1 697.1h.01M1131.7 696.9h.01M1224.0 700.3h.01M1203.2 701.1h.01M1163.0 701.8h.01M1234.0 698.3h.01M1216.3 700.8h.01M1203.8 700.8h.01M1232.7 697.4h.01M1173.4 697.4h.01M1216.3 702.3h.01M1202.1 706.6h.01M1197.2 699.4h.01M1197.9 698.3h.01M1173.7 703.1h.01M1177.8 700.1h.01M1194.8 701.9h.01M1173.7 707.2h.01M1172.5 710.3h.01M1179.4 708.3h.01M1167.6 708.8h.01M1060.3 751.5h.01M1065.0 752.7h.01M1044.5 752.1h.01M1097.9 750.9h.01M1165.3 765.5h.01M1155.7 764.7h.01M1156.4 807.2h.01M1159.8 806.8h.01" stroke="#1f958b" stroke-width="7.5"/>
<path d="M538.6 235.6h.01M608.6 332.8h.01M602.5 334.2h.01M621.8 327.1h.01M620.5 326.9h.01M632.4 327.6h.01M640.4 324.5h.01M625.5 326.2h.01M618.9 331.0h.01M629.4 321.9h.01M653.4 327.9h.01M607.1 329.2h.01M634.6 328.6h.01M631.6 326.8h.01M617.1 329.5h.01M610.8 330.5h.01M642.9 328.2h.01M618.5 324.6h.01M623.9 320.8h.01M611.1 329.2h.01M636.0 322.5h.01M599.9 334.8h.01M628.2 328.9h.01M618.1 329.8h.01M617.1 325.0h.01M614.1 321.7h.01M832.9 166.9h.01M832.5 164.4h.01M832.0 165.4h.01M825.6 165.5h.01M821.5 161.6h.01M867.3 170.6h.01M871.0 168.6h.01M848.2 173.8h.01M870.4 161.9h.01M856.9 169.0h.01M868.5 163.7h.01M878.3 165.6h.01M878.7 168.2h.01M853.4 166.5h.01M886.8 160.6h.01M891.6 170.4h.01M828.9 165.8h.01M964.9 175.1h.01M934.7 154.0h.01M902.7 181.4h.01M967.9 156.2h.01M954.8 151.4h.01M959.7 165.1h.01M948.9 176.4h.01M890.9 171.2h.01M857.3 153.1h.01M855.7 147.5h.01M866.7 185.7h.01M974.6 172.3h.01M869.1 175.5h.01M979.7 170.6h.01M916.6 170.3h.01M845.1 193.0h.01M940.6 163.3h.01M963.1 164.4h.01M949.7 164.2h.01M960.1 166.4h.01M970.7 163.0h.01M945.6 179.8h.01M973.1 178.4h.01M951.0 183.1h.01M945.7 173.6h.01M947.1 176.0h.01M950.6 172.6h.01M946.9 179.3h.01M927.7 158.4h.01M921.1 157.5h.01M912.3 159.2h.01M911.1 158.5h.01M933.2 160.6h.01M702.9 202.7h.01M798.0 223.9h.01M789.1 220.6h.01M791.8 220.3h.01M834.5 221.5h.01M932.8 223.6h.01M902.8 225.1h.01M890.6 223.0h.01M943.5 227.0h.01M922.7 224.6h.01M903.1 223.9h.01M936.2 223.0h.01M913.4 221.7h.01M936.8 224.0h.01M949.3 222.4h.01M933.0 225.6h.01M931.0 218.3h.01M921.7 225.8h.01M920.6 224.5h.01M937.4 222.1h.01M930.4 225.4h.01M915.1 236.9h.01M951.0 232.5h.01M899.6 235.5h.01M970.6 215.0h.01M986.5 268.1h.01M865.3 268.6h.01M928.7 267.4h.01M857.4 267.8h.01M944.8 268.3h.01M846.4 270.2h.01M843.4 269.6h.01M946.2 269.6h.01M913.5 269.1h.01M842.4 268.4h.01M946.2 270.8h.01M973.8 269.8h.01M962.5 268.7h.01M961.7 269.6h.01M856.7 268.2h.01M983.1 268.1h.01M980.3 269.1h.01M987.8 267.1h.01M983.9 268.7h.01M970.4 269.3h.01M858.4 270.3h.01M842.8 266.4h.01M940.5 269.2h.01M845.0 266.8h.01M932.8 270.2h.01M960.6 268.6h.01M967.5 268.8h.01M936.2 268.0h.01M941.3 268.6h.01M920.4 269.9h.01M877.3 268.0h.01M926.2 267.6h.01M875.3 268.7h.01M874.3 297.7h.01M856.2 298.1h.01M877.6 299.2h.01M852.5 299.2h.01M881.9 298.1h.01M842.8 297.6h.01M853.1 297.4h.01M882.9 298.0h.01M893.5 298.3h.01M835.1 298.6h.01M890.7 297.4h.01M901.0 297.1h.01M909.1 298.4h.01M865.5 298.1h.01M833.2 298.6h.01M879.9 298.0h.01M667.2 322.8h.01M667.5 325.8h.01M651.9 328.2h.01M647.6 326.1h.01M677.1 329.5h.01M652.3 327.5h.01M661.6 327.2h.01M637.2 334.7h.01M636.7 335.4h.01M668.3 334.1h.01M688.9 326.5h.01M679.6 321.8h.01M667.3 324.7h.01M665.1 319.4h.01M678.2 317.5h.01M658.0 328.1h.01M675.1 332.1h.01M659.3 329.1h.01M644.5 331.9h.01M652.4 325.9h.01M670.7 319.0h.01M669.8 334.4h.01M679.4 322.3h.01M661.7 323.6h.01M660.0 328.0h.01M655.1 328.3h.01M660.2 327.2h.01M654.5 322.6h.01M655.9 325.2h.01M648.9 324.3h.01M676.1 332.1h.01M672.5 326.6h.01M736.5 314.4h.01M724.0 313.1h.01M750.3 318.0h.01M748.0 313.1h.01M761.5 314.4h.01M728.9 319.1h.01M763.9 316.4h.01M783.9 313.2h.01M865.1 311.8h.01M908.6 310.7h.01M835.6 310.9h.01M852.1 312.8h.01M838.4 312.6h.01M832.0 312.2h.01M915.5 313.1h.01M830.8 314.9h.01M876.1 313.3h.01M869.4 312.2h.01M922.9 310.9h.01M876.9 311.6h.01M845.5 314.8h.01M877.2 313.3h.01M880.4 312.4h.01M838.2 311.1h.01M872.9 314.8h.01M889.6 312.6h.01M882.0 314.4h.01M893.2 310.8h.01M850.2 312.2h.01M943.9 311.9h.01M935.6 316.1h.01M966.5 315.7h.01M981.9 317.1h.01M693.0 322.3h.01M840.6 327.5h.01M921.2 326.3h.01M756.5 322.5h.01M727.8 327.3h.01M809.3 320.5h.01M715.2 327.5h.01M980.3 326.1h.01M820.3 324.2h.01M907.6 323.2h.01M875.3 327.7h.01M986.0 329.2h.01M927.9 324.7h.01M811.0 328.3h.01M923.4 324.0h.01M805.5 324.3h.01M944.6 317.5h.01M691.3 316.9h.01M757.8 322.2h.01M913.2 329.2h.01M965.1 329.7h.01M688.4 334.3h.01M807.2 321.4h.01M921.7 324.1h.01M918.6 332.4h.01M877.0 327.7h.01M959.3 317.3h.01M784.4 322.4h.01M864.3 324.3h.01M976.4 326.1h.01M844.0 325.6h.01M733.2 323.8h.01M683.5 326.7h.01M731.7 324.1h.01M889.5 321.8h.01M753.6 324.3h.01M988.4 328.1h.01M764.2 328.2h.01M700.1 329.8h.01M872.4 331.6h.01M867.8 332.6h.01M895.4 326.1h.01M743.5 329.1h.01M874.1 325.2h.01M748.3 326.7h.01M915.8 326.6h.01M712.9 327.3h.01M908.7 337.6h.01M900.3 335.8h.01M798.3 336.5h.01M803.7 333.9h.01M857.9 338.0h.01M809.5 335.0h.01M917.6 332.9h.01M934.4 336.0h.01M839.4 335.3h.01M803.8 335.0h.01M849.1 333.6h.01M886.5 332.5h.01M866.1 339.3h.01M842.1 332.3h.01M848.2 336.2h.01M894.7 335.1h.01M822.0 334.9h.01M882.5 336.7h.01M912.2 334.1h.01M887.2 333.1h.01M841.1 336.6h.01M843.4 336.0h.01M811.6 334.6h.01M933.1 337.7h.01M880.0 333.9h.01M878.0 333.9h.01M841.1 338.5h.01M863.0 335.5h.01M838.5 338.3h.01M915.9 334.1h.01M845.1 334.6h.01M846.4 335.9h.01M901.0 335.9h.01M832.2 333.4h.01M921.5 338.4h.01M859.5 337.3h.01M888.9 336.8h.01M904.0 339.3h.01M860.5 334.6h.01M853.8 336.5h.01M892.3 336.2h.01M902.1 337.2h.01M895.4 339.4h.01M855.4 336.7h.01M877.0 337.1h.01M869.6 337.7h.01M864.2 335.6h.01M902.2 337.0h.01M748.4 333.6h.01M690.3 335.6h.01M755.6 332.6h.01M754.3 335.8h.01M763.0 335.1h.01M716.7 329.5h.01M755.3 335.1h.01M748.6 331.0h.01M712.4 335.4h.01M763.6 334.7h.01M1026.9 218.9h.01M1051.0 218.8h.01M1083.0 222.2h.01M1053.0 220.8h.01M1229.0 270.5h.01M1072.8 313.7h.01M996.5 320.0h.01M1022.6 317.8h.01M1066.8 318.6h.01M1066.1 325.3h.01M1001.9 319.6h.01M1031.7 324.8h.01M1039.6 319.6h.01M1151.9 316.6h.01M1111.9 318.1h.01M1128.7 315.1h.01M1083.8 315.3h.01M1105.9 316.0h.01M1124.5 318.6h.01M1101.5 315.1h.01M1124.7 316.3h.01M1210.5 340.0h.01M1093.4 354.5h.01M1079.0 356.5h.01M1062.8 348.9h.01M1054.7 358.1h.01M1038.2 351.8h.01M1055.2 354.1h.01M1071.0 353.6h.01M1049.3 351.9h.01M1068.0 356.3h.01M1118.7 353.8h.01M1165.5 355.6h.01M1173.3 357.1h.01M1180.0 356.1h.01M1175.1 350.7h.01M1183.2 352.5h.01M1172.1 352.3h.01M1160.5 348.6h.01M1235.5 350.6h.01M1227.5 371.4h.01M1232.0 371.8h.01M1228.3 368.2h.01M1220.4 376.6h.01M1224.0 366.1h.01M1203.7 371.1h.01M1227.1 374.3h.01M1208.9 372.6h.01M1212.4 375.3h.01M1213.0 372.1h.01M1208.7 364.3h.01M1223.1 370.7h.01M1213.9 368.8h.01M1217.5 364.6h.01M1223.2 367.9h.01M1218.8 373.0h.01M1214.9 374.8h.01M1206.8 370.1h.01M1207.1 370.0h.01M1213.8 363.7h.01M1238.0 367.8h.01M1225.8 367.9h.01M1226.8 370.4h.01M1014.5 374.8h.01M1034.1 393.8h.01M1179.7 372.0h.01M1014.0 374.0h.01M1166.4 379.6h.01M1013.5 371.6h.01M1109.2 380.7h.01M1042.1 373.1h.01M1090.8 372.7h.01M1049.4 376.3h.01M1174.4 365.3h.01M1135.2 386.7h.01M1124.8 384.2h.01M1072.4 381.0h.01M1154.5 383.3h.01M1011.3 366.8h.01M1065.9 398.8h.01M1033.4 384.0h.01M1086.0 377.1h.01M1179.9 376.3h.01M1096.4 379.4h.01M1157.6 367.0h.01M1115.6 397.3h.01M1075.6 368.9h.01M1141.1 382.2h.01M1135.4 375.1h.01M1165.1 368.0h.01M1102.5 371.6h.01M1097.8 407.0h.01M1053.2 413.0h.01M1047.2 405.5h.01M1027.1 407.5h.01M1068.2 406.5h.01M1076.7 407.4h.01M1090.0 412.3h.01M1101.8 412.0h.01M1065.0 406.5h.01M1070.2 398.4h.01M1070.0 395.3h.01M1171.8 396.5h.01M1165.3 389.7h.01M1187.2 404.9h.01M1149.6 404.2h.01M1138.0 402.3h.01M1193.8 396.3h.01M1147.7 416.0h.01M1157.7 403.1h.01M1194.9 396.7h.01M1170.8 406.1h.01M1141.4 404.3h.01M1231.3 393.6h.01M1206.8 385.9h.01M1204.9 401.5h.01M1222.4 414.0h.01M1234.4 407.1h.01M1198.5 409.0h.01M1217.1 404.6h.01M1202.9 409.6h.01M1204.6 406.0h.01M1236.1 401.1h.01M482.9 517.9h.01M511.6 519.3h.01M502.8 513.5h.01M490.6 531.8h.01M495.4 530.8h.01M530.0 561.7h.01M495.5 553.8h.01M513.9 557.2h.01M494.5 554.0h.01M498.6 572.2h.01M511.4 580.8h.01M501.3 578.3h.01M490.9 578.8h.01M494.0 579.8h.01M466.8 584.8h.01M487.3 580.9h.01M474.0 580.8h.01M484.3 582.8h.01M692.1 451.6h.01M708.1 442.4h.01M671.3 446.9h.01M699.3 446.8h.01M674.8 448.7h.01M674.0 447.9h.01M681.3 448.0h.01M706.8 444.9h.01M689.5 443.9h.01M690.8 447.3h.01M711.0 448.3h.01M712.1 446.2h.01M866.0 436.4h.01M864.8 436.5h.01M860.5 436.9h.01M880.1 431.0h.01M883.8 454.6h.01M875.4 453.5h.01M870.3 451.8h.01M671.3 470.5h.01M669.6 467.6h.01M681.8 454.5h.01M688.3 455.2h.01M725.5 460.3h.01M761.1 459.7h.01M838.4 460.4h.01M840.3 451.3h.01M622.8 482.0h.01M684.3 510.0h.01M696.9 518.2h.01M672.5 571.5h.01M732.0 571.0h.01M727.6 572.4h.01M690.7 569.7h.01M688.3 571.4h.01M695.9 571.3h.01M696.1 568.5h.01M724.4 569.4h.01M694.6 571.5h.01M704.2 570.8h.01M705.9 571.9h.01M700.3 570.8h.01M554.1 576.8h.01M569.2 572.6h.01M571.5 580.8h.01M642.0 577.3h.01M645.1 574.1h.01M586.8 578.1h.01M708.8 628.2h.01M834.7 673.1h.01M1081.0 435.1h.01M1069.2 434.3h.01M1004.8 430.0h.01M1054.9 431.6h.01M1077.8 428.1h.01M1013.8 422.0h.01M1109.3 426.2h.01M1081.3 423.9h.01M1035.0 431.0h.01M1026.7 428.2h.01M1032.7 432.6h.01M1044.4 432.6h.01M990.4 430.8h.01M1031.8 425.6h.01M1021.7 436.4h.01M989.9 427.5h.01M1081.6 426.4h.01M1043.8 429.3h.01M1122.7 427.9h.01M1094.6 426.9h.01M1123.6 430.9h.01M1022.5 427.2h.01M1030.6 432.9h.01M1071.6 429.7h.01M1112.4 426.6h.01M1019.6 438.5h.01M1026.9 429.7h.01M1059.9 426.5h.01M1084.9 428.9h.01M1093.3 428.6h.01M1081.7 428.2h.01M1073.8 428.2h.01M1025.8 426.8h.01M1018.1 429.5h.01M1085.2 426.8h.01M1087.9 434.1h.01M1079.8 424.0h.01M1123.3 430.2h.01M1028.1 434.3h.01M1113.4 431.3h.01M1115.8 436.5h.01M1027.1 429.7h.01M1043.3 438.1h.01M1048.8 428.6h.01M1094.0 428.5h.01M1105.8 433.9h.01M1001.7 430.2h.01M1010.3 439.5h.01M1064.7 429.3h.01M1184.5 432.7h.01M1177.4 435.4h.01M1190.4 428.9h.01M1161.2 432.8h.01M1142.6 434.7h.01M1140.1 432.3h.01M1150.8 433.6h.01M1174.5 438.2h.01M1216.8 436.3h.01M1126.9 429.3h.01M1183.4 434.4h.01M1139.5 436.3h.01M1185.6 432.1h.01M1164.1 435.9h.01M1207.7 429.1h.01M1203.3 433.9h.01M975.7 437.2h.01M930.9 435.3h.01M947.5 440.2h.01M962.9 435.0h.01M927.4 427.9h.01M954.4 430.5h.01M941.7 429.6h.01M938.3 430.0h.01M946.6 458.5h.01M959.6 457.2h.01M960.5 458.1h.01M947.4 453.0h.01M967.3 457.7h.01M943.0 458.9h.01M960.3 456.2h.01M954.3 459.5h.01M938.1 458.3h.01M939.2 458.4h.01M952.7 457.2h.01M963.9 460.0h.01M1010.9 454.4h.01M1053.5 454.5h.01M1106.5 452.6h.01M1036.8 461.2h.01M1046.3 458.0h.01M1001.1 454.6h.01M1003.2 460.1h.01M1072.5 458.1h.01M1082.6 460.9h.01M1044.9 460.1h.01M1065.5 452.9h.01M997.4 455.7h.01M1057.5 465.3h.01M1059.7 459.9h.01M1028.9 457.3h.01M1070.2 463.2h.01M1109.3 460.6h.01M1000.6 459.9h.01M1007.8 465.2h.01M1038.0 452.8h.01M1080.9 457.0h.01M1084.8 454.2h.01M1055.6 449.2h.01M1097.8 457.6h.01M1090.2 448.1h.01M1059.3 449.9h.01M1070.8 446.5h.01M1070.5 453.0h.01M1081.7 444.7h.01M1060.2 453.9h.01M1079.0 454.1h.01M1062.1 454.2h.01M1079.0 627.2h.01M1087.2 630.1h.01M1085.5 630.5h.01M896.3 672.4h.01M906.3 671.7h.01M932.5 677.7h.01M917.4 670.3h.01M945.3 675.2h.01M912.9 672.3h.01M948.7 673.8h.01M953.3 672.3h.01M954.9 672.5h.01M1063.4 676.7h.01M1053.6 679.8h.01M1075.3 681.1h.01M1064.7 674.9h.01M1113.7 672.3h.01M1089.8 674.3h.01M489.6 809.9h.01M484.5 808.8h.01M486.6 807.7h.01M829.7 777.7h.01M577.6 806.4h.01M752.8 808.9h.01M834.5 808.4h.01M955.5 713.3h.01M1003.3 712.2h.01M1038.0 712.8h.01M1118.4 713.4h.01M1120.0 714.3h.01M1099.6 713.6h.01M1068.2 712.9h.01M1072.7 715.3h.01M1075.8 712.6h.01M1107.9 713.5h.01M1088.3 713.6h.01M1120.6 714.4h.01M1116.7 711.8h.01M1097.5 712.8h.01M1079.2 711.4h.01M1100.5 710.6h.01M1074.0 713.6h.01M1113.3 698.8h.01M1106.8 703.1h.01M1105.1 700.6h.01M1134.0 697.7h.01M1133.1 697.1h.01M1135.7 693.6h.01M1150.3 696.1h.01M1153.0 697.5h.01M1129.3 699.7h.01M1184.2 700.2h.01M1232.0 702.5h.01M1170.5 700.2h.01M1169.9 701.4h.01M1162.3 705.2h.01M1186.1 699.0h.01M1222.1 700.2h.01M1194.6 698.6h.01M1191.9 703.4h.01M1175.8 701.1h.01M1198.2 705.0h.01M1165.7 698.5h.01M1213.1 702.2h.01M1226.8 700.4h.01M1161.2 697.3h.01M1171.4 697.6h.01M1222.9 712.2h.01M1226.7 712.8h.01M1230.4 711.2h.01M1025.1 753.2h.01M1028.8 752.3h.01M1050.2 753.7h.01M1107.4 749.9h.01M1113.0 751.5h.01M1158.0 765.4h.01M1155.2 764.3h.01M1167.6 764.3h.01M1177.8 763.1h.01M1187.2 766.9h.01M1207.6 764.2h.01" stroke="#1f958b" stroke-width="7.0"/>
<path d="M591.6 221.3h.01M615.1 219.2h.01M635.0 225.2h.01M644.0 219.2h.01M593.0 327.3h.01M622.4 326.9h.01M629.9 327.8h.01M637.0 329.0h.01M621.1 329.0h.01M652.5 326.2h.01M617.3 321.8h.01M636.3 326.0h.01M612.0 322.1h.01M638.9 326.4h.01M633.3 327.3h.01M609.7 326.4h.01M625.5 324.9h.01M635.5 326.7h.01M623.2 327.3h.01M617.6 326.2h.01M613.4 323.2h.01M627.1 326.6h.01M616.8 327.8h.01M643.2 317.5h.01M599.8 326.2h.01M636.4 320.7h.01M647.1 157.9h.01M652.3 156.2h.01M657.5 157.5h.01M668.9 155.2h.01M674.1 155.8h.01M686.6 158.3h.01M707.3 158.7h.01M736.0 158.3h.01M769.7 165.6h.01M737.5 170.8h.01M788.4 165.6h.01M803.0 164.5h.01M798.8 167.7h.01M788.4 177.0h.01M767.6 178.1h.01M811.3 177.0h.01M817.5 181.2h.01M827.9 177.0h.01M839.3 181.2h.01M805.0 158.3h.01M852.8 174.9h.01M769.7 170.8h.01M780.1 162.5h.01M815.9 164.0h.01M818.7 166.8h.01M839.1 169.7h.01M832.0 161.3h.01M840.3 164.1h.01M869.6 163.9h.01M876.6 174.0h.01M854.2 170.3h.01M874.6 172.6h.01M872.0 168.8h.01M939.8 169.4h.01M926.3 171.9h.01M924.4 157.8h.01M832.2 156.3h.01M959.9 149.9h.01M943.0 182.2h.01M914.5 195.9h.01M975.8 174.3h.01M854.4 180.7h.01M980.0 181.9h.01M946.6 185.4h.01M846.6 166.9h.01M884.3 182.3h.01M966.1 175.1h.01M965.2 167.9h.01M945.4 166.9h.01M914.0 180.7h.01M858.2 169.6h.01M964.3 174.8h.01M947.5 164.1h.01M975.0 164.8h.01M980.8 164.0h.01M952.4 164.0h.01M959.6 165.0h.01M974.6 161.9h.01M962.8 163.0h.01M959.0 179.3h.01M969.0 176.8h.01M946.3 178.8h.01M972.7 177.5h.01M949.3 170.3h.01M945.0 174.5h.01M955.2 180.6h.01M954.8 183.9h.01M976.3 181.1h.01M924.6 155.8h.01M931.8 158.4h.01M903.0 158.5h.01M928.2 162.3h.01M691.4 202.8h.01M689.7 204.2h.01M703.9 203.8h.01M764.5 219.2h.01M745.8 217.5h.01M778.0 220.7h.01M646.0 218.6h.01M666.8 233.1h.01M728.1 240.4h.01M732.3 240.8h.01M857.0 240.8h.01M983.8 205.1h.01M822.7 220.7h.01M852.8 219.6h.01M866.3 222.3h.01M945.3 223.4h.01M902.1 226.4h.01M903.5 221.9h.01M945.8 226.1h.01M904.6 224.3h.01M896.9 224.5h.01M893.0 219.2h.01M913.1 226.8h.01M900.8 222.1h.01M919.1 221.1h.01M954.8 226.6h.01M886.5 223.0h.01M921.0 225.2h.01M884.7 222.7h.01M945.9 220.5h.01M906.6 223.3h.01M922.4 220.4h.01M885.4 223.8h.01M938.3 225.3h.01M952.4 224.9h.01M948.7 223.0h.01M933.3 222.4h.01M913.2 223.3h.01M913.1 243.1h.01M909.7 233.5h.01M935.0 238.7h.01M928.0 233.8h.01M889.6 234.3h.01M889.8 228.3h.01M930.0 240.2h.01M971.0 224.1h.01M986.6 219.4h.01M853.9 253.3h.01M822.7 263.3h.01M830.0 263.9h.01M878.8 258.1h.01M928.3 270.4h.01M955.3 270.4h.01M953.9 269.1h.01M861.4 268.7h.01M958.3 269.7h.01M938.1 269.2h.01M922.0 268.3h.01M887.1 270.0h.01M947.5 269.7h.01M969.2 270.0h.01M848.5 267.0h.01M853.5 270.4h.01M940.5 267.8h.01M979.4 268.4h.01M964.9 268.1h.01M908.3 268.7h.01M960.6 269.2h.01M872.0 269.4h.01M873.5 268.7h.01M892.6 268.0h.01M885.8 270.4h.01M894.4 270.1h.01M986.1 269.2h.01M862.0 268.6h.01M865.7 269.5h.01M865.4 266.3h.01M933.0 269.1h.01M850.6 269.1h.01M874.0 270.5h.01M860.6 270.4h.01M907.3 267.9h.01M875.8 268.1h.01M903.8 269.3h.01M854.1 267.6h.01M887.8 265.9h.01M876.5 262.2h.01M879.5 261.1h.01M834.0 296.3h.01M849.1 298.0h.01M830.0 299.0h.01M908.2 298.3h.01M859.1 297.5h.01M903.9 298.4h.01M900.6 298.2h.01M901.4 298.3h.01M890.5 299.2h.01M879.4 300.4h.01M883.8 297.3h.01M838.0 298.5h.01M910.9 298.9h.01M878.7 299.3h.01M893.3 298.6h.01M881.3 299.7h.01M841.0 297.8h.01M875.6 299.0h.01M882.2 298.0h.01M732.3 296.9h.01M944.3 296.1h.01M947.4 298.0h.01M971.3 298.0h.01M670.7 326.0h.01M673.0 324.2h.01M678.0 316.4h.01M662.1 327.6h.01M665.6 324.8h.01M657.2 325.5h.01M654.3 327.6h.01M662.4 325.8h.01M669.7 328.3h.01M670.2 326.7h.01M661.8 322.9h.01M671.5 326.1h.01M665.7 320.5h.01M678.9 318.4h.01M674.4 324.3h.01M663.6 328.8h.01M652.9 327.5h.01M670.6 319.4h.01M662.8 328.0h.01M657.4 322.1h.01M658.9 323.7h.01M663.5 330.5h.01M671.2 320.9h.01M672.5 327.4h.01M666.0 328.9h.01M641.1 330.3h.01M761.4 310.4h.01M769.2 312.7h.01M764.9 312.7h.01M763.5 316.0h.01M778.1 313.8h.01M735.4 314.0h.01M785.7 313.7h.01M726.1 316.8h.01M751.6 315.2h.01M765.1 314.7h.01M892.8 312.6h.01M916.9 312.9h.01M878.3 311.7h.01M896.7 313.1h.01M885.5 311.9h.01M864.3 311.4h.01M867.0 311.9h.01M891.6 313.5h.01M891.9 312.0h.01M843.7 313.1h.01M916.3 311.4h.01M878.5 312.4h.01M915.7 311.2h.01M908.9 313.5h.01M855.8 312.7h.01M867.4 310.4h.01M877.1 314.1h.01M882.7 310.9h.01M883.8 311.5h.01M845.9 311.9h.01M910.5 313.6h.01M840.1 314.7h.01M842.4 312.2h.01M907.5 313.0h.01M845.2 313.1h.01M838.6 312.8h.01M864.1 315.3h.01M951.3 313.9h.01M937.6 313.2h.01M968.5 315.8h.01M765.3 321.6h.01M781.4 331.2h.01M799.1 323.9h.01M838.5 326.0h.01M910.0 333.1h.01M733.0 320.1h.01M860.5 323.0h.01M859.1 331.1h.01M738.9 332.8h.01M839.4 329.3h.01M877.2 328.8h.01M931.5 325.5h.01M742.8 329.1h.01M820.6 325.3h.01M693.0 325.1h.01M987.8 326.1h.01M887.5 324.4h.01M699.2 325.4h.01M910.4 319.3h.01M944.7 319.6h.01M886.3 323.6h.01M895.3 323.2h.01M919.6 326.3h.01M800.5 325.2h.01M743.7 332.0h.01M780.2 321.4h.01M732.6 327.1h.01M860.9 326.9h.01M883.8 321.3h.01M958.4 323.5h.01M690.4 325.4h.01M836.0 322.7h.01M866.8 319.5h.01M780.6 333.9h.01M912.6 320.2h.01M834.9 322.4h.01M705.2 327.9h.01M769.2 326.4h.01M743.2 322.8h.01M957.0 317.9h.01M701.2 323.5h.01M888.5 326.2h.01M871.6 326.6h.01M815.6 326.4h.01M952.3 327.8h.01M877.2 321.5h.01M809.6 325.5h.01M902.6 324.2h.01M785.0 319.6h.01M987.4 324.9h.01M819.8 326.7h.01M925.9 323.4h.01M895.5 329.3h.01M928.8 322.1h.01M907.1 323.4h.01M870.5 329.2h.01M856.7 319.4h.01M949.1 330.0h.01M801.9 335.9h.01M931.6 335.2h.01M791.8 335.1h.01M866.3 331.5h.01M886.5 335.6h.01M867.7 333.5h.01M906.6 335.2h.01M794.3 333.5h.01M838.5 335.4h.01M921.0 334.0h.01M796.0 332.7h.01M853.9 335.8h.01M889.7 337.6h.01M852.2 335.1h.01M812.0 333.7h.01M796.9 333.3h.01M882.0 340.6h.01M850.9 335.5h.01M899.4 338.2h.01M905.4 335.8h.01M833.3 332.6h.01M862.3 330.0h.01M836.6 335.0h.01M895.6 333.0h.01M894.3 333.8h.01M840.9 333.9h.01M886.4 334.6h.01M929.4 335.3h.01M901.8 336.4h.01M906.8 336.6h.01M894.9 334.4h.01M827.3 333.9h.01M925.3 337.7h.01M904.3 335.0h.01M793.1 333.4h.01M806.9 338.7h.01M831.0 333.5h.01M882.0 334.0h.01M884.1 337.9h.01M864.2 334.8h.01M890.5 339.9h.01M861.2 338.5h.01M883.9 337.7h.01M898.4 338.0h.01M880.1 335.8h.01M859.1 335.6h.01M691.5 332.9h.01M756.9 334.2h.01M726.0 335.1h.01M692.3 331.6h.01M716.7 330.7h.01M768.6 330.6h.01M715.9 328.1h.01M691.1 333.8h.01M770.2 335.1h.01M722.9 330.7h.01M711.7 332.1h.01M713.9 332.9h.01M731.0 330.0h.01M762.1 336.9h.01M782.7 332.2h.01M769.5 330.4h.01M772.0 330.4h.01M731.0 328.4h.01M683.1 332.6h.01M963.0 337.0h.01M981.7 340.2h.01M965.1 342.2h.01M725.6 372.0h.01M783.2 372.0h.01M786.7 371.5h.01M790.5 372.0h.01M725.6 386.9h.01M758.3 386.9h.01M977.5 368.2h.01M686.6 395.2h.01M690.3 394.8h.01M693.8 396.3h.01M704.2 395.2h.01M693.8 404.6h.01M698.6 405.2h.01M703.2 404.0h.01M739.6 405.6h.01M839.3 402.5h.01M1100.2 187.4h.01M1056.9 201.5h.01M1062.3 203.0h.01M1150.0 203.6h.01M1033.2 217.0h.01M1007.8 222.3h.01M999.4 218.6h.01M1016.1 218.8h.01M1004.1 220.1h.01M1082.5 221.4h.01M1028.4 260.2h.01M999.4 268.5h.01M1009.7 298.0h.01M1074.4 322.3h.01M1039.0 322.3h.01M1014.2 319.2h.01M1024.0 320.5h.01M999.5 319.4h.01M1021.5 316.3h.01M1058.0 322.3h.01M991.8 323.0h.01M993.0 317.6h.01M998.1 321.8h.01M1070.7 321.5h.01M1090.2 317.0h.01M1130.6 316.4h.01M1110.9 320.0h.01M1132.2 322.7h.01M1147.4 318.2h.01M1159.0 316.5h.01M1091.4 316.4h.01M1088.1 313.4h.01M1136.7 317.0h.01M1027.4 311.1h.01M1064.8 310.0h.01M1131.3 311.1h.01M1179.1 318.8h.01M1184.3 317.9h.01M1189.5 317.3h.01M1193.7 319.4h.01M1218.0 319.4h.01M1168.7 337.0h.01M1197.8 340.2h.01M1066.9 335.0h.01M1213.1 338.5h.01M1219.0 337.6h.01M1217.0 340.2h.01M1217.2 338.5h.01M1071.6 355.9h.01M1058.9 358.3h.01M1082.8 354.1h.01M1056.4 354.9h.01M1045.2 353.3h.01M1077.7 352.6h.01M1080.8 355.1h.01M1080.9 358.3h.01M1054.8 357.8h.01M1110.1 356.2h.01M1182.8 356.7h.01M1182.2 354.6h.01M1188.4 355.7h.01M1233.7 352.7h.01M999.4 352.6h.01M1002.1 359.5h.01M1212.8 377.4h.01M1218.4 368.7h.01M1204.8 372.5h.01M1201.3 374.0h.01M1208.1 374.4h.01M1215.7 372.2h.01M1228.2 373.3h.01M1222.3 378.7h.01M1219.8 374.0h.01M1214.7 370.8h.01M1107.4 388.7h.01M1183.4 381.3h.01M1088.3 366.6h.01M1081.2 371.7h.01M1046.0 379.3h.01M1096.4 374.2h.01M1156.3 377.1h.01M1068.9 382.4h.01M1083.8 373.2h.01M1082.7 385.8h.01M1113.2 390.9h.01M1139.9 370.4h.01M1042.1 369.4h.01M1178.0 376.8h.01M1171.4 363.4h.01M1149.3 361.0h.01M1102.4 379.6h.01M1093.9 395.8h.01M1034.2 366.7h.01M1184.2 367.5h.01M1034.8 378.3h.01M1155.8 374.7h.01M1144.5 389.3h.01M1043.2 366.0h.01M1153.1 374.5h.01M1145.1 370.4h.01M1058.9 362.3h.01M1107.8 373.8h.01M1169.1 374.8h.01M1029.2 408.7h.01M1086.8 407.0h.01M1095.2 408.3h.01M1076.3 404.3h.01M1040.8 408.7h.01M1056.7 411.9h.01M1089.0 410.6h.01M1065.4 411.0h.01M1101.3 405.7h.01M1084.2 410.2h.01M1024.6 410.7h.01M1056.9 411.1h.01M1087.2 408.1h.01M1084.3 396.7h.01M1083.2 392.9h.01M1081.6 397.8h.01M1076.7 394.9h.01M1136.6 394.6h.01M1139.9 399.3h.01M1154.8 395.7h.01M1160.2 405.8h.01M1157.6 398.8h.01M1181.9 396.0h.01M1191.8 417.4h.01M1221.5 402.2h.01M1221.1 401.6h.01M1210.8 402.7h.01M1214.4 412.7h.01M1233.0 388.2h.01M1229.8 394.3h.01M1220.9 405.2h.01M1235.0 399.2h.01M1231.7 399.0h.01M453.6 515.4h.01M482.0 516.7h.01M512.9 515.3h.01M496.3 517.1h.01M500.7 513.2h.01M521.9 518.9h.01M492.3 517.5h.01M512.2 520.1h.01M477.5 517.2h.01M509.4 516.1h.01M473.4 516.8h.01M510.1 517.3h.01M481.4 516.9h.01M502.6 517.7h.01M494.2 520.7h.01M475.7 516.9h.01M470.3 517.9h.01M505.1 521.4h.01M495.2 516.6h.01M485.7 514.7h.01M513.6 518.4h.01M494.2 534.4h.01M509.1 535.2h.01M489.1 556.2h.01M533.5 556.4h.01M518.5 557.3h.01M505.8 555.1h.01M535.8 556.8h.01M504.5 561.5h.01M524.2 554.0h.01M511.4 560.9h.01M531.2 557.1h.01M530.7 557.3h.01M486.5 560.8h.01M488.7 559.6h.01M499.9 554.6h.01M501.3 569.3h.01M501.7 569.9h.01M538.8 571.6h.01M466.7 580.8h.01M510.8 581.6h.01M466.4 581.1h.01M497.4 577.4h.01M472.7 582.4h.01M505.8 580.0h.01M528.4 581.7h.01M695.8 448.8h.01M672.1 446.8h.01M696.5 444.6h.01M696.6 444.5h.01M683.4 444.4h.01M863.5 439.1h.01M889.2 449.7h.01M885.2 460.0h.01M873.4 455.3h.01M872.9 450.2h.01M577.2 452.4h.01M581.4 452.0h.01M585.5 453.0h.01M588.6 452.0h.01M572.0 459.7h.01M582.4 459.7h.01M585.5 460.3h.01M633.3 459.7h.01M638.5 462.8h.01M642.3 465.9h.01M696.7 459.7h.01M707.1 461.8h.01M674.1 469.1h.01M677.9 468.4h.01M682.6 453.4h.01M691.6 454.7h.01M689.8 453.2h.01M716.1 458.0h.01M748.3 459.4h.01M744.7 459.4h.01M757.3 460.7h.01M839.1 455.8h.01M626.2 481.4h.01M629.3 482.5h.01M644.8 511.0h.01M648.9 515.8h.01M660.3 518.5h.01M667.2 511.0h.01M673.9 517.9h.01M618.2 517.3h.01M547.1 517.9h.01M554.4 518.3h.01M564.7 516.2h.01M579.3 516.8h.01M690.2 508.5h.01M549.2 533.5h.01M558.5 533.5h.01M566.8 533.9h.01M577.2 533.5h.01M625.6 545.5h.01M629.2 544.9h.01M632.3 547.0h.01M655.2 543.9h.01M582.4 558.4h.01M676.8 569.7h.01M695.7 566.3h.01M716.8 568.3h.01M674.5 574.9h.01M693.8 569.6h.01M685.2 570.7h.01M723.5 569.7h.01M689.0 571.2h.01M687.1 570.6h.01M675.3 566.5h.01M674.0 572.1h.01M689.4 572.0h.01M651.6 572.3h.01M654.0 566.5h.01M650.4 563.6h.01M652.4 567.2h.01M642.2 566.3h.01M659.1 571.3h.01M652.9 567.3h.01M568.9 577.8h.01M592.0 573.7h.01M626.1 577.7h.01M597.2 578.7h.01M585.6 583.1h.01M699.4 617.9h.01M708.0 627.8h.01M1115.7 431.9h.01M1083.3 427.0h.01M1057.9 426.4h.01M1079.4 433.6h.01M1030.5 436.7h.01M1058.9 433.8h.01M1059.4 438.4h.01M1034.1 434.1h.01M1033.7 436.0h.01M1065.7 427.8h.01M1082.4 432.2h.01M1065.7 435.6h.01M1062.2 436.9h.01M1099.3 431.6h.01M1057.5 430.1h.01M1086.4 431.5h.01M990.3 429.7h.01M1073.7 435.5h.01M1060.9 437.0h.01M1102.0 429.9h.01M1043.0 419.8h.01M992.9 430.3h.01M1060.8 426.1h.01M997.7 426.4h.01M1066.4 427.4h.01M1088.2 431.8h.01M1002.6 430.8h.01M1007.6 426.0h.01M1065.2 430.7h.01M1115.5 435.2h.01M1077.7 430.5h.01M1102.0 425.7h.01M1008.6 428.3h.01M1013.0 432.4h.01M1059.3 429.0h.01M1087.0 433.7h.01M1121.3 430.5h.01M1046.2 432.7h.01M1047.7 430.0h.01M990.0 429.2h.01M1058.1 430.2h.01M1020.9 427.3h.01M1002.0 429.4h.01M1013.6 430.4h.01M1032.8 428.1h.01M997.3 436.5h.01M1092.5 435.9h.01M1047.3 431.4h.01M996.3 428.0h.01M1026.6 427.3h.01M1021.7 433.9h.01M1120.1 425.3h.01M1201.2 436.7h.01M1188.3 439.3h.01M1163.5 436.0h.01M1150.9 432.5h.01M1192.7 437.9h.01M1187.6 434.7h.01M1223.8 438.6h.01M1172.1 433.8h.01M1126.9 433.5h.01M1159.6 433.5h.01M1186.8 431.7h.01M1155.6 438.3h.01M1130.8 438.9h.01M1147.9 435.7h.01M1155.8 434.5h.01M1177.2 437.1h.01M1190.3 430.9h.01M1228.1 440.1h.01M1211.9 437.6h.01M1179.8 441.3h.01M1226.4 426.1h.01M953.8 434.1h.01M971.8 437.5h.01M900.6 428.2h.01M940.8 431.3h.01M972.8 431.9h.01M926.3 429.0h.01M897.2 430.7h.01M976.7 430.9h.01M955.2 429.1h.01M986.1 461.0h.01M960.2 456.2h.01M978.7 459.1h.01M962.9 455.4h.01M932.4 457.5h.01M958.8 459.9h.01M969.0 458.3h.01M947.2 465.9h.01M951.3 464.9h.01M954.4 466.5h.01M1001.4 451.9h.01M1009.4 454.8h.01M1098.8 455.6h.01M1067.2 452.6h.01M1094.3 462.3h.01M1084.6 452.7h.01M1024.8 462.5h.01M991.0 456.3h.01M1006.1 463.1h.01M1068.0 447.2h.01M1082.5 453.7h.01M1062.8 463.5h.01M1022.3 458.3h.01M1049.4 461.8h.01M1072.2 461.7h.01M1100.4 462.5h.01M1073.5 456.1h.01M1058.6 458.0h.01M1005.7 463.4h.01M1020.1 455.3h.01M1001.8 458.0h.01M993.4 447.1h.01M1011.2 460.8h.01M1020.1 465.7h.01M1057.0 451.6h.01M1061.2 463.8h.01M1083.3 452.3h.01M1083.8 463.3h.01M1061.5 456.0h.01M1078.6 457.3h.01M1083.2 447.0h.01M1091.8 451.8h.01M1066.6 457.5h.01M1087.2 449.3h.01M1067.0 455.7h.01M932.6 481.5h.01M941.5 481.9h.01M944.5 481.5h.01M947.8 482.3h.01M950.7 481.5h.01M961.1 481.1h.01M964.4 481.5h.01M967.7 480.7h.01M971.1 481.5h.01M985.6 481.9h.01M998.1 481.5h.01M1013.0 481.9h.01M1041.7 481.5h.01M1053.1 480.5h.01M1089.5 481.9h.01M1114.9 481.5h.01M1117.8 481.9h.01M1120.7 481.1h.01M1150.8 481.5h.01M1180.5 481.5h.01M900.4 481.5h.01M906.6 482.5h.01M900.4 516.8h.01M910.4 517.9h.01M913.3 517.3h.01M894.2 560.5h.01M901.4 574.0h.01M1033.4 632.8h.01M1051.1 629.1h.01M1060.8 632.8h.01M1064.6 632.2h.01M1068.3 633.2h.01M1090.6 634.3h.01M1076.2 628.8h.01M1072.5 650.3h.01M941.3 677.3h.01M921.0 675.5h.01M945.0 674.7h.01M929.3 671.2h.01M918.7 674.5h.01M955.4 673.9h.01M923.9 669.5h.01M937.6 674.7h.01M900.4 677.2h.01M979.8 673.8h.01M985.6 677.3h.01M991.4 674.4h.01M1041.1 674.1h.01M1048.1 677.7h.01M1035.7 678.6h.01M1060.1 672.0h.01M1103.8 671.3h.01M1086.3 670.0h.01M1094.2 671.0h.01M1103.2 671.5h.01M459.4 810.5h.01M491.7 809.7h.01M495.8 807.6h.01M1097.1 715.8h.01M1085.5 712.9h.01M1068.0 717.0h.01M1096.8 715.6h.01M1086.7 713.3h.01M1117.0 701.8h.01M1123.3 699.9h.01M1124.6 698.0h.01M1104.5 701.8h.01M1116.8 702.8h.01M1142.8 696.5h.01M1146.4 699.0h.01M1129.9 693.8h.01M1138.9 696.2h.01M1146.8 693.6h.01M1153.4 693.8h.01M1143.0 700.0h.01M1211.5 702.4h.01M1200.1 698.4h.01M1227.2 700.2h.01M1218.2 698.7h.01M1175.9 700.9h.01M1195.1 699.8h.01M1183.4 702.0h.01M1194.4 697.7h.01M1171.7 710.8h.01M1061.4 751.3h.01M1070.2 753.5h.01M1057.1 752.0h.01M1102.4 752.4h.01M1103.4 750.9h.01M1156.4 764.9h.01M1157.4 763.7h.01" stroke="#1f958b" stroke-width="6.5"/>
<path d="M644.5 156.7h.01M643.6 157.4h.01M638.4 159.6h.01M625.9 157.3h.01M622.6 169.5h.01M613.9 169.8h.01M596.3 170.1h.01M593.2 169.1h.01M604.2 170.1h.01M638.8 169.7h.01M617.8 325.3h.01M626.1 328.0h.01M607.9 325.7h.01M626.0 322.2h.01M627.4 336.5h.01M647.7 322.6h.01M619.0 323.3h.01M629.4 331.4h.01M603.9 324.2h.01M636.0 330.2h.01M627.3 330.1h.01M643.3 325.7h.01M623.1 329.7h.01M616.0 328.6h.01M624.5 324.1h.01M632.2 324.5h.01M601.4 320.9h.01M617.3 323.0h.01M649.6 323.6h.01M606.5 333.2h.01M628.0 329.6h.01M630.5 320.0h.01M631.4 323.6h.01M607.0 327.6h.01M628.4 329.6h.01M626.2 319.9h.01M617.1 330.9h.01M617.7 323.1h.01M626.2 323.9h.01M641.9 330.1h.01M625.2 326.3h.01M618.1 327.9h.01M828.4 164.3h.01M837.8 168.2h.01M838.3 163.8h.01M821.3 162.5h.01M867.4 164.2h.01M867.6 166.6h.01M866.4 166.3h.01M871.1 166.5h.01M961.1 165.6h.01M856.0 164.7h.01M972.8 151.1h.01M915.1 169.2h.01M851.0 178.9h.01M896.2 163.8h.01M889.8 176.8h.01M831.2 161.8h.01M916.5 181.6h.01M981.2 179.3h.01M886.4 181.6h.01M984.0 171.5h.01M859.2 151.5h.01M960.1 178.3h.01M873.7 157.7h.01M828.9 186.6h.01M894.1 164.7h.01M954.8 167.0h.01M947.8 164.0h.01M956.5 163.2h.01M943.0 163.4h.01M976.6 163.1h.01M958.9 165.3h.01M963.4 164.7h.01M972.0 161.6h.01M951.1 165.7h.01M953.8 163.0h.01M981.1 164.7h.01M953.3 177.8h.01M973.1 177.4h.01M972.3 174.5h.01M960.6 176.4h.01M953.4 174.8h.01M934.2 157.4h.01M934.5 158.1h.01M902.9 156.9h.01M910.8 161.4h.01M698.7 203.4h.01M687.4 202.9h.01M794.9 220.8h.01M793.5 221.4h.01M830.6 221.5h.01M823.9 223.0h.01M834.5 221.5h.01M932.0 223.6h.01M926.7 223.1h.01M955.1 227.8h.01M899.2 217.4h.01M919.5 225.1h.01M902.2 227.2h.01M922.5 221.7h.01M948.3 223.6h.01M901.4 221.0h.01M948.9 222.9h.01M904.0 224.5h.01M911.8 221.0h.01M958.2 222.8h.01M894.1 223.1h.01M953.0 217.5h.01M931.9 224.3h.01M914.2 222.8h.01M894.7 224.5h.01M937.7 226.1h.01M936.9 226.9h.01M885.6 218.6h.01M920.0 219.6h.01M907.1 239.6h.01M915.4 240.7h.01M924.2 232.3h.01M892.3 231.8h.01M933.6 231.3h.01M914.1 237.1h.01M884.2 239.0h.01M895.1 227.6h.01M982.2 222.9h.01M978.4 223.7h.01M983.8 227.1h.01M976.6 221.2h.01M973.2 269.9h.01M899.6 268.2h.01M958.9 268.6h.01M979.5 269.7h.01M953.2 269.8h.01M842.3 268.6h.01M874.0 269.2h.01M862.8 267.4h.01M963.4 268.9h.01M978.0 270.1h.01M936.5 269.0h.01M881.5 268.2h.01M958.0 270.3h.01M935.5 271.2h.01M930.5 270.9h.01M863.7 268.4h.01M969.2 270.1h.01M888.8 267.0h.01M980.3 268.4h.01M923.0 270.0h.01M952.3 268.3h.01M944.4 269.0h.01M925.7 269.5h.01M946.4 268.4h.01M929.5 268.8h.01M970.0 271.1h.01M943.2 268.5h.01M854.9 269.7h.01M977.1 272.1h.01M964.5 271.2h.01M840.7 270.0h.01M912.0 269.6h.01M957.0 269.6h.01M876.2 268.1h.01M904.1 268.9h.01M956.9 268.8h.01M940.1 269.4h.01M947.5 266.9h.01M848.8 270.2h.01M934.8 269.7h.01M910.3 267.8h.01M903.3 268.6h.01M967.6 269.8h.01M877.6 262.3h.01M908.7 297.8h.01M892.3 298.0h.01M859.2 298.1h.01M874.3 296.1h.01M819.8 298.0h.01M847.6 297.6h.01M823.2 297.6h.01M910.8 298.0h.01M867.1 296.0h.01M887.1 297.2h.01M839.6 298.8h.01M869.0 297.8h.01M891.5 299.0h.01M873.8 298.0h.01M913.7 298.0h.01M844.8 297.8h.01M642.7 337.5h.01M663.1 327.9h.01M654.0 328.1h.01M662.2 326.8h.01M656.4 332.3h.01M668.1 323.3h.01M653.3 325.3h.01M680.1 333.2h.01M662.2 318.1h.01M659.6 324.4h.01M671.2 326.3h.01M676.5 326.7h.01M671.2 322.7h.01M672.6 327.2h.01M644.3 322.5h.01M643.4 323.5h.01M667.8 325.1h.01M661.4 328.4h.01M651.8 320.9h.01M656.4 324.1h.01M677.4 326.3h.01M675.8 329.4h.01M666.0 331.3h.01M663.1 327.8h.01M659.9 318.5h.01M671.5 325.6h.01M656.2 334.2h.01M664.3 335.2h.01M662.0 325.9h.01M660.5 327.6h.01M669.5 330.7h.01M661.9 326.3h.01M674.4 326.5h.01M665.7 336.4h.01M661.7 332.7h.01M654.6 327.1h.01M670.4 324.5h.01M669.1 325.7h.01M689.1 335.5h.01M663.5 322.9h.01M777.3 314.9h.01M792.2 314.1h.01M769.4 317.7h.01M749.5 313.2h.01M725.0 313.4h.01M750.3 314.6h.01M782.9 314.8h.01M780.6 315.2h.01M843.6 311.4h.01M871.9 313.9h.01M913.4 313.0h.01M858.3 312.5h.01M825.9 311.6h.01M898.9 312.4h.01M849.8 313.8h.01M832.7 312.9h.01M910.7 313.2h.01M834.8 311.5h.01M836.2 312.6h.01M855.7 314.7h.01M867.3 314.5h.01M830.1 311.7h.01M882.8 314.4h.01M912.5 312.6h.01M841.5 312.3h.01M847.1 312.1h.01M836.9 312.0h.01M964.2 315.6h.01M980.6 311.1h.01M983.2 313.6h.01M969.0 313.5h.01M975.4 313.5h.01M978.2 313.2h.01M934.0 317.9h.01M983.4 314.8h.01M744.5 328.9h.01M706.7 320.0h.01M808.2 332.3h.01M974.5 325.0h.01M963.7 332.9h.01M940.9 328.3h.01M900.4 327.9h.01M690.4 325.0h.01M840.7 323.5h.01M792.5 322.9h.01M974.1 334.2h.01M881.8 318.7h.01M971.6 323.3h.01M731.8 324.9h.01M940.0 319.2h.01M899.9 320.8h.01M709.1 324.8h.01M877.1 324.7h.01M888.4 328.6h.01M944.4 328.0h.01M699.2 324.0h.01M867.1 325.8h.01M723.8 324.4h.01M967.7 317.8h.01M762.5 323.1h.01M704.9 329.0h.01M775.3 321.1h.01M816.2 331.6h.01M734.9 325.1h.01M703.5 327.9h.01M715.0 332.2h.01M733.0 327.1h.01M889.5 324.5h.01M938.9 325.0h.01M966.1 320.4h.01M779.9 330.4h.01M886.5 330.4h.01M719.4 326.1h.01M776.4 331.5h.01M957.0 328.8h.01M841.7 325.5h.01M801.8 327.5h.01M802.7 326.1h.01M887.6 333.0h.01M851.8 332.9h.01M905.2 319.1h.01M970.4 327.5h.01M765.7 327.6h.01M923.5 326.3h.01M944.1 330.6h.01M709.0 330.9h.01M912.4 331.3h.01M859.7 323.6h.01M796.2 332.2h.01M806.1 328.0h.01M813.5 330.3h.01M818.9 325.0h.01M972.6 326.4h.01M846.4 330.4h.01M868.8 326.4h.01M906.5 328.7h.01M871.2 323.0h.01M762.8 327.5h.01M880.9 322.2h.01M932.0 337.3h.01M881.8 332.1h.01M881.5 337.8h.01M921.5 334.9h.01M922.9 336.6h.01M843.8 332.2h.01M804.1 340.3h.01M809.8 337.8h.01M912.2 332.3h.01M852.2 335.1h.01M801.2 333.3h.01M912.9 332.8h.01M921.4 335.1h.01M837.6 336.5h.01M849.5 336.5h.01M905.0 335.1h.01M918.3 333.8h.01M880.6 331.7h.01M891.6 334.7h.01M916.7 336.5h.01M916.7 336.7h.01M912.2 333.9h.01M864.4 339.0h.01M864.6 336.1h.01M813.6 338.0h.01M907.6 336.6h.01M932.7 334.1h.01M865.4 338.6h.01M901.9 339.0h.01M896.1 337.5h.01M888.0 336.0h.01M866.7 339.1h.01M901.0 339.0h.01M877.3 336.8h.01M857.4 336.2h.01M860.2 340.4h.01M882.4 338.0h.01M855.2 339.3h.01M768.5 332.0h.01M759.7 329.1h.01M725.7 331.5h.01M742.0 331.7h.01M766.2 332.4h.01M786.8 330.9h.01M716.0 329.9h.01M707.8 333.4h.01M707.4 332.3h.01M713.9 332.5h.01M783.8 329.0h.01M1020.5 220.7h.01M1034.8 224.5h.01M1061.8 222.9h.01M1004.7 222.0h.01M1078.6 223.0h.01M1036.4 221.3h.01M1038.2 223.8h.01M994.5 318.5h.01M1068.2 316.3h.01M1054.9 320.3h.01M994.5 318.6h.01M1049.8 314.8h.01M1055.1 318.6h.01M1017.8 317.7h.01M1049.6 311.0h.01M1028.3 332.3h.01M1038.2 324.4h.01M1094.4 317.9h.01M1106.1 320.6h.01M1157.0 318.8h.01M1214.9 336.4h.01M1042.4 351.0h.01M1088.2 358.3h.01M1094.6 355.4h.01M1092.5 349.9h.01M1086.1 352.9h.01M1058.1 353.0h.01M1069.4 355.1h.01M1112.8 355.1h.01M1121.8 353.0h.01M1110.1 355.8h.01M1121.3 354.5h.01M1121.9 355.1h.01M1158.4 356.3h.01M1187.1 355.5h.01M1180.3 353.0h.01M1222.3 369.9h.01M1220.1 371.4h.01M1190.9 368.1h.01M1199.6 374.8h.01M1225.5 373.5h.01M1205.1 366.3h.01M1213.8 370.6h.01M1222.0 368.4h.01M1208.4 361.2h.01M1213.3 367.6h.01M1208.5 378.1h.01M1216.5 371.4h.01M1207.9 370.2h.01M1234.4 383.1h.01M1197.7 376.1h.01M1199.4 378.5h.01M1216.8 365.3h.01M1210.1 367.2h.01M1215.5 369.5h.01M1227.0 371.6h.01M1179.2 370.0h.01M1225.2 378.6h.01M1226.8 371.6h.01M1225.5 374.9h.01M1039.0 378.9h.01M1054.4 371.9h.01M1147.2 375.1h.01M1122.4 387.6h.01M1163.4 382.7h.01M1105.4 382.5h.01M1018.8 388.5h.01M1123.6 387.5h.01M1132.4 392.8h.01M1112.3 383.3h.01M1077.5 377.6h.01M1017.4 369.8h.01M1045.8 371.1h.01M1031.8 380.4h.01M1136.4 370.2h.01M1101.0 374.1h.01M1016.1 382.4h.01M1194.4 372.2h.01M1052.4 379.6h.01M1066.1 378.7h.01M1045.8 380.9h.01M1104.0 390.8h.01M1187.8 377.0h.01M1021.9 363.6h.01M1013.8 372.4h.01M1057.7 403.3h.01M1036.1 406.8h.01M1058.3 406.5h.01M1041.0 409.7h.01M1024.2 409.6h.01M1093.6 411.0h.01M1018.1 411.4h.01M1076.0 408.7h.01M1095.9 403.7h.01M1071.6 406.9h.01M1061.9 411.5h.01M1036.9 409.0h.01M1085.5 395.1h.01M1188.2 396.3h.01M1147.9 395.9h.01M1139.6 397.0h.01M1151.6 399.6h.01M1143.7 398.1h.01M1153.2 395.0h.01M1158.2 407.1h.01M1143.8 413.9h.01M1169.9 394.2h.01M1168.9 395.0h.01M1168.9 398.2h.01M1155.4 402.8h.01M1198.3 404.9h.01M1198.4 403.3h.01M1235.0 398.2h.01M1224.7 409.3h.01M1218.6 407.5h.01M1216.4 402.3h.01M1210.9 400.0h.01M1236.2 411.8h.01M1235.3 407.9h.01M1233.0 403.4h.01M1230.4 393.8h.01M1235.2 409.6h.01M498.7 519.6h.01M499.8 517.8h.01M499.6 514.2h.01M522.6 516.8h.01M505.8 516.8h.01M523.9 517.0h.01M501.5 516.2h.01M474.7 516.9h.01M491.6 517.8h.01M498.2 517.4h.01M476.0 519.1h.01M487.1 516.7h.01M511.8 516.8h.01M476.8 516.9h.01M499.3 517.0h.01M483.0 517.9h.01M511.1 511.5h.01M495.6 514.2h.01M478.9 522.4h.01M490.9 515.5h.01M499.8 519.5h.01M544.8 516.2h.01M533.4 513.8h.01M477.5 532.8h.01M496.8 534.5h.01M502.1 534.7h.01M508.8 533.2h.01M505.2 533.8h.01M497.5 534.6h.01M529.8 531.0h.01M501.8 558.5h.01M497.5 557.7h.01M486.4 558.4h.01M489.6 552.2h.01M500.5 549.8h.01M506.9 560.6h.01M508.7 555.4h.01M530.1 561.2h.01M501.6 556.9h.01M519.1 561.2h.01M534.4 559.1h.01M521.6 550.2h.01M508.0 573.3h.01M504.4 572.1h.01M523.9 572.2h.01M538.4 570.4h.01M492.6 579.5h.01M476.5 580.0h.01M504.2 579.6h.01M502.0 580.2h.01M478.4 579.5h.01M476.0 581.7h.01M493.2 580.6h.01M496.0 580.8h.01M502.0 578.5h.01M516.2 579.0h.01M704.8 446.6h.01M690.5 448.6h.01M689.0 446.3h.01M689.1 441.9h.01M685.1 448.3h.01M689.9 443.1h.01M689.5 444.9h.01M703.7 450.0h.01M712.8 442.6h.01M688.6 445.4h.01M858.9 434.5h.01M884.4 459.8h.01M670.0 465.4h.01M665.4 470.2h.01M690.5 454.6h.01M686.8 453.3h.01M678.7 454.0h.01M719.3 458.5h.01M718.4 457.9h.01M736.8 459.5h.01M693.8 510.8h.01M684.5 512.4h.01M689.3 511.5h.01M687.8 507.7h.01M685.7 513.0h.01M672.1 568.9h.01M731.8 570.2h.01M675.4 569.2h.01M725.6 567.0h.01M676.5 565.1h.01M713.8 568.0h.01M707.7 568.2h.01M724.3 570.0h.01M725.5 571.5h.01M670.0 570.3h.01M711.6 571.4h.01M689.1 566.2h.01M686.8 569.6h.01M719.5 571.7h.01M699.1 568.6h.01M671.8 572.2h.01M658.0 565.5h.01M665.3 570.2h.01M643.5 576.0h.01M645.2 578.5h.01M705.8 619.5h.01M694.0 624.1h.01M690.8 616.8h.01M692.5 621.4h.01M1099.4 426.2h.01M1016.3 428.4h.01M1098.1 433.2h.01M1093.2 435.9h.01M1073.8 431.2h.01M1076.8 432.2h.01M1037.4 425.9h.01M992.1 432.7h.01M1119.2 426.0h.01M1019.2 422.8h.01M995.6 430.2h.01M1002.2 428.2h.01M1070.5 420.2h.01M999.3 429.9h.01M1110.2 424.6h.01M1027.9 430.3h.01M1093.3 428.9h.01M1036.8 430.6h.01M1081.8 421.8h.01M1095.4 432.4h.01M1008.3 427.3h.01M1003.3 426.7h.01M1024.6 428.3h.01M1047.1 434.9h.01M1119.1 423.2h.01M1023.5 435.0h.01M1079.1 430.9h.01M1049.8 430.2h.01M1040.1 424.9h.01M1076.0 429.6h.01M1117.5 431.1h.01M1048.5 428.3h.01M1088.9 434.1h.01M1086.5 433.0h.01M1059.3 427.1h.01M1003.7 429.4h.01M1037.7 429.9h.01M992.2 429.6h.01M1119.9 427.3h.01M1069.0 434.2h.01M1010.2 430.2h.01M1077.9 431.2h.01M1023.4 429.8h.01M1012.9 421.5h.01M1071.3 437.0h.01M1035.8 428.5h.01M1102.2 433.8h.01M1003.3 432.3h.01M1120.2 423.3h.01M1198.9 432.4h.01M1232.5 432.5h.01M1220.5 434.4h.01M1190.2 433.5h.01M1222.6 432.5h.01M1166.2 432.2h.01M1143.6 434.2h.01M1202.4 431.5h.01M1185.7 432.8h.01M1149.8 431.3h.01M1203.1 435.2h.01M1199.8 441.2h.01M1137.2 435.3h.01M1210.8 432.4h.01M1212.4 433.8h.01M1203.3 436.6h.01M986.7 430.1h.01M985.8 432.7h.01M964.3 435.0h.01M959.2 425.7h.01M952.5 429.5h.01M961.9 429.6h.01M955.2 429.2h.01M986.0 439.6h.01M957.0 434.4h.01M976.8 427.5h.01M956.5 428.2h.01M965.6 429.4h.01M965.0 459.5h.01M934.8 457.5h.01M960.2 458.5h.01M978.4 457.8h.01M953.6 459.5h.01M978.8 457.7h.01M954.4 461.4h.01M1111.6 451.1h.01M990.5 465.4h.01M1047.5 454.6h.01M1093.5 457.0h.01M1044.4 463.5h.01M1093.6 446.8h.01M1107.5 457.7h.01M1060.1 455.9h.01M1018.4 455.9h.01M1106.8 464.3h.01M1056.8 454.8h.01M1005.4 454.5h.01M1093.7 454.6h.01M1076.8 459.6h.01M1043.7 460.8h.01M1075.8 450.4h.01M1027.6 449.5h.01M1071.7 463.9h.01M1040.9 459.6h.01M1050.4 456.7h.01M1108.0 456.3h.01M996.2 455.7h.01M1029.2 450.5h.01M1081.7 445.4h.01M1074.6 453.0h.01M1081.0 454.3h.01M1095.9 446.9h.01M1061.2 451.7h.01M1080.0 451.8h.01M1090.2 460.2h.01M1059.1 455.7h.01M1078.2 448.4h.01M1066.4 453.2h.01M1089.2 450.2h.01M1078.3 454.1h.01M1064.2 455.0h.01M1055.8 449.0h.01M1061.2 452.3h.01M1083.1 631.2h.01M1068.1 628.9h.01M944.5 675.3h.01M960.7 669.6h.01M928.6 675.7h.01M939.1 672.7h.01M904.2 674.7h.01M903.5 676.2h.01M953.4 671.6h.01M913.6 672.8h.01M928.1 674.7h.01M928.9 676.6h.01M920.8 673.9h.01M894.9 677.6h.01M960.9 674.6h.01M912.8 672.7h.01M898.6 675.2h.01M922.4 676.4h.01M890.2 675.2h.01M1043.3 678.1h.01M1036.7 675.0h.01M1057.1 675.5h.01M1060.4 673.7h.01M1114.1 671.3h.01M1110.9 670.0h.01M1096.4 672.9h.01M1085.2 674.2h.01M1117.5 712.9h.01M1083.4 715.8h.01M1118.3 713.0h.01M1116.9 711.8h.01M1076.0 712.8h.01M1101.4 712.1h.01M1115.7 699.2h.01M1117.3 703.6h.01M1102.3 699.0h.01M1152.6 696.8h.01M1132.4 696.4h.01M1132.5 697.1h.01M1213.8 698.8h.01M1172.4 697.7h.01M1174.7 697.5h.01M1179.8 700.8h.01M1209.9 703.7h.01M1197.0 698.0h.01M1202.5 698.9h.01M1209.8 701.8h.01M1202.1 706.8h.01M1173.0 710.8h.01M1067.3 752.5h.01M1066.7 753.4h.01" stroke="#1f958b" stroke-width="6.0"/>
<path d="M604.5 159.4h.01M609.7 158.3h.01M625.0 156.5h.01M626.2 159.6h.01M639.0 159.3h.01M627.1 155.8h.01M613.2 169.3h.01M592.0 169.5h.01M608.3 170.1h.01M590.9 169.7h.01M607.7 171.1h.01M616.4 322.2h.01M633.6 328.0h.01M627.1 323.5h.01M611.4 329.0h.01M610.3 331.8h.01M635.6 329.9h.01M642.5 320.8h.01M627.7 331.1h.01M626.8 324.1h.01M626.4 331.5h.01M626.1 324.9h.01M621.4 333.5h.01M646.4 325.3h.01M617.2 322.9h.01M620.9 320.3h.01M606.0 323.8h.01M632.2 321.5h.01M619.9 334.7h.01M635.6 328.7h.01M628.6 318.2h.01M612.9 322.4h.01M603.8 331.8h.01M602.7 326.8h.01M611.5 330.7h.01M616.7 327.9h.01M831.3 166.7h.01M846.5 164.9h.01M837.3 169.4h.01M867.3 168.1h.01M859.6 161.4h.01M871.6 167.7h.01M869.4 162.1h.01M870.4 170.5h.01M851.7 168.2h.01M864.8 162.7h.01M864.9 166.6h.01M876.0 170.0h.01M964.3 175.4h.01M942.5 176.7h.01M856.9 178.6h.01M842.6 162.1h.01M871.2 184.0h.01M966.5 169.7h.01M982.5 172.7h.01M986.3 172.9h.01M971.1 163.0h.01M958.5 164.2h.01M977.7 166.9h.01M943.2 163.9h.01M966.4 163.7h.01M947.9 178.9h.01M961.5 177.1h.01M948.0 177.4h.01M961.6 178.7h.01M919.4 160.9h.01M688.4 204.1h.01M702.6 202.8h.01M832.2 220.9h.01M907.2 225.0h.01M938.8 221.4h.01M924.0 222.2h.01M905.6 224.1h.01M899.0 241.7h.01M928.0 230.2h.01M923.2 244.6h.01M950.0 217.6h.01M982.4 219.4h.01M968.1 217.0h.01M974.2 210.6h.01M979.9 268.0h.01M907.1 267.4h.01M930.4 270.5h.01M865.0 266.9h.01M901.6 268.3h.01M928.1 270.5h.01M967.8 269.2h.01M849.5 267.3h.01M916.1 266.9h.01M931.8 271.6h.01M928.8 267.7h.01M954.4 267.7h.01M843.2 268.8h.01M868.1 296.6h.01M902.1 297.8h.01M831.7 298.7h.01M825.7 298.3h.01M873.4 298.2h.01M896.4 297.7h.01M880.5 298.1h.01M854.6 296.5h.01M659.2 325.7h.01M672.0 332.8h.01M656.6 327.6h.01M659.5 328.3h.01M646.1 329.0h.01M685.5 321.1h.01M670.6 321.3h.01M664.5 319.0h.01M669.3 330.9h.01M672.7 329.6h.01M654.1 325.4h.01M658.0 323.1h.01M649.9 332.4h.01M644.0 334.2h.01M654.8 324.4h.01M650.9 324.0h.01M649.1 328.8h.01M657.0 323.8h.01M660.6 330.6h.01M648.6 322.6h.01M657.8 333.8h.01M674.4 330.6h.01M699.2 330.5h.01M732.4 314.7h.01M855.4 310.4h.01M830.0 312.5h.01M827.5 311.8h.01M860.9 313.7h.01M832.7 313.6h.01M865.9 313.8h.01M849.0 312.4h.01M922.1 312.8h.01M911.8 314.2h.01M860.4 312.5h.01M884.8 312.5h.01M976.5 316.8h.01M939.8 314.1h.01M951.4 317.7h.01M968.8 312.6h.01M954.4 312.9h.01M960.4 312.9h.01M955.0 316.4h.01M834.4 329.8h.01M687.4 328.9h.01M734.1 323.1h.01M758.7 323.2h.01M928.8 329.3h.01M831.3 327.6h.01M768.3 322.8h.01M935.6 326.8h.01M986.0 320.5h.01M759.1 329.1h.01M973.2 326.2h.01M860.8 324.4h.01M966.0 328.1h.01M682.8 323.8h.01M860.8 326.2h.01M987.0 328.9h.01M747.6 321.6h.01M704.6 326.7h.01M692.0 322.1h.01M875.4 326.4h.01M817.6 328.3h.01M821.2 323.4h.01M805.1 327.5h.01M696.0 330.0h.01M830.6 326.9h.01M711.9 329.0h.01M972.1 327.0h.01M730.7 323.5h.01M719.0 326.2h.01M839.6 330.5h.01M961.3 328.7h.01M883.2 320.1h.01M824.9 327.0h.01M898.3 320.6h.01M844.3 323.7h.01M935.9 319.1h.01M756.4 323.9h.01M917.2 331.1h.01M800.1 321.7h.01M707.8 324.0h.01M889.3 328.2h.01M753.0 327.0h.01M944.6 326.9h.01M869.8 322.0h.01M845.8 322.6h.01M953.3 335.9h.01M907.9 325.9h.01M923.7 333.9h.01M847.6 326.5h.01M779.4 324.1h.01M930.0 326.5h.01M968.6 330.2h.01M715.3 328.3h.01M815.8 336.6h.01M883.2 336.1h.01M835.1 334.3h.01M832.9 335.0h.01M791.3 335.4h.01M809.4 338.2h.01M875.0 336.3h.01M816.3 336.1h.01M928.8 335.0h.01M859.9 338.3h.01M922.1 337.5h.01M865.4 334.3h.01M844.3 336.6h.01M809.1 334.8h.01M869.8 333.7h.01M812.1 335.4h.01M863.2 341.4h.01M888.6 339.0h.01M858.8 338.7h.01M902.6 339.7h.01M901.5 338.4h.01M876.5 338.6h.01M887.3 339.4h.01M698.5 333.9h.01M713.5 332.9h.01M715.1 335.4h.01M752.8 332.3h.01M693.3 332.6h.01M693.9 332.4h.01M739.2 331.4h.01M1050.1 218.7h.01M1065.4 218.9h.01M1036.3 221.2h.01M990.1 218.6h.01M996.4 220.5h.01M1056.0 223.2h.01M1059.2 221.8h.01M1024.6 219.3h.01M1038.9 222.5h.01M1053.3 318.4h.01M1067.7 321.4h.01M1040.2 316.5h.01M1125.3 320.6h.01M1066.7 357.0h.01M1047.8 358.3h.01M1093.7 354.1h.01M1062.2 357.2h.01M1112.9 352.8h.01M1115.0 355.0h.01M1109.7 353.0h.01M1182.9 353.1h.01M1181.7 353.9h.01M1231.5 356.9h.01M1228.6 354.5h.01M1228.9 353.8h.01M1226.6 351.1h.01M1197.9 373.8h.01M1217.9 371.6h.01M1220.2 364.9h.01M1202.6 366.5h.01M1207.1 363.9h.01M1211.3 373.7h.01M1231.5 367.4h.01M1232.7 366.4h.01M1224.6 370.1h.01M1223.3 374.5h.01M1206.2 373.8h.01M1214.7 370.0h.01M1180.0 376.9h.01M1086.2 371.1h.01M1175.5 358.3h.01M1092.2 382.8h.01M1035.6 381.3h.01M1016.4 374.0h.01M1119.1 387.5h.01M1164.2 383.7h.01M1061.7 369.7h.01M1148.7 356.7h.01M1185.3 380.5h.01M1127.2 359.7h.01M1170.8 375.8h.01M1122.5 370.5h.01M1069.7 414.2h.01M1062.3 408.5h.01M1101.8 408.4h.01M1080.3 410.8h.01M1072.5 408.9h.01M1098.2 407.1h.01M1039.6 403.2h.01M1018.1 402.7h.01M1085.8 410.0h.01M1073.5 411.8h.01M1073.7 398.3h.01M1074.4 395.3h.01M1074.3 396.8h.01M1196.6 410.6h.01M1155.8 395.3h.01M1148.7 406.9h.01M1137.9 397.1h.01M1163.9 403.8h.01M1216.4 405.4h.01M1236.9 389.8h.01M1222.6 404.4h.01M1216.0 408.1h.01M1237.3 406.8h.01M512.4 516.9h.01M520.7 516.4h.01M473.1 515.9h.01M509.5 516.9h.01M492.0 516.7h.01M476.8 516.2h.01M480.0 515.7h.01M516.8 515.5h.01M503.8 515.9h.01M505.4 513.6h.01M484.1 516.3h.01M491.5 518.1h.01M496.1 516.9h.01M486.0 517.8h.01M496.6 515.9h.01M499.6 518.9h.01M505.2 517.1h.01M506.5 515.0h.01M497.7 514.4h.01M486.9 514.7h.01M504.2 516.7h.01M527.7 513.6h.01M531.0 518.2h.01M539.7 516.7h.01M536.8 516.0h.01M536.5 513.3h.01M488.8 533.7h.01M504.1 532.5h.01M490.2 532.7h.01M491.1 556.0h.01M515.7 556.5h.01M525.2 555.0h.01M496.6 559.6h.01M516.9 560.1h.01M492.0 557.0h.01M512.7 554.6h.01M485.0 556.9h.01M535.1 557.3h.01M532.7 558.3h.01M507.6 563.1h.01M534.0 556.6h.01M503.6 556.3h.01M511.8 556.3h.01M529.7 555.9h.01M509.2 571.0h.01M511.1 572.1h.01M501.3 569.7h.01M498.2 570.4h.01M499.2 570.2h.01M519.7 572.5h.01M527.8 571.0h.01M503.1 580.4h.01M540.6 580.8h.01M525.3 580.0h.01M522.6 579.6h.01M679.0 443.7h.01M672.3 446.8h.01M687.7 446.6h.01M854.2 434.4h.01M689.7 454.3h.01M744.8 460.1h.01M750.8 459.1h.01M702.7 518.1h.01M703.7 516.8h.01M713.6 571.6h.01M720.3 572.2h.01M683.0 571.3h.01M710.9 568.5h.01M681.0 567.4h.01M686.1 566.5h.01M684.0 569.0h.01M662.7 568.8h.01M654.3 567.3h.01M545.3 578.4h.01M552.9 578.6h.01M562.6 576.8h.01M643.1 578.4h.01M635.6 577.1h.01M611.2 583.2h.01M629.9 577.8h.01M696.0 617.0h.01M700.9 619.9h.01M837.2 673.9h.01M842.7 673.6h.01M1057.1 425.5h.01M1044.4 424.0h.01M1082.5 429.2h.01M1045.2 431.4h.01M1036.4 426.4h.01M1079.9 426.9h.01M1033.9 433.3h.01M1026.4 435.2h.01M1100.7 432.3h.01M1026.3 432.8h.01M1117.3 436.6h.01M1090.9 436.3h.01M1077.2 426.5h.01M1083.1 431.3h.01M1055.8 433.8h.01M1086.0 430.7h.01M1002.0 420.5h.01M1081.5 423.1h.01M1096.5 429.1h.01M1115.5 431.4h.01M1032.4 434.1h.01M995.7 429.9h.01M1011.9 434.8h.01M1012.7 432.4h.01M1103.9 430.2h.01M1062.0 426.0h.01M1121.1 430.5h.01M1075.8 435.4h.01M1053.7 426.8h.01M1187.7 431.2h.01M1161.7 433.0h.01M1201.8 435.5h.01M1186.4 437.4h.01M1128.2 434.5h.01M1197.0 434.1h.01M1202.9 436.3h.01M1210.0 436.8h.01M983.9 429.3h.01M904.4 431.1h.01M981.4 424.4h.01M920.7 429.8h.01M961.1 433.9h.01M924.9 434.6h.01M961.0 428.2h.01M980.9 461.8h.01M941.1 454.9h.01M942.8 458.5h.01M956.7 453.7h.01M964.0 459.5h.01M952.4 456.3h.01M951.5 457.5h.01M971.6 457.1h.01M1087.4 459.9h.01M999.2 450.8h.01M1038.6 451.0h.01M989.8 458.6h.01M1100.0 458.8h.01M1093.4 460.0h.01M1018.2 455.4h.01M1050.0 458.2h.01M1089.0 448.4h.01M990.2 447.7h.01M1071.2 444.8h.01M1079.8 451.9h.01M1096.7 453.9h.01M1060.3 450.2h.01M1084.9 444.0h.01M1052.5 449.9h.01M934.3 677.8h.01M951.3 676.7h.01M950.7 675.2h.01M955.5 674.6h.01M929.2 673.2h.01M955.4 672.5h.01M910.8 670.8h.01M1046.0 675.6h.01M1052.2 678.7h.01M1036.5 677.7h.01M1089.9 670.8h.01" stroke="#1f958b" stroke-width="5.5"/>
<path d="M631.7 161.2h.01M626.6 158.5h.01M630.3 159.1h.01M595.1 170.3h.01M624.0 171.8h.01M597.8 170.0h.01M613.7 170.0h.01M611.2 170.5h.01M494.9 516.3h.01M471.3 517.8h.01M495.8 514.3h.01M532.9 515.1h.01M504.3 535.1h.01M504.3 569.6h.01M544.8 566.9h.01M527.6 581.8h.01" stroke="#1f958b" stroke-width="5.0"/>
<path d="M626.5 159.3h.01M629.9 162.6h.01M626.4 156.7h.01M591.6 171.4h.01" stroke="#1f958b" stroke-width="4.5"/>
<path d="M809.3 462.5h.01M803.0 463.1h.01M800.6 460.3h.01M809.6 464.0h.01" stroke="#2e6d8e" stroke-width="8.5"/>
<path d="M886.2 154.1h.01M937.5 267.8h.01M950.4 323.5h.01M946.3 320.5h.01M1223.7 196.5h.01M1136.6 202.8h.01M1235.8 206.6h.01M802.9 459.8h.01M807.0 460.5h.01M919.7 559.8h.01M929.0 557.4h.01M973.5 556.3h.01M934.4 557.6h.01M954.1 602.0h.01M721.1 734.1h.01M648.3 809.0h.01M647.4 809.8h.01M629.2 814.8h.01M623.8 815.5h.01" stroke="#2e6d8e" stroke-width="8.0"/>
<path d="M894.2 157.8h.01M899.6 159.8h.01M899.8 159.0h.01M969.8 186.7h.01M972.3 187.0h.01M955.9 190.5h.01M972.0 188.6h.01M962.1 187.0h.01M916.0 192.8h.01M913.6 191.3h.01M924.3 191.2h.01M933.9 191.7h.01M915.5 193.0h.01M773.9 196.1h.01M781.1 194.1h.01M783.2 196.8h.01M933.6 267.6h.01M806.1 272.2h.01M648.1 287.2h.01M678.7 286.8h.01M842.2 321.2h.01M701.8 325.9h.01M955.0 317.0h.01M939.2 323.4h.01M941.6 323.4h.01M952.5 320.8h.01M925.0 324.0h.01M937.0 322.6h.01M941.4 321.3h.01M936.9 324.9h.01M949.2 323.0h.01M932.5 323.5h.01M957.3 322.3h.01M943.8 317.7h.01M952.2 319.4h.01M937.7 324.3h.01M964.3 321.5h.01M959.5 322.2h.01M933.7 325.5h.01M960.0 322.2h.01M944.7 326.4h.01M981.4 320.3h.01M989.5 321.2h.01M963.9 362.6h.01M1194.5 195.2h.01M1214.2 188.1h.01M1202.9 202.1h.01M1219.8 198.7h.01M1195.4 191.3h.01M1193.9 194.7h.01M1189.5 191.1h.01M1194.5 191.0h.01M1191.5 195.1h.01M1196.7 196.3h.01M1167.3 194.5h.01M1185.0 199.9h.01M1225.5 191.2h.01M1117.8 204.7h.01M1118.3 203.5h.01M1133.3 204.5h.01M1225.4 202.1h.01M1077.2 319.3h.01M1035.3 321.5h.01M1008.8 313.7h.01M564.3 586.3h.01M579.4 593.8h.01M669.1 579.3h.01M668.9 580.3h.01M685.6 580.8h.01M687.6 581.7h.01M683.0 579.9h.01M735.7 585.3h.01M710.2 579.3h.01M717.9 588.7h.01M796.1 584.5h.01M833.4 581.1h.01M868.5 578.7h.01M888.8 574.6h.01M885.3 574.7h.01M884.9 572.5h.01M922.6 556.8h.01M917.0 559.7h.01M955.4 554.2h.01M909.8 558.3h.01M938.5 553.7h.01M963.2 557.9h.01M927.3 556.0h.01M966.0 553.7h.01M953.5 559.4h.01M985.4 554.4h.01M957.0 553.4h.01M921.5 558.7h.01M955.6 556.7h.01M930.3 556.2h.01M958.8 561.8h.01M969.0 549.2h.01M946.6 555.5h.01M954.1 555.7h.01M944.2 555.9h.01M971.0 553.6h.01M1198.6 568.4h.01M1201.3 569.2h.01M1230.8 556.3h.01M984.4 584.1h.01M919.3 582.7h.01M981.2 582.5h.01M1006.4 582.6h.01M942.5 583.4h.01M1016.2 580.8h.01M976.0 580.9h.01M914.2 579.9h.01M1059.3 582.3h.01M1048.3 582.6h.01M1080.6 582.5h.01M1097.2 579.3h.01M1105.2 582.9h.01M1093.0 583.2h.01M1114.8 582.4h.01M1116.0 579.0h.01M1149.8 581.6h.01M1132.3 582.3h.01M1204.9 581.3h.01M1196.7 579.7h.01M1207.9 583.8h.01M1218.9 583.1h.01M1160.8 584.4h.01M958.9 599.4h.01M970.6 598.3h.01M968.0 598.6h.01M966.2 599.3h.01M968.6 603.0h.01M960.9 598.2h.01M958.2 601.0h.01M964.3 603.3h.01M963.6 604.2h.01M726.8 726.9h.01M708.1 733.0h.01M715.7 731.9h.01M691.3 731.6h.01M739.6 730.0h.01M711.8 730.9h.01M750.1 727.0h.01M732.0 719.1h.01M734.5 718.4h.01M701.1 783.3h.01M691.5 781.0h.01M694.1 779.6h.01M701.0 782.6h.01M687.5 781.2h.01M733.5 776.4h.01M736.6 776.9h.01M735.9 775.7h.01M632.0 815.3h.01M620.2 817.6h.01M627.8 817.2h.01M907.0 846.3h.01M909.7 847.3h.01M912.4 845.8h.01M910.8 847.9h.01M939.9 846.7h.01" stroke="#2e6d8e" stroke-width="7.5"/>
<path d="M765.5 159.4h.01M882.4 154.8h.01M883.8 156.5h.01M887.2 159.1h.01M902.9 156.1h.01M976.0 186.5h.01M961.0 189.4h.01M949.8 189.7h.01M955.9 187.6h.01M966.2 187.9h.01M936.3 193.7h.01M929.8 194.5h.01M930.5 266.8h.01M967.1 270.5h.01M985.8 271.6h.01M824.8 266.8h.01M827.9 271.6h.01M688.6 274.1h.01M721.9 272.2h.01M706.2 323.8h.01M727.3 322.6h.01M780.6 326.2h.01M784.7 321.0h.01M787.1 319.5h.01M794.9 324.5h.01M864.3 325.9h.01M803.4 328.1h.01M815.3 334.5h.01M893.2 331.0h.01M912.4 335.7h.01M862.8 329.7h.01M771.3 323.6h.01M791.2 322.7h.01M765.8 320.4h.01M925.6 324.3h.01M973.6 321.8h.01M931.1 322.6h.01M952.8 322.9h.01M947.5 318.6h.01M958.3 321.9h.01M949.1 320.0h.01M956.7 321.9h.01M957.7 320.0h.01M930.0 324.8h.01M939.0 324.7h.01M951.4 324.3h.01M950.3 324.7h.01M926.0 318.9h.01M964.3 325.5h.01M966.8 321.0h.01M950.8 326.1h.01M943.9 328.6h.01M945.9 323.0h.01M970.5 324.3h.01M944.6 324.4h.01M1008.2 325.8h.01M954.4 319.7h.01M935.8 322.1h.01M926.5 318.5h.01M988.7 321.7h.01M982.8 320.6h.01M985.7 322.3h.01M741.6 364.1h.01M961.0 362.3h.01M759.6 408.6h.01M748.7 406.3h.01M1206.7 190.8h.01M1196.1 186.6h.01M1199.0 193.5h.01M1188.5 193.0h.01M1208.2 190.3h.01M1227.4 197.2h.01M1215.3 193.4h.01M1203.0 198.8h.01M1172.2 188.2h.01M1204.8 195.3h.01M1022.2 187.8h.01M1028.4 187.0h.01M1034.1 188.0h.01M1056.1 189.9h.01M1057.5 193.6h.01M1152.1 188.4h.01M1095.6 204.1h.01M1134.2 199.7h.01M1140.8 205.5h.01M1135.4 203.0h.01M1235.5 206.6h.01M995.2 207.8h.01M1031.6 206.1h.01M995.2 272.6h.01M1003.5 273.0h.01M994.2 286.5h.01M1072.2 321.1h.01M1059.6 319.9h.01M997.8 323.7h.01M1024.1 319.3h.01M1053.6 317.4h.01M1062.8 316.8h.01M1032.6 326.0h.01M1142.7 318.4h.01M1142.2 318.1h.01M1153.9 317.7h.01M1104.2 317.4h.01M1087.6 317.5h.01M1105.1 321.1h.01M1087.5 316.1h.01M1153.5 317.5h.01M1154.2 314.2h.01M1166.7 320.4h.01M1183.3 323.5h.01M1028.4 363.0h.01M1191.6 363.0h.01M375.2 418.3h.01M378.7 419.1h.01M562.5 586.1h.01M564.1 582.2h.01M558.3 584.4h.01M586.3 596.1h.01M586.1 595.5h.01M670.3 575.0h.01M695.7 581.5h.01M698.0 582.7h.01M681.4 582.9h.01M703.3 586.7h.01M700.8 589.6h.01M716.8 587.9h.01M715.0 596.5h.01M726.5 586.2h.01M732.3 592.5h.01M730.2 587.0h.01M714.5 588.3h.01M732.8 589.2h.01M729.2 593.5h.01M720.6 582.6h.01M750.6 576.8h.01M744.7 578.4h.01M770.6 575.0h.01M801.8 584.2h.01M801.2 586.2h.01M800.5 577.7h.01M821.0 578.5h.01M812.8 586.6h.01M795.1 581.6h.01M818.2 580.8h.01M837.8 580.1h.01M842.8 583.2h.01M841.8 581.3h.01M849.0 576.7h.01M846.5 575.6h.01M842.2 578.8h.01M873.4 577.4h.01M605.6 584.2h.01M600.9 585.7h.01M927.9 553.8h.01M949.9 555.9h.01M933.8 556.8h.01M946.9 559.4h.01M951.8 555.9h.01M1011.9 580.5h.01M949.5 582.0h.01M971.5 581.8h.01M953.5 581.3h.01M930.7 582.9h.01M957.6 582.0h.01M917.2 585.3h.01M994.3 583.1h.01M967.4 583.0h.01M938.9 584.8h.01M1009.9 582.4h.01M997.1 581.8h.01M985.3 581.3h.01M976.2 582.1h.01M958.0 581.8h.01M984.0 581.4h.01M1043.6 581.1h.01M1035.5 582.0h.01M1067.6 580.1h.01M1040.7 580.5h.01M1096.3 581.9h.01M1094.2 581.9h.01M1097.0 581.3h.01M1101.3 579.8h.01M1134.4 582.5h.01M1120.2 581.3h.01M1116.0 582.0h.01M1141.7 581.5h.01M1151.0 583.1h.01M1128.9 585.8h.01M1147.0 584.7h.01M1157.0 579.8h.01M1224.1 578.5h.01M1173.5 579.9h.01M1205.0 582.7h.01M1156.2 582.4h.01M1231.7 580.8h.01M1204.2 584.7h.01M1206.2 582.4h.01M1223.9 582.2h.01M1216.0 582.8h.01M1189.4 581.9h.01M1169.6 583.9h.01M1194.3 583.6h.01M1234.9 581.1h.01M1160.8 581.6h.01M1228.4 580.8h.01M1223.2 584.4h.01M958.8 602.6h.01M966.6 603.6h.01M943.8 598.2h.01M961.2 598.8h.01M966.8 604.7h.01M928.4 603.1h.01M932.6 601.0h.01M935.7 602.0h.01M694.1 730.1h.01M691.4 727.0h.01M702.4 732.2h.01M691.1 730.5h.01M728.9 729.8h.01M749.1 734.9h.01M693.9 731.8h.01M695.6 728.7h.01M737.7 734.8h.01M697.2 731.4h.01M729.2 731.5h.01M704.0 728.3h.01M735.3 727.3h.01M703.3 781.5h.01M688.1 779.6h.01M691.8 779.6h.01M693.7 779.9h.01M649.3 809.1h.01M618.8 816.2h.01M898.3 846.3h.01" stroke="#2e6d8e" stroke-width="7.0"/>
<path d="M623.2 270.5h.01M637.3 272.6h.01M644.0 288.2h.01M895.4 158.8h.01M900.7 158.5h.01M953.4 188.1h.01M957.7 186.7h.01M968.8 191.2h.01M972.2 189.3h.01M972.6 187.4h.01M959.9 187.8h.01M916.7 193.7h.01M940.6 190.9h.01M937.0 191.0h.01M938.7 191.6h.01M924.0 189.7h.01M830.0 207.2h.01M869.5 208.8h.01M881.9 207.8h.01M887.1 207.8h.01M893.4 207.4h.01M946.4 208.6h.01M971.3 207.2h.01M938.3 271.2h.01M934.3 271.1h.01M825.4 330.5h.01M752.8 323.2h.01M885.3 325.3h.01M806.8 317.6h.01M788.1 327.9h.01M811.2 322.9h.01M753.8 324.4h.01M826.9 332.7h.01M743.6 328.9h.01M935.1 322.1h.01M955.3 325.9h.01M979.2 320.0h.01M962.1 329.7h.01M938.0 324.4h.01M952.3 326.7h.01M947.5 322.8h.01M959.5 323.2h.01M938.9 319.8h.01M940.6 322.0h.01M956.9 315.8h.01M956.5 320.8h.01M988.6 322.0h.01M985.4 324.3h.01M981.2 320.4h.01M967.8 363.5h.01M984.2 361.0h.01M759.4 407.3h.01M1182.1 195.0h.01M1212.4 190.4h.01M1176.8 191.8h.01M1207.5 199.2h.01M1164.4 197.1h.01M1169.5 202.8h.01M1193.7 195.5h.01M1215.9 186.8h.01M1168.4 191.8h.01M1210.8 192.4h.01M1178.9 194.5h.01M1197.9 190.3h.01M1192.3 194.2h.01M1212.7 190.8h.01M1196.6 196.2h.01M1219.5 195.8h.01M1222.9 189.9h.01M1203.9 201.6h.01M1205.8 190.3h.01M1105.7 204.3h.01M1092.1 203.6h.01M1104.3 206.9h.01M1136.4 204.0h.01M1127.7 200.6h.01M1138.4 205.2h.01M1132.4 201.5h.01M1231.8 209.4h.01M1225.0 211.4h.01M1223.0 210.0h.01M1069.0 319.4h.01M1016.8 323.5h.01M1057.8 321.4h.01M1030.8 322.1h.01M1072.7 321.3h.01M1021.3 319.8h.01M1019.5 321.3h.01M1042.2 316.0h.01M1077.0 316.8h.01M1036.9 319.8h.01M1033.2 319.3h.01M992.6 325.7h.01M1097.2 321.9h.01M1148.5 318.2h.01M1132.6 320.9h.01M373.4 418.9h.01M378.6 418.3h.01M372.2 417.9h.01M373.6 417.9h.01M536.7 592.7h.01M813.1 458.6h.01M688.8 544.9h.01M694.2 545.5h.01M633.3 564.6h.01M636.4 565.7h.01M640.2 564.2h.01M738.3 555.3h.01M876.5 555.3h.01M881.7 558.4h.01M887.9 560.5h.01M671.4 580.8h.01M694.4 579.3h.01M697.3 581.5h.01M687.5 578.2h.01M705.6 578.7h.01M706.1 579.1h.01M687.5 584.2h.01M695.2 575.7h.01M719.0 588.2h.01M722.5 587.2h.01M721.1 587.7h.01M724.3 585.8h.01M717.7 584.8h.01M748.6 581.8h.01M762.9 582.1h.01M768.4 579.2h.01M768.7 583.3h.01M795.3 580.4h.01M806.7 579.9h.01M796.5 574.5h.01M797.1 575.6h.01M848.7 580.5h.01M856.5 580.2h.01M844.1 577.3h.01M833.3 574.8h.01M847.4 584.0h.01M846.0 578.6h.01M836.0 575.9h.01M863.8 577.6h.01M886.8 574.6h.01M609.6 586.6h.01M605.1 581.8h.01M615.0 578.9h.01M615.5 580.0h.01M628.7 585.9h.01M620.6 582.6h.01M625.8 583.0h.01M645.8 582.9h.01M648.5 584.4h.01M613.6 595.8h.01M963.0 559.0h.01M934.5 552.7h.01M920.1 555.1h.01M946.1 551.3h.01M952.5 556.7h.01M974.7 557.7h.01M911.3 557.6h.01M931.0 561.2h.01M954.7 553.9h.01M1186.2 539.7h.01M1035.5 556.3h.01M933.6 582.3h.01M929.4 578.9h.01M992.4 586.7h.01M919.4 581.1h.01M1022.4 582.6h.01M940.4 584.8h.01M945.0 582.7h.01M1013.9 583.3h.01M959.0 584.7h.01M982.9 581.9h.01M957.8 581.8h.01M991.2 580.6h.01M990.0 582.7h.01M970.0 581.5h.01M1000.1 581.8h.01M948.1 582.5h.01M912.5 579.2h.01M929.5 582.0h.01M1036.5 580.1h.01M1062.5 583.9h.01M1054.1 582.2h.01M1067.4 581.1h.01M1040.3 579.6h.01M1038.2 584.2h.01M1091.5 582.2h.01M1100.8 582.1h.01M1081.7 580.1h.01M1139.3 583.9h.01M1146.5 584.0h.01M1139.0 581.6h.01M1137.6 579.3h.01M1189.8 581.9h.01M1178.5 581.0h.01M1174.9 581.0h.01M1178.6 583.6h.01M1182.3 584.7h.01M1231.8 581.1h.01M1196.1 575.8h.01M1185.0 580.6h.01M1196.9 580.2h.01M1198.2 585.4h.01M1182.0 582.7h.01M1227.0 584.8h.01M1163.9 582.4h.01M1225.8 580.6h.01M1207.9 585.7h.01M891.0 580.2h.01M896.2 583.3h.01M901.4 581.3h.01M905.6 584.4h.01M890.0 573.0h.01M894.2 575.0h.01M904.5 574.0h.01M1028.2 582.3h.01M1072.9 580.8h.01M958.5 602.8h.01M960.2 599.2h.01M713.4 731.1h.01M717.5 729.3h.01M696.3 732.9h.01M711.2 732.2h.01M717.3 731.8h.01M708.7 729.7h.01M750.2 730.3h.01M741.2 731.3h.01M746.4 729.3h.01M710.0 729.1h.01M707.9 781.6h.01M693.5 782.8h.01M742.1 776.4h.01M649.3 808.0h.01M653.5 809.6h.01M632.1 814.7h.01M284.3 992.0h.01M378.7 994.2h.01M377.1 992.6h.01M392.3 994.9h.01M405.9 995.1h.01M398.1 993.1h.01M391.8 995.4h.01M404.2 994.8h.01M425.4 993.6h.01M535.2 1003.5h.01M544.6 1003.1h.01M538.8 998.3h.01M589.8 1002.3h.01M555.6 999.6h.01M569.3 1001.9h.01M599.6 1007.5h.01M570.8 1003.2h.01M583.3 999.0h.01M596.6 995.4h.01M644.5 1003.5h.01M639.8 1000.1h.01M668.3 1004.5h.01M720.4 986.6h.01M722.7 986.3h.01M730.8 986.6h.01M715.6 987.8h.01M725.6 995.7h.01M756.1 993.6h.01M753.3 996.7h.01M752.8 994.3h.01M740.9 995.8h.01M777.3 1006.7h.01M757.9 1008.1h.01M763.7 1006.5h.01M759.2 1004.9h.01" stroke="#2e6d8e" stroke-width="6.5"/>
<path d="M893.4 156.4h.01M897.5 157.2h.01M956.8 188.1h.01M951.0 187.6h.01M933.8 190.9h.01M912.3 193.4h.01M923.4 190.4h.01M911.7 192.8h.01M935.4 268.5h.01M933.8 267.4h.01M938.7 272.2h.01M914.8 326.0h.01M874.6 328.3h.01M832.5 323.7h.01M801.6 326.4h.01M842.5 332.7h.01M826.2 333.2h.01M694.9 327.1h.01M887.0 327.0h.01M910.1 322.1h.01M789.9 330.2h.01M956.9 322.2h.01M954.7 330.5h.01M956.2 324.1h.01M944.5 320.2h.01M946.0 322.6h.01M958.3 321.8h.01M951.1 321.3h.01M953.9 321.5h.01M973.7 315.4h.01M949.9 323.3h.01M967.4 322.7h.01M980.4 320.8h.01M958.5 361.1h.01M967.5 362.3h.01M980.6 362.8h.01M972.8 363.0h.01M968.1 361.8h.01M761.2 408.3h.01M760.5 409.5h.01M1232.7 194.8h.01M1199.7 196.5h.01M1167.7 198.0h.01M1198.8 195.3h.01M1178.3 190.1h.01M1201.1 197.6h.01M1221.3 195.6h.01M1213.4 190.3h.01M1163.2 199.5h.01M1229.8 190.7h.01M1190.2 195.2h.01M1229.6 193.2h.01M1092.4 202.2h.01M1095.6 203.5h.01M1097.8 200.7h.01M1230.1 210.0h.01M1009.4 323.9h.01M1036.9 322.4h.01M999.8 319.9h.01M993.8 320.4h.01M1056.5 321.6h.01M1052.9 323.6h.01M996.6 322.0h.01M1022.4 317.1h.01M1132.2 318.7h.01M1109.0 316.1h.01M1144.3 320.8h.01M1103.6 315.5h.01M1101.0 316.5h.01M354.2 418.1h.01M357.5 417.1h.01M360.0 417.9h.01M424.0 417.1h.01M428.6 417.5h.01M433.8 417.1h.01M379.0 417.8h.01M558.4 587.2h.01M577.4 593.7h.01M663.7 578.4h.01M700.6 581.6h.01M684.7 582.3h.01M690.7 576.3h.01M699.4 580.8h.01M689.2 588.1h.01M691.5 576.9h.01M718.2 590.7h.01M714.2 593.5h.01M722.2 584.3h.01M718.6 590.6h.01M730.6 583.4h.01M721.9 585.5h.01M711.3 595.4h.01M735.3 591.3h.01M735.3 588.4h.01M740.5 578.0h.01M745.6 580.0h.01M769.5 576.0h.01M770.0 573.6h.01M803.5 583.8h.01M821.9 581.0h.01M807.2 577.3h.01M821.0 577.7h.01M822.6 578.9h.01M859.0 583.4h.01M843.5 581.5h.01M844.1 576.7h.01M844.6 579.4h.01M869.5 580.3h.01M863.7 579.2h.01M868.9 579.3h.01M882.9 575.3h.01M1010.9 583.1h.01M983.0 582.0h.01M908.5 582.6h.01M945.3 583.6h.01M943.2 580.2h.01M998.9 583.0h.01M946.0 582.2h.01M925.2 582.4h.01M951.7 583.7h.01M1015.9 581.6h.01M939.1 581.5h.01M971.6 581.7h.01M931.9 585.7h.01M938.1 581.9h.01M957.0 579.0h.01M960.8 581.2h.01M1020.7 579.9h.01M994.6 581.0h.01M934.1 581.6h.01M947.5 581.5h.01M922.1 580.6h.01M1008.6 581.4h.01M942.6 583.5h.01M957.8 583.5h.01M1056.5 583.2h.01M1043.5 580.6h.01M1046.4 581.5h.01M1055.8 583.4h.01M1042.1 583.7h.01M1083.6 582.1h.01M1104.4 585.6h.01M1097.8 582.2h.01M1088.4 582.9h.01M1090.6 584.5h.01M1087.9 582.5h.01M1120.1 583.0h.01M1127.1 580.7h.01M1151.6 583.9h.01M1111.2 585.6h.01M1146.6 580.1h.01M1207.5 581.5h.01M1169.0 580.3h.01M1171.9 583.7h.01M1187.1 581.6h.01M1178.2 580.4h.01M1221.2 580.7h.01M1206.0 580.7h.01M1211.4 581.2h.01M1164.2 580.7h.01M1173.1 580.1h.01M1172.6 586.0h.01M1234.9 582.0h.01M708.4 734.8h.01M709.3 732.6h.01M729.5 732.4h.01M705.7 729.5h.01M726.1 731.4h.01M737.4 732.4h.01M705.0 730.4h.01M241.6 996.5h.01M248.8 993.8h.01M256.1 994.9h.01M269.6 994.9h.01M301.8 992.8h.01M321.6 1004.2h.01M362.1 993.8h.01M399.5 1001.1h.01M440.0 1003.2h.01M475.4 1003.2h.01M488.9 1002.8h.01M498.2 1000.1h.01M523.2 1002.8h.01M281.3 991.1h.01M283.4 997.1h.01M280.7 989.9h.01M287.2 994.7h.01M320.4 996.4h.01M324.7 994.8h.01M336.4 994.8h.01M407.8 993.3h.01M396.7 996.0h.01M398.3 994.4h.01M420.2 996.3h.01M539.4 1000.9h.01M537.3 999.8h.01M538.4 1000.2h.01M537.4 999.9h.01M576.6 1003.9h.01M599.4 1002.0h.01M592.4 1001.3h.01M551.4 1002.3h.01M559.7 997.6h.01M601.2 1000.5h.01M546.6 1000.3h.01M570.9 1002.3h.01M568.2 997.1h.01M596.5 1003.1h.01M557.4 999.0h.01M597.0 1005.0h.01M606.1 1000.2h.01M559.9 997.0h.01M551.4 999.2h.01M588.6 1003.8h.01M556.8 998.2h.01M580.3 1007.2h.01M566.9 1001.5h.01M629.7 1002.7h.01M625.8 1001.9h.01M649.4 1004.3h.01M670.9 1005.6h.01M672.1 1006.2h.01M672.7 1002.6h.01M688.0 1003.2h.01M699.5 987.3h.01M726.5 986.6h.01M726.1 985.1h.01M746.6 995.1h.01M744.2 994.8h.01M745.3 996.3h.01M779.8 993.2h.01M781.9 991.8h.01M748.7 1002.2h.01M786.1 1007.8h.01M772.0 1006.8h.01" stroke="#2e6d8e" stroke-width="6.0"/>
<path d="M894.8 323.8h.01M890.4 326.6h.01M783.3 319.6h.01M718.9 317.8h.01M778.7 329.3h.01M914.4 327.0h.01M844.2 326.4h.01M729.2 326.2h.01M848.3 325.0h.01M955.9 362.9h.01M756.2 407.1h.01M754.6 407.6h.01M1112.7 203.8h.01M1026.4 318.1h.01M1019.6 320.0h.01M1065.1 319.6h.01M1022.3 325.8h.01M1029.4 316.6h.01M1073.3 321.7h.01M1059.4 316.5h.01M1025.6 326.1h.01M997.4 320.8h.01M1039.0 319.9h.01M1076.9 317.4h.01M1038.6 318.6h.01M1077.8 318.3h.01M1140.1 318.5h.01M381.1 418.9h.01M381.2 418.4h.01M669.2 575.7h.01M676.0 582.2h.01M669.0 582.5h.01M692.1 581.7h.01M691.7 579.0h.01M696.2 586.7h.01M717.6 586.0h.01M749.3 579.0h.01M773.2 577.2h.01M772.5 579.9h.01M850.8 574.5h.01M942.7 583.7h.01M979.0 582.9h.01M916.0 583.1h.01M996.8 580.5h.01M969.4 581.8h.01M995.3 582.3h.01M915.8 583.3h.01M997.6 583.1h.01M1015.1 584.5h.01M1044.1 582.9h.01M1057.8 584.1h.01M1062.5 580.6h.01M1061.6 580.4h.01M1049.1 580.6h.01M1142.6 582.1h.01M1122.9 581.8h.01M1134.8 582.3h.01M1149.7 582.6h.01M1214.7 584.2h.01M1157.3 581.7h.01M1157.1 582.1h.01M289.8 992.4h.01M287.7 994.9h.01M317.2 994.3h.01M335.6 995.3h.01M335.2 992.4h.01M377.8 992.8h.01M370.7 991.3h.01M378.0 991.8h.01M379.7 992.4h.01M398.0 992.8h.01M394.3 990.9h.01M411.3 994.1h.01M407.0 993.8h.01M407.8 994.4h.01M539.3 1002.6h.01M540.4 1006.7h.01M538.4 998.4h.01M541.8 1000.6h.01M543.6 999.1h.01M532.0 995.1h.01M559.1 994.9h.01M586.0 996.5h.01M572.4 996.4h.01M580.5 999.7h.01M580.2 1002.3h.01M578.7 997.0h.01M556.6 999.7h.01M585.2 1002.6h.01M556.0 1002.6h.01M565.7 1000.9h.01M551.2 998.3h.01M587.6 1002.8h.01M628.9 1003.1h.01M625.4 1003.2h.01M649.9 1003.7h.01M640.7 1003.3h.01M671.7 1005.7h.01M713.5 984.2h.01M732.5 985.3h.01M732.1 985.0h.01M727.4 994.8h.01M749.4 997.0h.01M775.5 1005.9h.01M758.3 1006.5h.01M773.5 1006.4h.01M761.4 1006.0h.01M768.4 1008.9h.01" stroke="#2e6d8e" stroke-width="5.5"/>
<path d="M282.9 994.3h.01M323.8 993.3h.01M335.4 993.8h.01M411.8 994.2h.01M399.7 994.0h.01M425.1 994.4h.01M538.1 1008.7h.01M550.6 1000.9h.01M586.7 1004.1h.01M579.6 999.7h.01M597.9 997.4h.01M623.9 1001.0h.01M667.7 1007.0h.01M701.9 985.9h.01M701.8 983.9h.01M704.9 986.9h.01M733.2 987.2h.01M725.9 996.1h.01M764.4 1006.5h.01M767.1 1005.9h.01M761.5 1004.5h.01M760.8 1008.4h.01" stroke="#2e6d8e" stroke-width="5.0"/>
<path d="M678.6 550.8h.01" stroke="#38588c" stroke-width="8.5"/>
<path d="M702.3 541.1h.01M690.8 537.0h.01M680.1 551.9h.01M485.9 783.7h.01M526.6 790.7h.01M509.0 785.7h.01M503.5 786.3h.01M494.6 787.6h.01M522.3 779.8h.01" stroke="#38588c" stroke-width="8.0"/>
<path d="M482.9 404.0h.01M488.7 402.5h.01M1182.2 157.9h.01M689.6 536.2h.01M691.8 531.2h.01M692.7 537.2h.01M694.2 532.0h.01M689.8 530.5h.01M695.4 533.6h.01M687.2 551.1h.01M687.8 551.1h.01M1027.6 481.9h.01M1030.5 483.2h.01M1033.4 482.3h.01M1035.9 483.6h.01M1060.0 482.8h.01M1062.9 483.6h.01M1065.8 483.2h.01M1068.3 484.0h.01M1070.8 482.8h.01M456.7 781.8h.01M465.0 788.5h.01M469.1 788.1h.01M459.8 796.8h.01M471.2 796.0h.01M475.4 795.3h.01M479.5 796.4h.01M485.8 823.0h.01M489.9 823.8h.01M494.1 823.0h.01M531.2 786.3h.01M507.2 791.8h.01M534.7 792.5h.01M491.0 784.7h.01M524.8 789.8h.01M504.3 799.6h.01M512.9 794.5h.01M493.3 794.8h.01M539.9 785.2h.01M487.9 791.8h.01M488.3 785.7h.01M544.4 792.7h.01M537.9 791.8h.01M510.6 794.2h.01M499.2 789.3h.01M542.5 787.1h.01M531.9 782.0h.01M488.6 794.6h.01M538.5 795.8h.01M528.2 787.6h.01M529.6 794.2h.01M514.0 788.6h.01M506.6 787.6h.01M525.6 788.7h.01M534.7 791.7h.01M492.5 788.2h.01M485.1 792.0h.01M523.2 792.3h.01M509.1 796.9h.01M510.9 795.7h.01M528.5 808.3h.01M518.6 808.8h.01M541.4 810.4h.01M516.1 805.7h.01" stroke="#38588c" stroke-width="7.5"/>
<path d="M327.0 409.2h.01M302.1 407.7h.01M684.8 533.1h.01M697.9 533.3h.01M497.9 792.9h.01M487.2 792.4h.01M488.3 790.5h.01M537.4 798.5h.01M543.1 791.2h.01M489.8 786.6h.01M520.7 789.9h.01M519.1 793.1h.01M493.2 787.8h.01M515.3 793.4h.01M520.8 796.3h.01M529.7 790.2h.01M516.4 808.0h.01M523.5 809.4h.01M522.3 806.7h.01M539.7 809.3h.01M522.5 806.7h.01" stroke="#38588c" stroke-width="7.0"/>
<path d="M477.5 423.3h.01M688.5 536.4h.01M697.0 535.6h.01M703.2 526.9h.01M702.2 529.6h.01M700.8 536.0h.01M535.2 790.2h.01M495.6 786.1h.01M535.0 791.5h.01M523.2 791.7h.01M488.2 786.9h.01M497.1 788.4h.01M493.6 794.7h.01M521.6 808.5h.01M518.1 808.3h.01M519.5 808.8h.01" stroke="#38588c" stroke-width="6.5"/>
<path d="M401.0 748.6h.01M451.1 748.7h.01M499.2 750.6h.01M489.5 749.0h.01M508.7 748.2h.01M477.2 747.0h.01M506.3 751.8h.01M474.6 748.1h.01M508.6 745.4h.01M504.6 745.0h.01M539.7 746.4h.01M528.9 745.5h.01M530.5 748.5h.01M411.6 868.1h.01M431.1 873.7h.01M406.7 870.3h.01M427.2 868.7h.01M425.9 869.8h.01M370.9 884.5h.01M372.2 884.5h.01M532.4 855.7h.01M519.9 889.7h.01M530.5 879.4h.01M527.9 878.9h.01M522.1 880.5h.01M514.5 876.6h.01M524.6 890.1h.01M482.0 909.2h.01M542.7 908.2h.01M379.0 927.7h.01M384.7 937.6h.01M385.9 937.6h.01M386.1 929.1h.01M432.5 934.0h.01M546.7 745.4h.01M557.8 745.1h.01M616.2 749.9h.01M635.5 748.6h.01M793.3 724.3h.01M795.8 723.7h.01M843.3 734.6h.01M854.4 735.2h.01M848.6 735.0h.01M845.5 732.9h.01M780.5 756.4h.01M705.5 758.5h.01M716.0 756.0h.01M731.8 756.5h.01M790.3 756.5h.01M621.6 769.7h.01M611.5 772.3h.01M569.6 790.8h.01M557.5 785.5h.01M566.3 791.0h.01M585.9 788.8h.01M609.9 789.3h.01M571.5 795.2h.01M557.2 794.2h.01M610.5 793.5h.01M570.6 793.6h.01M573.9 833.1h.01M601.9 829.0h.01M606.8 831.6h.01M634.7 836.9h.01M641.8 835.8h.01M552.7 859.7h.01M550.3 859.8h.01M548.2 855.8h.01M572.1 853.0h.01M550.3 860.2h.01M563.4 881.8h.01M573.2 887.9h.01M565.5 884.0h.01M566.3 878.0h.01M606.3 877.5h.01M612.2 879.0h.01M555.0 910.7h.01M897.9 687.4h.01" stroke="#3e4c8a" stroke-width="8.0"/>
<path d="M335.1 749.6h.01M338.2 742.3h.01M360.4 752.3h.01M364.2 749.6h.01M367.3 751.7h.01M369.4 752.7h.01M378.3 756.9h.01M418.2 744.4h.01M423.4 750.7h.01M428.6 746.1h.01M404.3 747.0h.01M402.4 746.8h.01M407.5 749.4h.01M394.1 749.9h.01M404.0 748.9h.01M408.0 746.3h.01M439.6 746.8h.01M451.7 746.2h.01M448.6 747.2h.01M442.0 749.4h.01M453.8 747.8h.01M456.5 744.6h.01M446.7 744.3h.01M445.1 746.0h.01M447.3 747.0h.01M453.2 748.2h.01M488.1 747.8h.01M487.2 749.6h.01M501.7 749.5h.01M509.8 746.0h.01M484.5 749.4h.01M499.8 750.9h.01M514.3 748.9h.01M505.5 747.4h.01M516.4 744.1h.01M499.7 750.4h.01M494.4 747.0h.01M498.3 750.2h.01M470.3 748.1h.01M497.8 752.4h.01M464.2 746.3h.01M500.5 747.5h.01M507.4 746.5h.01M469.7 748.1h.01M507.1 745.6h.01M499.0 750.6h.01M475.9 750.8h.01M513.0 745.5h.01M479.1 747.1h.01M501.4 754.5h.01M538.3 747.5h.01M525.0 745.2h.01M428.3 867.8h.01M428.2 867.1h.01M416.5 869.2h.01M434.6 872.1h.01M416.4 872.4h.01M419.8 869.4h.01M408.1 869.4h.01M425.8 870.0h.01M421.3 878.5h.01M424.5 881.6h.01M427.6 884.7h.01M422.0 886.8h.01M341.2 884.4h.01M338.9 884.2h.01M327.2 884.4h.01M332.5 884.0h.01M331.1 885.4h.01M325.0 885.2h.01M388.5 883.4h.01M389.2 885.4h.01M398.5 883.7h.01M512.8 854.4h.01M512.8 857.2h.01M515.0 856.5h.01M502.8 857.4h.01M501.6 858.1h.01M499.1 854.8h.01M510.6 855.0h.01M509.7 866.6h.01M512.8 868.1h.01M515.5 866.0h.01M542.9 858.1h.01M544.1 858.2h.01M530.6 856.1h.01M531.7 854.5h.01M532.5 855.5h.01M487.8 880.6h.01M491.0 884.7h.01M495.1 879.5h.01M498.2 885.3h.01M493.0 882.6h.01M509.7 892.0h.01M462.9 906.5h.01M527.3 881.7h.01M516.1 900.3h.01M543.1 882.6h.01M537.0 888.4h.01M539.1 882.8h.01M540.5 881.1h.01M542.2 880.1h.01M543.1 891.9h.01M542.0 882.1h.01M518.4 892.2h.01M536.6 879.7h.01M518.6 884.3h.01M525.8 873.1h.01M536.7 890.2h.01M523.9 879.2h.01M514.3 878.3h.01M520.3 886.6h.01M520.3 882.7h.01M544.0 880.7h.01M533.0 881.8h.01M538.5 886.9h.01M522.4 884.4h.01M514.6 909.1h.01M500.3 907.8h.01M495.0 911.2h.01M518.7 909.7h.01M513.8 908.8h.01M500.7 909.3h.01M518.2 908.5h.01M499.8 907.2h.01M507.8 908.0h.01M523.6 908.2h.01M483.1 908.2h.01M486.9 906.7h.01M511.4 905.9h.01M544.2 908.1h.01M540.2 910.2h.01M539.2 907.1h.01M374.6 924.0h.01M366.8 920.7h.01M369.3 925.8h.01M380.1 925.2h.01M392.9 925.7h.01M371.6 922.5h.01M366.4 923.1h.01M368.8 924.5h.01M382.9 922.7h.01M390.1 922.7h.01M371.5 921.7h.01M368.7 920.9h.01M410.3 915.9h.01M413.7 916.5h.01M428.6 916.5h.01M441.1 921.1h.01M392.8 932.3h.01M383.5 933.0h.01M390.0 935.7h.01M386.1 933.2h.01M396.8 932.9h.01M390.3 944.8h.01M384.1 932.5h.01M388.7 945.7h.01M397.5 929.5h.01M397.4 923.9h.01M350.3 940.6h.01M345.2 941.2h.01M344.8 941.2h.01M349.1 938.1h.01M351.5 940.2h.01M339.9 942.0h.01M428.5 929.3h.01M437.7 928.0h.01M427.4 934.0h.01M437.7 933.2h.01M784.4 707.1h.01M793.2 706.1h.01M772.6 710.5h.01M805.1 702.6h.01M775.7 694.7h.01M798.5 701.6h.01M795.0 710.0h.01M630.6 720.5h.01M634.4 719.5h.01M638.1 721.2h.01M653.1 720.5h.01M672.2 719.5h.01M675.9 722.6h.01M679.7 723.6h.01M690.5 721.6h.01M595.9 740.3h.01M598.6 743.4h.01M601.1 746.5h.01M584.1 746.9h.01M588.6 749.6h.01M592.4 751.7h.01M572.0 746.5h.01M560.6 761.1h.01M604.0 732.2h.01M621.3 734.8h.01M619.8 733.5h.01M614.5 733.5h.01M625.2 733.6h.01M649.6 731.5h.01M650.2 732.5h.01M559.3 743.8h.01M548.0 746.3h.01M546.1 746.0h.01M553.9 748.3h.01M547.0 746.3h.01M621.2 747.5h.01M616.0 748.0h.01M644.5 747.0h.01M628.7 747.9h.01M641.2 746.4h.01M637.6 748.7h.01M632.8 748.2h.01M639.0 749.2h.01M633.5 746.8h.01M646.7 746.1h.01M654.2 746.2h.01M642.2 745.2h.01M634.1 750.3h.01M800.5 722.9h.01M796.8 722.9h.01M835.1 735.1h.01M839.4 734.2h.01M858.2 737.2h.01M846.7 734.0h.01M851.7 734.0h.01M847.5 733.7h.01M869.6 735.1h.01M875.0 735.7h.01M757.1 756.1h.01M756.6 755.1h.01M688.5 756.9h.01M786.7 756.4h.01M760.1 761.1h.01M779.1 753.4h.01M785.9 756.6h.01M684.0 751.3h.01M781.0 757.7h.01M684.7 759.2h.01M697.1 755.1h.01M747.2 762.6h.01M738.7 758.2h.01M739.8 759.4h.01M747.4 760.2h.01M686.4 758.2h.01M721.1 757.2h.01M770.7 753.1h.01M714.6 755.6h.01M688.8 757.2h.01M680.0 756.4h.01M785.0 759.0h.01M687.6 752.5h.01M680.2 760.6h.01M783.9 759.8h.01M694.0 752.4h.01M785.0 754.9h.01M736.1 757.5h.01M730.2 756.0h.01M751.5 758.3h.01M666.6 757.3h.01M662.4 774.6h.01M674.9 780.8h.01M699.2 775.6h.01M702.5 776.6h.01M705.0 775.2h.01M619.6 774.4h.01M617.7 767.7h.01M611.3 767.2h.01M623.1 767.2h.01M613.7 771.9h.01M631.3 767.9h.01M631.8 770.5h.01M640.4 774.0h.01M645.5 772.4h.01M649.6 776.0h.01M647.9 773.8h.01M579.9 762.7h.01M585.5 764.2h.01M590.3 766.2h.01M594.5 763.1h.01M548.3 791.5h.01M609.7 788.8h.01M570.2 787.8h.01M608.9 788.2h.01M577.6 787.8h.01M596.1 788.1h.01M556.0 786.8h.01M606.4 788.9h.01M605.4 785.3h.01M591.5 788.3h.01M586.2 786.3h.01M579.4 787.0h.01M554.4 791.0h.01M571.1 787.7h.01M560.3 788.7h.01M563.7 788.1h.01M603.9 797.4h.01M563.5 792.6h.01M580.1 795.5h.01M602.3 793.5h.01M561.4 794.4h.01M592.6 796.2h.01M609.2 795.5h.01M587.0 794.0h.01M572.0 796.3h.01M578.9 794.8h.01M601.8 793.8h.01M574.2 796.7h.01M607.3 795.6h.01M569.0 796.4h.01M563.7 796.4h.01M553.1 795.4h.01M617.3 784.3h.01M620.9 788.1h.01M625.0 791.2h.01M629.2 793.3h.01M632.3 786.0h.01M646.8 792.2h.01M581.4 831.4h.01M572.2 833.5h.01M586.6 828.6h.01M602.4 830.9h.01M611.0 828.8h.01M581.4 843.6h.01M579.3 843.7h.01M588.3 842.6h.01M649.5 834.0h.01M641.9 836.2h.01M639.0 834.2h.01M636.6 835.7h.01M642.4 835.0h.01M649.1 833.6h.01M635.5 834.3h.01M638.7 835.5h.01M552.1 857.6h.01M546.2 859.3h.01M573.9 861.9h.01M566.5 854.0h.01M572.0 855.8h.01M553.7 857.3h.01M557.5 859.5h.01M563.1 856.0h.01M576.6 853.7h.01M553.4 860.5h.01M568.3 856.2h.01M556.7 857.2h.01M578.1 855.3h.01M579.3 855.6h.01M584.5 860.8h.01M591.8 858.3h.01M594.9 859.8h.01M576.2 866.0h.01M602.8 862.5h.01M605.7 863.9h.01M608.4 861.9h.01M611.1 863.3h.01M618.2 861.9h.01M621.5 862.9h.01M624.4 861.2h.01M627.1 862.5h.01M545.6 878.4h.01M559.6 873.7h.01M553.7 877.2h.01M581.4 897.6h.01M580.1 878.0h.01M560.7 884.1h.01M586.5 873.1h.01M580.8 878.2h.01M545.6 884.5h.01M548.4 884.0h.01M548.8 879.2h.01M562.6 886.2h.01M584.0 876.3h.01M573.9 879.1h.01M549.4 880.0h.01M574.4 880.9h.01M573.3 875.8h.01M563.2 883.1h.01M584.9 880.0h.01M571.7 885.5h.01M555.0 880.1h.01M575.4 876.1h.01M578.7 883.9h.01M547.4 891.5h.01M578.7 875.1h.01M555.0 887.1h.01M578.1 882.2h.01M561.8 886.6h.01M555.0 882.1h.01M599.0 875.4h.01M609.0 879.2h.01M616.3 878.2h.01M545.6 908.2h.01M560.3 913.1h.01M549.9 911.2h.01M549.5 908.1h.01M558.4 912.5h.01M575.1 898.6h.01M578.3 901.3h.01M582.0 904.0h.01M585.5 900.3h.01M579.3 904.5h.01M583.4 898.2h.01M598.0 912.4h.01M616.7 915.9h.01M586.5 916.1h.01M577.1 914.4h.01M581.2 915.2h.01M576.4 914.5h.01M569.0 913.3h.01M585.0 913.2h.01M646.6 905.4h.01M652.1 905.5h.01M658.2 904.1h.01M647.5 904.9h.01M916.9 688.9h.01M908.5 688.0h.01M908.3 697.3h.01M895.8 696.9h.01M885.4 694.4h.01M948.2 687.3h.01M961.7 686.2h.01M895.2 735.1h.01M948.2 734.5h.01M966.9 736.1h.01" stroke="#3e4c8a" stroke-width="7.5"/>
<path d="M414.0 745.3h.01M406.8 747.2h.01M396.4 747.3h.01M408.8 748.9h.01M442.8 744.7h.01M437.9 749.8h.01M449.1 747.4h.01M455.0 747.6h.01M449.8 745.5h.01M445.2 749.7h.01M465.2 748.9h.01M468.9 749.9h.01M499.1 747.7h.01M501.8 753.2h.01M470.7 749.4h.01M484.5 744.5h.01M508.4 746.7h.01M492.8 750.2h.01M470.6 749.8h.01M515.4 746.6h.01M504.5 749.9h.01M500.4 752.5h.01M513.4 751.9h.01M501.5 749.0h.01M508.0 752.2h.01M469.2 748.4h.01M527.7 745.5h.01M523.0 746.2h.01M525.4 748.2h.01M431.6 871.5h.01M422.9 868.2h.01M438.9 869.0h.01M420.7 870.6h.01M435.6 870.4h.01M330.0 884.5h.01M331.6 884.6h.01M387.5 884.8h.01M380.2 885.5h.01M381.4 884.8h.01M383.2 886.2h.01M520.7 856.8h.01M496.2 856.1h.01M493.4 858.7h.01M518.0 857.6h.01M504.5 856.0h.01M538.5 859.8h.01M531.1 854.6h.01M516.3 879.5h.01M516.3 891.8h.01M522.9 874.2h.01M523.7 883.9h.01M516.5 887.9h.01M524.7 879.1h.01M514.9 909.3h.01M522.4 912.6h.01M493.8 906.5h.01M508.9 907.9h.01M506.9 907.1h.01M389.7 924.9h.01M379.6 924.1h.01M386.9 923.8h.01M399.0 938.6h.01M393.6 939.9h.01M392.6 926.5h.01M396.1 942.6h.01M387.7 941.2h.01M389.9 937.2h.01M398.9 945.5h.01M389.0 928.5h.01M396.4 938.4h.01M358.8 940.2h.01M349.7 934.0h.01M344.6 937.8h.01M765.3 702.1h.01M776.0 704.2h.01M624.3 737.2h.01M621.1 734.0h.01M545.7 745.2h.01M548.7 747.6h.01M551.3 746.5h.01M637.5 748.4h.01M648.8 747.1h.01M627.6 747.4h.01M632.0 747.7h.01M798.7 724.3h.01M846.1 733.1h.01M838.8 735.6h.01M860.1 732.7h.01M780.5 759.8h.01M747.6 756.8h.01M684.1 755.8h.01M736.2 759.0h.01M777.4 757.7h.01M775.3 752.9h.01M700.3 756.3h.01M684.5 760.9h.01M732.5 755.4h.01M727.8 756.8h.01M740.8 758.3h.01M695.5 761.8h.01M705.7 753.0h.01M714.5 758.3h.01M691.1 749.5h.01M687.6 758.2h.01M714.8 758.9h.01M776.3 757.1h.01M758.6 761.9h.01M777.5 761.4h.01M618.6 773.4h.01M615.6 769.4h.01M613.0 767.2h.01M621.9 767.8h.01M646.6 773.4h.01M650.9 771.4h.01M641.0 771.9h.01M650.8 772.3h.01M568.6 786.8h.01M556.4 787.5h.01M563.9 784.9h.01M606.6 789.3h.01M605.0 789.2h.01M607.3 786.0h.01M590.6 787.5h.01M574.6 795.4h.01M606.9 794.5h.01M566.9 796.3h.01M590.6 792.9h.01M557.4 799.1h.01M549.3 795.2h.01M559.6 797.1h.01M608.0 798.8h.01M549.3 794.3h.01M563.9 796.7h.01M578.1 798.6h.01M596.7 795.4h.01M585.6 796.2h.01M569.6 833.4h.01M607.3 831.7h.01M606.6 828.7h.01M574.3 842.6h.01M581.3 843.6h.01M597.4 842.7h.01M579.9 843.3h.01M582.7 843.5h.01M551.5 856.2h.01M545.7 860.9h.01M577.7 864.0h.01M563.0 856.2h.01M552.5 857.2h.01M565.1 881.2h.01M579.3 882.1h.01M546.1 880.1h.01M556.1 877.4h.01M566.6 888.2h.01M579.0 873.9h.01M557.9 885.4h.01M585.6 887.0h.01M616.5 879.4h.01M559.2 911.4h.01M563.6 910.2h.01M583.8 913.5h.01M589.9 913.9h.01M592.1 913.2h.01M373.3 955.5h.01M395.1 949.8h.01M384.5 950.3h.01M393.1 954.4h.01M387.1 950.6h.01M430.7 946.2h.01M431.7 946.5h.01M339.2 981.9h.01M336.3 981.6h.01M341.3 978.5h.01M370.8 969.5h.01M386.1 976.6h.01M380.9 975.6h.01M359.3 980.8h.01M378.4 978.6h.01M365.0 974.0h.01M358.7 971.7h.01M386.1 978.0h.01M405.9 976.2h.01M416.5 968.9h.01M414.6 970.9h.01M407.9 975.2h.01M398.6 970.2h.01M474.0 964.9h.01M493.2 963.2h.01M483.7 967.6h.01M485.9 963.6h.01M505.3 965.9h.01M535.2 962.1h.01M543.6 964.2h.01M542.5 961.4h.01M500.6 983.4h.01M485.6 986.6h.01M494.4 993.1h.01M482.0 998.8h.01M502.8 992.7h.01M465.9 994.6h.01M455.8 990.6h.01M469.8 994.5h.01M484.5 991.8h.01M500.8 995.1h.01M490.0 995.9h.01M525.1 994.5h.01M524.9 995.3h.01M335.0 1021.9h.01M347.3 1018.8h.01M331.1 1021.4h.01M232.3 1129.2h.01M260.7 1116.5h.01M249.7 1127.3h.01M238.3 1117.3h.01M232.6 1125.6h.01M223.8 1134.2h.01M234.5 1131.2h.01M226.0 1130.6h.01M221.0 1125.1h.01M223.8 1110.6h.01M252.4 1120.1h.01M215.7 1116.6h.01M264.3 1124.5h.01M266.8 1132.8h.01M261.9 1119.8h.01M262.4 1122.8h.01M228.7 1119.4h.01M238.8 1119.1h.01M214.9 1121.4h.01M221.5 1123.3h.01M219.3 1120.8h.01M258.3 1129.9h.01M224.5 1121.4h.01M228.2 1123.9h.01M239.2 1124.6h.01M222.9 1131.6h.01M237.2 1114.8h.01M234.3 1122.1h.01M232.4 1116.7h.01M244.6 1122.3h.01M233.3 1116.0h.01M249.0 1128.3h.01M246.9 1124.3h.01M213.0 1110.1h.01M234.2 1131.8h.01M215.6 1119.6h.01M236.9 1129.6h.01M229.9 1118.7h.01M277.4 1121.0h.01M225.3 1112.0h.01M250.8 1124.7h.01M244.1 1134.3h.01M211.7 1131.4h.01M232.5 1135.6h.01M209.7 1139.6h.01M222.3 1127.2h.01M252.5 1131.1h.01M245.8 1129.3h.01M260.4 1133.0h.01M215.3 1132.7h.01M221.5 1131.8h.01M235.3 1132.5h.01M254.1 1126.4h.01M260.3 1133.8h.01M228.8 1129.3h.01M257.4 1128.0h.01M244.6 1103.0h.01M231.2 1105.1h.01M238.8 1101.1h.01M234.0 1097.8h.01M275.3 1102.4h.01M266.2 1106.5h.01M242.0 1096.8h.01M235.1 1097.5h.01M245.4 1104.0h.01M280.9 1109.1h.01M251.6 1108.0h.01M259.3 1097.5h.01M289.4 1088.4h.01M220.5 1093.7h.01M288.3 1092.1h.01M251.5 1094.5h.01M239.5 1092.5h.01M248.6 1095.0h.01M206.2 1114.6h.01M206.7 1123.6h.01M222.6 1122.1h.01M227.6 1113.3h.01M220.6 1128.8h.01M229.1 1129.6h.01M303.2 1113.0h.01M315.3 1113.2h.01M304.7 1114.4h.01M575.7 956.1h.01M552.0 958.0h.01M546.4 963.2h.01M576.5 961.8h.01M552.6 958.6h.01M576.4 961.0h.01M549.3 959.3h.01M567.5 959.0h.01M561.4 960.5h.01M604.9 957.1h.01M623.3 959.0h.01" stroke="#3e4c8a" stroke-width="7.0"/>
<path d="M408.6 749.3h.01M398.7 746.3h.01M451.8 747.0h.01M440.0 744.7h.01M512.6 748.6h.01M465.9 748.8h.01M481.8 749.7h.01M473.7 749.7h.01M476.2 747.7h.01M507.6 745.1h.01M515.8 742.9h.01M542.4 746.8h.01M540.8 749.1h.01M246.1 853.5h.01M253.6 853.5h.01M256.5 852.9h.01M271.7 854.2h.01M283.5 852.9h.01M286.9 852.1h.01M289.4 855.6h.01M288.3 860.8h.01M299.8 859.8h.01M303.5 852.9h.01M313.3 859.8h.01M337.2 859.2h.01M345.1 859.2h.01M349.2 858.7h.01M363.8 859.2h.01M428.3 871.3h.01M387.8 886.0h.01M367.3 884.6h.01M523.4 856.2h.01M506.4 857.5h.01M501.8 856.6h.01M536.8 881.1h.01M534.7 882.3h.01M518.0 882.3h.01M537.1 880.5h.01M513.8 906.6h.01M512.0 905.7h.01M518.7 910.1h.01M508.8 913.4h.01M510.5 910.1h.01M523.1 909.2h.01M485.4 910.1h.01M539.6 910.8h.01M383.7 923.5h.01M388.1 934.1h.01M383.1 938.2h.01M398.0 932.7h.01M394.7 930.1h.01M395.6 928.8h.01M385.0 939.2h.01M385.5 934.9h.01M385.9 936.7h.01M335.8 937.7h.01M336.5 938.6h.01M357.9 936.4h.01M355.3 938.9h.01M428.3 931.9h.01M428.4 929.2h.01M441.0 933.1h.01M799.9 708.5h.01M765.3 706.5h.01M776.5 709.1h.01M767.1 705.0h.01M789.9 705.5h.01M609.1 734.0h.01M609.3 732.9h.01M617.1 731.8h.01M609.1 731.8h.01M650.5 732.4h.01M656.9 731.0h.01M565.1 748.6h.01M632.9 747.9h.01M649.9 748.2h.01M648.6 746.6h.01M622.4 748.1h.01M657.0 746.2h.01M795.1 722.4h.01M845.0 736.7h.01M842.1 735.6h.01M836.5 734.8h.01M745.1 757.7h.01M783.9 758.8h.01M700.1 758.4h.01M734.1 756.2h.01M738.2 757.9h.01M779.8 756.6h.01M745.1 752.5h.01M747.3 760.4h.01M724.7 755.7h.01M722.3 757.1h.01M613.7 768.7h.01M631.4 769.1h.01M652.6 772.6h.01M648.3 772.6h.01M567.4 786.1h.01M577.7 788.2h.01M576.2 787.9h.01M586.1 788.7h.01M603.2 788.8h.01M545.2 785.3h.01M604.8 785.7h.01M592.2 788.7h.01M553.4 791.3h.01M578.1 797.0h.01M591.6 797.3h.01M565.0 791.2h.01M575.3 796.9h.01M581.1 833.1h.01M608.9 829.3h.01M575.5 841.9h.01M586.7 844.5h.01M633.8 836.8h.01M573.5 862.2h.01M568.4 858.7h.01M549.8 861.1h.01M580.3 877.7h.01M558.8 891.5h.01M554.0 869.5h.01M561.3 874.4h.01M550.7 881.6h.01M558.0 884.9h.01M586.1 873.5h.01M608.5 879.5h.01M615.5 878.9h.01M559.1 912.0h.01M560.0 913.6h.01M568.1 915.9h.01M654.5 907.1h.01M650.3 906.7h.01M655.6 907.5h.01M889.6 691.9h.01M905.6 691.5h.01M919.3 695.3h.01M923.8 689.0h.01M369.2 951.9h.01M390.8 946.6h.01M391.4 951.4h.01M370.4 952.4h.01M381.9 951.4h.01M393.1 951.8h.01M394.0 949.0h.01M386.5 950.1h.01M440.5 948.4h.01M443.3 948.3h.01M434.4 947.0h.01M333.9 980.8h.01M380.3 977.0h.01M380.1 976.8h.01M380.8 977.6h.01M382.3 975.2h.01M362.4 974.2h.01M366.0 972.3h.01M386.4 975.8h.01M381.5 974.6h.01M364.2 974.2h.01M409.7 975.3h.01M386.0 973.7h.01M407.4 973.2h.01M390.6 973.6h.01M414.7 970.6h.01M417.8 969.6h.01M481.9 968.7h.01M467.2 969.1h.01M487.9 963.9h.01M487.4 966.4h.01M476.7 965.2h.01M474.5 967.1h.01M471.7 964.7h.01M500.4 967.5h.01M532.0 965.0h.01M534.3 961.8h.01M493.9 984.3h.01M512.2 983.5h.01M498.3 982.4h.01M502.7 983.1h.01M520.4 982.8h.01M516.0 985.0h.01M484.7 984.2h.01M504.8 991.7h.01M493.0 995.6h.01M499.7 993.5h.01M496.3 992.5h.01M479.2 994.8h.01M479.3 992.5h.01M464.9 992.3h.01M487.7 995.2h.01M351.9 1023.8h.01M347.3 1018.2h.01M215.9 1132.1h.01M255.0 1119.4h.01M249.8 1133.9h.01M216.0 1121.5h.01M277.2 1125.7h.01M205.0 1116.5h.01M259.1 1131.2h.01M225.1 1125.5h.01M241.9 1130.4h.01M246.9 1121.1h.01M266.6 1122.5h.01M239.8 1126.6h.01M223.9 1134.6h.01M234.6 1137.5h.01M242.3 1124.6h.01M227.4 1115.1h.01M219.4 1133.7h.01M242.3 1125.6h.01M227.4 1122.4h.01M215.8 1116.0h.01M276.0 1126.1h.01M252.7 1119.9h.01M234.2 1121.3h.01M223.9 1121.2h.01M237.8 1113.4h.01M211.9 1129.1h.01M241.5 1131.9h.01M215.2 1130.2h.01M261.3 1131.9h.01M273.7 1127.8h.01M249.9 1122.9h.01M271.2 1123.7h.01M225.4 1117.9h.01M230.1 1127.0h.01M211.2 1127.5h.01M233.9 1110.3h.01M258.1 1130.7h.01M248.9 1122.7h.01M245.8 1123.6h.01M237.8 1121.4h.01M256.7 1121.9h.01M238.4 1124.8h.01M244.1 1121.9h.01M283.7 1114.4h.01M236.7 1127.5h.01M242.6 1113.3h.01M256.5 1117.7h.01M259.4 1127.4h.01M248.4 1133.5h.01M230.4 1139.1h.01M210.9 1131.5h.01M262.3 1129.1h.01M209.7 1126.6h.01M246.7 1131.4h.01M249.0 1131.6h.01M208.9 1134.3h.01M208.7 1135.5h.01M243.9 1134.1h.01M228.8 1129.4h.01M218.3 1128.8h.01M244.1 1127.8h.01M210.5 1132.7h.01M242.8 1134.1h.01M248.7 1135.2h.01M253.5 1128.3h.01M240.8 1128.4h.01M242.0 1124.9h.01M213.4 1101.8h.01M252.9 1110.4h.01M251.2 1104.3h.01M260.2 1100.0h.01M279.5 1105.0h.01M275.1 1098.9h.01M235.4 1097.9h.01M226.7 1091.7h.01M269.8 1091.8h.01M280.2 1087.0h.01M279.0 1095.3h.01M265.1 1088.9h.01M224.4 1087.4h.01M229.4 1093.1h.01M281.5 1089.1h.01M231.0 1118.6h.01M232.8 1103.8h.01M206.8 1122.6h.01M214.0 1128.5h.01M209.3 1121.5h.01M241.0 1132.4h.01M222.0 1114.0h.01M238.9 1122.6h.01M228.3 1124.6h.01M215.9 1114.0h.01M294.7 1113.4h.01M308.9 1113.7h.01M583.6 958.9h.01M567.0 960.3h.01M560.8 957.1h.01M556.6 960.1h.01M553.7 960.5h.01M546.0 959.1h.01M575.8 960.9h.01M559.1 960.4h.01M556.4 959.2h.01M593.9 956.4h.01M594.9 958.0h.01" stroke="#3e4c8a" stroke-width="6.5"/>
<path d="M341.7 949.6h.01M345.1 952.3h.01M348.0 954.4h.01M349.6 950.8h.01M343.4 953.3h.01M346.5 948.7h.01M375.9 948.0h.01M398.7 955.4h.01M390.9 951.0h.01M396.1 950.9h.01M399.3 949.1h.01M387.6 949.8h.01M396.6 951.4h.01M367.9 950.2h.01M377.2 947.1h.01M381.0 954.1h.01M394.9 948.2h.01M365.8 954.1h.01M391.8 946.1h.01M367.6 946.4h.01M325.1 973.7h.01M328.4 973.1h.01M332.0 975.1h.01M334.7 976.2h.01M329.9 974.5h.01M326.8 975.8h.01M343.8 971.0h.01M346.5 970.4h.01M349.6 971.6h.01M434.8 969.9h.01M439.0 977.2h.01M457.7 964.1h.01M456.7 976.6h.01M516.9 965.8h.01M519.6 971.0h.01M522.1 966.8h.01M333.3 980.0h.01M338.3 980.1h.01M367.5 973.0h.01M376.8 977.1h.01M360.1 982.2h.01M365.5 976.6h.01M366.9 976.8h.01M411.7 970.6h.01M416.8 972.4h.01M418.0 972.5h.01M417.0 970.1h.01M405.1 970.5h.01M409.9 973.4h.01M391.8 974.2h.01M410.5 970.2h.01M472.1 966.2h.01M491.0 963.7h.01M479.6 961.1h.01M482.4 964.4h.01M504.2 965.7h.01M494.1 969.8h.01M503.5 963.1h.01M541.2 960.9h.01M532.1 965.2h.01M496.6 985.5h.01M509.4 982.5h.01M512.9 983.6h.01M500.9 985.1h.01M492.2 983.0h.01M502.7 984.1h.01M481.9 982.7h.01M510.7 985.1h.01M489.3 982.7h.01M431.1 993.8h.01M434.4 994.5h.01M482.0 995.7h.01M514.1 997.3h.01M461.5 995.3h.01M464.4 998.6h.01M466.5 994.9h.01M457.4 994.9h.01M514.6 993.3h.01M460.2 995.4h.01M479.7 996.1h.01M480.9 995.0h.01M503.6 1000.0h.01M458.9 994.6h.01M531.1 996.2h.01M342.8 1016.8h.01M333.3 1020.6h.01M232.0 1122.6h.01M236.6 1122.5h.01M214.3 1125.0h.01M245.6 1121.9h.01M240.8 1130.5h.01M277.3 1128.0h.01M259.2 1118.9h.01M257.5 1133.3h.01M247.1 1124.6h.01M225.8 1130.3h.01M235.3 1130.1h.01M242.6 1128.5h.01M266.8 1130.4h.01M271.1 1121.2h.01M260.5 1113.9h.01M248.8 1119.5h.01M256.2 1129.3h.01M276.2 1111.5h.01M228.8 1122.4h.01M248.8 1123.4h.01M239.7 1125.2h.01M229.1 1136.1h.01M253.9 1127.5h.01M225.2 1130.6h.01M239.1 1125.9h.01M240.7 1112.8h.01M239.6 1131.8h.01M255.3 1121.5h.01M238.0 1120.4h.01M237.2 1137.6h.01M244.9 1126.7h.01M244.8 1127.4h.01M250.6 1127.1h.01M248.4 1119.0h.01M230.2 1124.9h.01M244.4 1116.9h.01M238.0 1111.3h.01M210.4 1127.1h.01M213.0 1138.4h.01M244.7 1132.1h.01M217.7 1140.8h.01M248.3 1128.7h.01M236.0 1130.7h.01M219.4 1128.4h.01M256.9 1130.9h.01M232.7 1131.4h.01M235.8 1126.5h.01M222.4 1123.0h.01M239.6 1124.9h.01M252.5 1131.4h.01M255.4 1128.1h.01M228.3 1125.6h.01M258.0 1131.6h.01M245.0 1129.1h.01M260.0 1137.3h.01M250.1 1136.6h.01M249.5 1135.2h.01M257.2 1132.8h.01M255.6 1138.0h.01M214.7 1138.7h.01M248.4 1129.5h.01M240.0 1133.0h.01M220.1 1133.9h.01M214.5 1130.8h.01M211.3 1130.8h.01M279.9 1106.8h.01M247.8 1101.5h.01M250.5 1099.3h.01M212.8 1105.8h.01M243.1 1098.7h.01M232.9 1106.6h.01M227.7 1101.5h.01M274.9 1106.2h.01M233.0 1097.2h.01M262.6 1109.5h.01M239.2 1105.9h.01M236.5 1108.9h.01M266.1 1095.4h.01M245.3 1090.8h.01M227.3 1094.5h.01M237.2 1087.2h.01M249.8 1089.0h.01M285.7 1089.2h.01M278.6 1091.7h.01M282.8 1090.3h.01M225.4 1110.0h.01M230.8 1118.8h.01M216.7 1119.0h.01M228.2 1116.0h.01M213.2 1117.1h.01M209.9 1116.3h.01M206.4 1110.6h.01M206.4 1125.9h.01M224.9 1114.8h.01M232.0 1120.0h.01M221.7 1110.9h.01M235.6 1121.9h.01M295.6 1100.9h.01M297.7 1105.0h.01M310.7 1113.9h.01M305.4 1112.4h.01M554.4 960.3h.01M558.9 959.2h.01M612.2 957.6h.01M602.3 957.9h.01M609.2 959.8h.01M629.6 958.9h.01M650.6 960.6h.01M654.1 959.5h.01M657.6 957.9h.01" stroke="#3e4c8a" stroke-width="6.0"/>
<path d="M326.8 948.1h.01M380.4 947.1h.01M397.5 949.7h.01M377.2 954.0h.01M433.3 947.6h.01M346.0 978.6h.01M335.8 984.3h.01M342.2 978.1h.01M335.6 979.0h.01M341.2 979.4h.01M385.5 975.0h.01M367.3 976.1h.01M377.8 975.3h.01M381.9 970.4h.01M360.1 980.9h.01M367.4 975.2h.01M375.7 976.8h.01M367.4 975.9h.01M407.9 972.7h.01M411.2 977.1h.01M414.7 972.5h.01M399.9 978.2h.01M394.4 972.5h.01M410.9 975.5h.01M384.5 972.8h.01M396.2 976.4h.01M397.8 972.5h.01M496.8 962.9h.01M477.7 965.2h.01M484.4 971.6h.01M531.9 962.0h.01M503.3 984.4h.01M491.5 982.2h.01M518.2 983.1h.01M483.5 982.7h.01M489.5 984.8h.01M512.4 993.6h.01M489.5 993.8h.01M509.6 995.3h.01M480.8 993.7h.01M479.7 992.7h.01M513.0 993.4h.01M453.8 995.3h.01M487.4 997.2h.01M506.3 996.3h.01M513.7 993.5h.01M501.4 994.2h.01M487.6 996.7h.01M512.0 996.5h.01M532.1 995.5h.01M332.1 1019.0h.01M223.7 1123.2h.01M237.5 1124.5h.01M216.3 1118.4h.01M261.5 1116.7h.01M236.1 1134.1h.01M240.8 1124.4h.01M254.2 1126.3h.01M244.6 1130.1h.01M251.1 1124.9h.01M261.0 1138.1h.01M254.8 1123.2h.01M222.0 1110.9h.01M244.7 1127.1h.01M257.7 1134.6h.01M263.1 1130.1h.01M219.2 1131.2h.01M261.6 1133.6h.01M227.3 1125.3h.01M238.5 1122.5h.01M265.1 1129.8h.01M250.8 1124.4h.01M263.2 1130.9h.01M254.6 1133.2h.01M217.8 1118.8h.01M241.5 1130.3h.01M219.9 1124.8h.01M233.8 1132.3h.01M227.3 1116.8h.01M221.4 1126.9h.01M237.6 1121.8h.01M228.0 1121.8h.01M204.2 1132.9h.01M243.3 1129.5h.01M263.8 1128.9h.01M280.6 1130.3h.01M212.8 1121.8h.01M254.9 1130.4h.01M248.2 1131.2h.01M263.8 1122.8h.01M233.8 1121.5h.01M223.2 1125.2h.01M231.7 1116.5h.01M223.9 1123.8h.01M247.8 1135.8h.01M229.4 1133.8h.01M226.0 1135.8h.01M252.5 1139.7h.01M210.2 1134.7h.01M262.3 1132.9h.01M235.5 1132.4h.01M216.5 1126.4h.01M245.3 1132.5h.01M249.0 1131.3h.01M226.7 1125.6h.01M243.5 1132.8h.01M243.8 1132.1h.01M254.3 1133.6h.01M221.7 1142.5h.01M245.4 1131.6h.01M231.0 1138.9h.01M228.3 1129.4h.01M220.6 1136.6h.01M260.6 1103.2h.01M260.6 1103.2h.01M226.5 1104.2h.01M274.8 1107.2h.01M278.2 1103.9h.01M254.8 1094.4h.01M242.9 1103.4h.01M237.2 1106.7h.01M225.5 1104.8h.01M246.0 1099.5h.01M222.7 1100.6h.01M272.1 1102.3h.01M221.3 1087.5h.01M271.6 1093.8h.01M263.2 1091.3h.01M283.0 1091.4h.01M267.3 1094.3h.01M225.7 1090.1h.01M273.9 1090.5h.01M238.0 1118.0h.01M223.0 1115.9h.01M231.8 1119.7h.01M237.5 1118.5h.01M229.3 1112.4h.01M213.1 1119.9h.01M240.3 1127.9h.01M221.1 1110.7h.01M237.9 1114.8h.01M211.8 1118.2h.01M215.4 1115.8h.01M227.3 1109.8h.01M313.2 1113.9h.01M306.3 1112.9h.01M549.1 961.6h.01M560.1 960.7h.01M566.4 954.2h.01M581.2 959.4h.01M570.5 958.6h.01M573.5 957.5h.01M563.1 959.4h.01M566.4 959.1h.01M590.9 956.9h.01M604.3 959.4h.01M593.3 959.6h.01M599.6 958.9h.01M631.0 957.0h.01M625.9 957.1h.01M632.4 961.6h.01M623.5 959.4h.01M626.7 960.3h.01" stroke="#3e4c8a" stroke-width="5.5"/>
<path d="M1220.7 258.1h.01M1223.8 263.3h.01" stroke="#404688" stroke-width="10.0"/>
<path d="M647.8 352.4h.01M658.3 405.8h.01M667.5 407.1h.01M649.2 406.2h.01" stroke="#404688" stroke-width="8.5"/>
<path d="M566.6 316.9h.01M717.7 240.0h.01M711.1 241.2h.01M700.9 240.1h.01M695.9 241.1h.01M712.9 239.8h.01M722.6 240.6h.01M646.1 351.6h.01M645.8 350.4h.01M759.3 370.7h.01M762.4 372.0h.01M657.2 406.5h.01M1206.1 267.0h.01M1235.2 258.1h.01M1235.9 291.3h.01M517.6 437.6h.01M542.5 437.0h.01M528.4 550.6h.01M543.4 550.7h.01M556.6 438.2h.01M571.6 442.1h.01M552.2 449.6h.01M559.7 477.6h.01M586.2 477.2h.01M582.5 475.5h.01M585.7 476.3h.01M560.0 483.0h.01M573.2 493.2h.01M556.4 492.5h.01M567.8 490.9h.01M565.8 494.1h.01M601.1 519.6h.01M550.6 549.1h.01M567.2 547.8h.01M551.5 548.3h.01M557.2 551.2h.01M596.3 549.7h.01M608.3 547.9h.01M555.7 613.5h.01M566.3 612.1h.01M556.1 612.8h.01M560.6 619.8h.01M607.8 672.8h.01M563.1 670.5h.01M564.8 676.2h.01M1112.6 457.1h.01M1137.2 457.0h.01M1162.7 441.8h.01M1222.2 447.2h.01M1221.1 449.6h.01M1193.1 450.4h.01M1178.8 460.0h.01M1193.8 465.4h.01M1214.8 466.6h.01" stroke="#404688" stroke-width="8.0"/>
<path d="M523.4 304.8h.01M528.6 305.9h.01M590.5 318.8h.01M595.1 319.4h.01M613.4 319.4h.01M548.4 346.4h.01M552.5 345.4h.01M556.7 346.4h.01M567.5 346.4h.01M611.1 351.2h.01M644.2 352.2h.01M629.2 349.7h.01M568.5 402.5h.01M572.3 404.0h.01M575.4 404.6h.01M629.4 408.0h.01M644.9 407.4h.01M631.7 407.3h.01M694.8 239.2h.01M687.0 240.2h.01M718.1 241.8h.01M701.8 240.0h.01M696.3 239.6h.01M708.9 239.9h.01M688.7 242.5h.01M697.6 240.5h.01M688.9 239.5h.01M699.3 240.5h.01M707.9 240.1h.01M736.0 240.6h.01M739.6 241.0h.01M742.7 241.4h.01M754.1 241.0h.01M671.3 352.2h.01M657.9 351.8h.01M659.0 350.9h.01M673.3 351.7h.01M650.5 351.3h.01M676.0 351.4h.01M676.8 350.8h.01M684.1 351.6h.01M689.1 352.0h.01M658.1 406.3h.01M665.8 406.8h.01M670.6 405.7h.01M659.4 406.7h.01M502.4 423.3h.01M505.5 423.7h.01M530.5 424.4h.01M533.5 435.3h.01M518.0 438.1h.01M542.8 440.5h.01M513.2 437.0h.01M536.9 438.9h.01M521.0 435.7h.01M542.9 438.5h.01M543.1 476.9h.01M536.6 477.7h.01M543.5 478.5h.01M551.6 477.2h.01M536.8 477.3h.01M541.9 492.3h.01M542.9 522.0h.01M511.4 547.4h.01M510.0 548.6h.01M515.7 546.1h.01M518.2 546.4h.01M540.3 552.0h.01M532.3 553.5h.01M529.4 550.9h.01M529.8 552.4h.01M544.3 552.4h.01M530.1 550.5h.01M544.9 551.3h.01M544.3 551.3h.01M540.9 551.9h.01M531.3 546.9h.01M562.7 424.9h.01M561.7 424.3h.01M547.1 426.9h.01M559.9 423.8h.01M568.4 435.4h.01M558.5 435.1h.01M551.0 437.5h.01M571.0 440.7h.01M568.2 442.4h.01M562.2 440.0h.01M556.0 442.8h.01M567.4 443.2h.01M551.5 444.4h.01M553.4 447.0h.01M569.3 447.3h.01M558.5 447.5h.01M553.7 453.3h.01M552.3 453.0h.01M564.8 454.0h.01M580.4 481.4h.01M582.0 478.3h.01M565.5 475.4h.01M556.7 470.6h.01M564.6 471.7h.01M561.4 474.1h.01M551.2 475.1h.01M581.5 473.7h.01M554.3 472.3h.01M547.1 476.7h.01M578.1 473.3h.01M552.9 479.4h.01M579.6 473.0h.01M550.3 470.7h.01M566.4 469.1h.01M579.2 475.0h.01M556.5 477.2h.01M564.4 487.1h.01M570.7 489.1h.01M563.8 487.4h.01M573.2 487.1h.01M560.7 486.1h.01M559.6 487.0h.01M551.3 487.5h.01M555.9 488.4h.01M569.6 492.7h.01M554.1 493.8h.01M549.3 494.1h.01M556.0 494.5h.01M609.5 476.8h.01M608.7 478.7h.01M605.1 475.7h.01M593.0 482.0h.01M593.6 479.9h.01M587.0 486.7h.01M609.4 474.4h.01M608.1 480.0h.01M606.3 534.8h.01M605.2 532.7h.01M596.6 535.4h.01M609.4 478.4h.01M700.5 510.2h.01M703.4 512.3h.01M706.7 509.6h.01M709.6 511.6h.01M711.3 510.2h.01M551.2 521.4h.01M568.9 520.0h.01M576.2 522.0h.01M593.7 520.2h.01M587.3 518.6h.01M602.3 516.3h.01M604.4 521.4h.01M588.9 518.8h.01M587.8 511.8h.01M556.8 551.8h.01M562.5 549.8h.01M572.5 554.1h.01M551.1 548.3h.01M570.1 552.2h.01M554.5 551.7h.01M552.2 549.6h.01M564.3 549.1h.01M546.4 553.7h.01M553.7 546.6h.01M552.6 551.8h.01M562.2 551.9h.01M547.1 552.4h.01M551.8 550.1h.01M572.3 551.2h.01M603.7 548.5h.01M601.0 546.8h.01M571.0 561.5h.01M573.1 564.2h.01M569.9 565.1h.01M564.6 617.8h.01M554.4 611.4h.01M548.0 621.2h.01M561.2 617.2h.01M555.2 613.1h.01M552.0 621.6h.01M562.4 621.9h.01M551.5 613.0h.01M575.1 622.4h.01M606.1 669.1h.01M609.7 668.8h.01M598.4 676.4h.01M587.3 670.2h.01M570.9 671.8h.01M595.2 669.4h.01M556.3 669.8h.01M1115.8 457.5h.01M1122.6 454.4h.01M1118.7 457.3h.01M1115.6 455.7h.01M1116.8 458.3h.01M1108.5 455.8h.01M1116.7 455.2h.01M1128.7 456.7h.01M1167.2 441.2h.01M1162.7 440.9h.01M1165.3 441.4h.01M1197.9 450.8h.01M1199.4 449.0h.01M1219.4 448.6h.01M1186.5 449.6h.01M1191.7 448.9h.01M1201.7 451.2h.01M1213.4 446.8h.01M1186.1 443.3h.01M1215.7 452.1h.01M1196.4 450.5h.01M1217.4 445.7h.01M1197.1 445.5h.01M1220.0 444.9h.01M1213.8 447.9h.01M1180.2 465.2h.01M1184.3 460.4h.01M1211.5 466.4h.01M1212.9 465.2h.01M1207.7 464.9h.01M1212.2 467.8h.01M1208.4 467.2h.01M1231.4 449.1h.01M1228.2 453.7h.01M1229.6 451.1h.01M1225.0 452.7h.01M1078.1 453.4h.01M1078.7 496.1h.01M1082.2 495.0h.01M1085.8 494.4h.01M1094.7 492.9h.01M1128.2 493.0h.01M1112.9 493.6h.01M1124.0 495.7h.01M1126.3 495.6h.01M1119.0 493.6h.01M1120.6 492.1h.01M1139.4 495.0h.01M1170.1 494.8h.01M1119.7 504.8h.01M1128.0 504.8h.01M1152.3 504.8h.01M1167.5 504.8h.01M1175.8 504.4h.01M1187.7 505.8h.01M1210.5 504.0h.01M1190.0 505.1h.01M1187.5 504.2h.01M1190.8 504.6h.01M1211.7 503.6h.01M1213.2 506.1h.01" stroke="#404688" stroke-width="7.5"/>
<path d="M629.5 348.7h.01M643.2 405.5h.01M642.2 410.2h.01M643.4 406.5h.01M688.9 243.6h.01M699.7 239.8h.01M707.1 241.6h.01M647.5 350.2h.01M668.8 352.0h.01M653.0 352.2h.01M676.4 351.7h.01M653.8 352.2h.01M654.6 351.3h.01M658.2 405.9h.01M662.2 406.8h.01M682.4 409.2h.01M527.6 438.1h.01M517.5 436.4h.01M525.6 436.4h.01M543.9 476.0h.01M545.2 474.4h.01M539.6 477.9h.01M518.0 548.4h.01M529.8 555.0h.01M544.5 551.3h.01M539.2 554.3h.01M529.9 557.0h.01M523.2 613.9h.01M529.4 621.8h.01M533.6 614.5h.01M537.1 614.9h.01M540.8 614.1h.01M562.7 425.5h.01M557.6 421.8h.01M547.3 435.2h.01M554.9 433.6h.01M546.5 435.6h.01M563.8 435.7h.01M555.9 442.1h.01M561.5 447.6h.01M551.0 446.1h.01M563.9 454.0h.01M551.4 451.1h.01M560.3 454.3h.01M553.0 475.2h.01M562.6 476.8h.01M566.8 471.1h.01M585.9 476.3h.01M552.0 471.6h.01M550.3 475.4h.01M566.5 472.8h.01M567.0 476.6h.01M568.4 487.9h.01M571.0 492.8h.01M547.7 492.7h.01M563.9 493.7h.01M600.0 479.6h.01M619.7 478.9h.01M606.4 534.6h.01M605.5 536.8h.01M591.2 519.5h.01M596.7 521.2h.01M600.3 515.7h.01M559.5 549.3h.01M548.0 549.8h.01M570.6 550.3h.01M560.2 548.5h.01M558.5 549.9h.01M568.3 553.0h.01M562.3 548.0h.01M556.0 552.3h.01M613.2 546.8h.01M535.5 621.5h.01M553.4 617.5h.01M570.3 615.5h.01M551.7 615.7h.01M565.2 670.8h.01M583.7 673.8h.01M591.9 673.7h.01M569.3 673.4h.01M566.5 674.4h.01M604.2 674.1h.01M1117.7 454.5h.01M1117.5 455.9h.01M1127.4 456.6h.01M1108.7 452.9h.01M1134.9 457.5h.01M1123.4 457.0h.01M1166.3 442.0h.01M1212.3 453.5h.01M1209.6 444.1h.01M1209.6 447.1h.01M1206.4 453.0h.01M1175.7 457.7h.01M1194.5 465.8h.01M1211.9 466.4h.01M1115.8 493.2h.01M1168.4 494.3h.01M1190.8 505.8h.01M1194.6 504.2h.01M1201.3 504.2h.01M1198.2 504.6h.01" stroke="#404688" stroke-width="7.0"/>
<path d="M632.8 351.4h.01M628.8 349.9h.01M632.1 353.6h.01M637.5 351.0h.01M635.1 351.2h.01M621.7 349.8h.01M641.9 347.9h.01M626.6 348.7h.01M629.9 406.5h.01M642.8 406.6h.01M667.3 407.3h.01M519.1 438.8h.01M541.6 438.6h.01M531.8 436.4h.01M538.0 479.5h.01M507.9 546.5h.01M516.5 545.1h.01M541.7 550.3h.01M532.7 549.4h.01M543.6 551.9h.01M530.1 549.2h.01M559.2 425.7h.01M554.2 423.8h.01M551.7 434.0h.01M563.0 444.3h.01M561.8 446.6h.01M546.3 449.2h.01M554.8 450.6h.01M562.7 472.7h.01M551.2 472.6h.01M562.6 472.9h.01M567.3 481.2h.01M578.9 470.7h.01M577.3 476.4h.01M584.6 480.8h.01M566.6 468.1h.01M548.5 485.9h.01M558.3 485.5h.01M566.1 488.1h.01M573.6 493.4h.01M553.5 493.5h.01M615.2 478.9h.01M594.9 473.9h.01M600.3 535.4h.01M585.8 520.7h.01M591.5 518.5h.01M604.6 521.5h.01M558.0 551.0h.01M569.6 552.5h.01M547.9 549.3h.01M569.5 551.7h.01M573.6 549.4h.01M561.4 552.8h.01M545.6 550.0h.01M564.0 547.3h.01M572.0 549.4h.01M561.7 548.4h.01M558.6 550.9h.01M606.8 548.4h.01M558.3 613.5h.01M562.3 670.5h.01M605.1 674.2h.01M566.2 672.8h.01M557.6 676.5h.01M586.8 670.6h.01M580.8 673.2h.01M1124.4 458.2h.01M1123.4 458.7h.01M1135.1 454.9h.01M1128.2 460.2h.01M1172.4 441.8h.01M1191.1 450.8h.01M1203.6 445.2h.01M1201.3 445.6h.01M1177.9 455.7h.01M1184.9 456.2h.01M1210.4 469.3h.01M1207.1 466.3h.01M1128.0 494.2h.01M1121.8 495.7h.01M1166.7 493.1h.01M1170.7 495.1h.01M1187.3 504.9h.01M1207.0 505.5h.01M1195.3 503.8h.01M1187.9 504.5h.01" stroke="#404688" stroke-width="6.5"/>
<path d="M628.7 352.9h.01M639.3 353.5h.01M640.5 352.4h.01" stroke="#404688" stroke-width="6.0"/>
<path d="M926.4 556.3h.01" stroke="#424086" stroke-width="7.5"/>
<path d="M872.9 699.8h.01M845.7 690.7h.01M843.4 694.9h.01M830.3 697.9h.01M861.0 694.4h.01M838.3 695.2h.01M907.4 686.8h.01" stroke="#46337f" stroke-width="8.5"/>
<path d="M836.0 689.2h.01M830.3 690.9h.01M852.6 697.0h.01M853.8 701.5h.01M883.4 701.0h.01M824.9 687.3h.01M840.5 691.9h.01M883.3 687.7h.01M842.7 700.9h.01M818.2 694.9h.01M866.3 695.5h.01M816.7 687.4h.01M871.6 689.5h.01M840.5 706.1h.01M821.0 694.5h.01M832.5 687.1h.01M834.9 692.6h.01M888.8 697.1h.01M880.6 685.8h.01M874.4 692.3h.01M883.9 692.7h.01M822.7 688.4h.01M918.2 689.3h.01M916.7 696.2h.01M908.2 693.7h.01M902.3 686.3h.01M902.4 690.1h.01M923.7 688.5h.01" stroke="#46337f" stroke-width="8.0"/>
<path d="M870.0 697.7h.01M827.4 690.7h.01M815.9 693.1h.01M881.6 695.9h.01M824.8 694.2h.01M863.2 694.5h.01M864.9 703.2h.01M884.1 688.0h.01M887.3 699.8h.01M852.8 697.2h.01M829.5 694.6h.01M853.0 692.7h.01M860.7 697.9h.01M882.9 696.9h.01M848.0 699.7h.01M883.2 690.3h.01M817.9 692.8h.01M883.6 697.6h.01M850.5 694.9h.01M828.1 698.9h.01M828.7 695.6h.01M882.0 702.8h.01M841.3 685.4h.01M839.4 695.2h.01M846.9 706.6h.01M873.8 700.1h.01M845.2 691.7h.01M815.3 688.8h.01M829.9 699.7h.01M817.6 693.8h.01M862.6 690.6h.01M912.6 686.2h.01M918.4 688.5h.01M897.5 691.7h.01M910.9 694.4h.01M906.4 694.0h.01M903.4 693.4h.01M901.9 697.3h.01M917.9 683.7h.01M921.6 695.5h.01M940.0 692.1h.01M918.7 696.3h.01M904.7 688.5h.01M905.3 692.9h.01M909.9 688.2h.01M912.5 687.8h.01" stroke="#46337f" stroke-width="7.5"/>
<path d="M820.9 695.5h.01M833.6 690.5h.01M881.1 697.6h.01M880.8 700.9h.01M824.1 691.0h.01M875.6 685.4h.01M830.7 695.0h.01M849.0 699.1h.01M841.4 690.5h.01M852.5 698.3h.01M868.2 695.3h.01M848.2 684.6h.01M853.7 694.0h.01M855.6 698.6h.01M858.7 699.8h.01M904.6 689.7h.01M914.5 694.6h.01M908.4 690.0h.01M897.1 694.2h.01M916.6 693.8h.01M894.5 697.3h.01M899.0 685.3h.01M916.3 693.6h.01" stroke="#46337f" stroke-width="7.0"/>
<path d="M880.8 685.8h.01M906.2 690.2h.01M919.1 695.5h.01" stroke="#46337f" stroke-width="6.5"/>
<path d="M755.5 766.4h.01M726.8 762.7h.01M723.0 763.8h.01M751.6 767.2h.01M736.1 762.2h.01" stroke="#472d7b" stroke-width="8.5"/>
<path d="M802.0 738.6h.01M797.4 736.3h.01M808.2 740.1h.01M794.9 738.7h.01M784.9 736.1h.01M782.9 741.4h.01M814.1 730.7h.01M712.3 764.6h.01M720.9 764.1h.01M775.8 768.3h.01M716.4 762.1h.01M752.0 768.0h.01M776.6 767.9h.01M735.5 767.1h.01M708.7 770.4h.01M782.5 766.9h.01M704.3 768.8h.01M707.2 765.2h.01M779.0 763.4h.01M773.9 759.8h.01M694.8 767.5h.01M712.6 759.8h.01M718.6 766.2h.01M709.7 769.5h.01" stroke="#472d7b" stroke-width="8.0"/>
<path d="M795.5 731.1h.01M786.8 739.3h.01M797.7 738.3h.01M795.7 735.2h.01M783.2 738.1h.01M813.1 736.0h.01M781.7 742.3h.01M804.7 744.0h.01M798.5 740.7h.01M792.3 741.5h.01M807.3 733.8h.01M800.5 744.0h.01M693.9 762.8h.01M720.0 767.0h.01M716.6 768.1h.01M772.0 763.9h.01M783.4 767.4h.01M725.0 765.8h.01M733.6 763.7h.01M776.6 766.6h.01M702.8 762.8h.01M750.2 767.6h.01M763.5 768.1h.01M707.6 768.0h.01M771.7 769.4h.01M699.0 763.9h.01M742.1 763.8h.01M698.1 766.8h.01M716.2 766.5h.01M771.7 768.1h.01M717.6 767.9h.01M697.6 769.6h.01M728.8 768.3h.01M775.0 767.8h.01M707.2 768.8h.01M719.5 766.5h.01M732.1 765.3h.01M934.7 689.4h.01M938.2 692.9h.01M941.5 690.4h.01M943.6 694.5h.01" stroke="#472d7b" stroke-width="7.5"/>
<path d="M795.1 743.9h.01M790.0 732.7h.01M793.1 737.0h.01M805.5 730.6h.01M798.4 735.9h.01M794.2 737.0h.01M700.6 770.7h.01M749.5 763.3h.01M768.9 765.5h.01M748.8 767.5h.01M773.0 762.7h.01M758.9 765.2h.01M710.3 768.6h.01M727.3 765.8h.01M710.5 766.9h.01M759.4 767.0h.01M751.3 766.3h.01M758.8 765.9h.01M719.4 760.9h.01M708.2 767.1h.01M768.8 769.0h.01" stroke="#472d7b" stroke-width="7.0"/>
<path d="M792.3 733.0h.01" stroke="#472d7b" stroke-width="6.5"/>
<path d="M974.2 657.1h.01M980.4 657.7h.01" stroke="#482576" stroke-width="7.5"/>
<path d="M503.6 753.9h.01M509.3 753.9h.01M761.2 694.8h.01M810.3 686.3h.01M760.1 690.6h.01M746.0 690.8h.01" stroke="#481f70" stroke-width="8.5"/>
<path d="M512.0 753.5h.01M503.8 754.4h.01M812.1 690.5h.01M814.2 698.0h.01M774.1 692.9h.01M786.3 692.9h.01M747.3 695.3h.01M778.3 700.2h.01M795.3 694.1h.01M747.8 688.7h.01M772.9 694.2h.01M774.2 693.9h.01M753.9 693.9h.01M754.7 690.4h.01M770.7 689.7h.01M759.5 688.8h.01M751.0 692.4h.01M782.4 682.8h.01M801.2 694.5h.01M773.3 721.4h.01M767.7 725.8h.01M775.0 721.5h.01M744.8 721.2h.01M767.8 720.2h.01M727.3 740.2h.01M729.5 736.6h.01" stroke="#481f70" stroke-width="8.0"/>
<path d="M514.7 752.9h.01M783.8 699.4h.01M786.5 690.3h.01M746.2 695.7h.01M779.8 685.0h.01M764.5 695.3h.01M800.8 702.4h.01M775.0 689.5h.01M745.5 689.2h.01M786.9 692.7h.01M784.0 687.7h.01M788.6 692.0h.01M771.9 693.8h.01M800.9 697.7h.01M806.4 689.1h.01M769.0 707.2h.01M809.7 692.7h.01M772.6 700.1h.01M789.6 697.4h.01M796.9 694.7h.01M803.8 698.9h.01M762.7 695.1h.01M775.9 694.1h.01M762.8 689.5h.01M803.4 696.3h.01M746.7 693.5h.01M793.9 687.5h.01M760.4 687.4h.01M745.1 687.7h.01M797.5 690.7h.01M770.4 691.9h.01M763.9 696.9h.01M778.6 696.5h.01M810.4 696.3h.01M763.2 696.0h.01M765.4 689.7h.01M753.4 724.8h.01M770.7 722.2h.01M776.3 724.8h.01M761.4 721.8h.01M766.5 723.3h.01M763.2 717.9h.01M772.4 723.6h.01M771.8 720.0h.01M752.8 719.7h.01M776.3 721.7h.01M763.9 718.7h.01M745.0 723.5h.01M728.7 736.7h.01M741.0 738.9h.01M821.8 729.9h.01M825.6 729.5h.01M829.3 730.9h.01M669.7 767.3h.01M621.9 784.5h.01" stroke="#481f70" stroke-width="7.5"/>
<path d="M750.6 695.3h.01M752.6 691.5h.01M769.7 698.1h.01M793.9 691.8h.01M766.0 689.4h.01M786.7 690.6h.01M793.9 699.6h.01M783.2 695.0h.01M763.2 690.7h.01M778.2 690.7h.01M797.9 691.2h.01M814.2 689.8h.01M794.1 699.4h.01M758.9 691.6h.01M753.1 723.3h.01M764.5 725.3h.01M757.7 720.9h.01M775.4 720.0h.01M745.5 720.1h.01M748.4 723.3h.01M730.3 739.8h.01" stroke="#481f70" stroke-width="7.0"/>
<path d="M744.1 722.6h.01" stroke="#481f70" stroke-width="6.5"/>
<path d="M537.4 407.8h.01" stroke="#48186a" stroke-width="8.5"/>
<path d="M485.0 357.8h.01M488.1 352.6h.01M493.3 350.6h.01M498.5 352.6h.01M631.5 372.4h.01M603.0 384.4h.01M534.3 409.5h.01M624.4 406.1h.01M625.9 404.4h.01" stroke="#48186a" stroke-width="8.0"/>
<path d="M554.0 316.7h.01M557.7 316.3h.01M573.9 310.4h.01M581.6 311.7h.01M393.1 333.3h.01M476.7 324.2h.01M481.9 325.6h.01M517.6 408.9h.01M528.8 410.1h.01M528.7 408.4h.01M529.0 409.3h.01M500.6 413.5h.01M507.8 413.9h.01M556.7 412.9h.01M565.0 413.5h.01M580.6 409.8h.01M593.0 410.8h.01M616.3 412.1h.01M624.6 405.1h.01M623.1 408.0h.01" stroke="#48186a" stroke-width="7.5"/>
<path d="M455.5 332.9h.01M527.8 406.6h.01" stroke="#48186a" stroke-width="7.0"/>
<path d="M966.1 211.9h.01M529.4 453.4h.01M532.5 452.4h.01M536.3 454.1h.01M539.8 452.8h.01M534.6 455.5h.01" stroke="#471063" stroke-width="10.5"/>
<path d="M1004.5 222.7h.01M1008.7 225.2h.01M1012.9 227.9h.01M1018.1 231.1h.01M1009.7 220.7h.01M1021.2 230.0h.01M1037.4 225.9h.01M1038.2 230.0h.01M1154.6 274.3h.01M1159.4 276.4h.01M1200.3 309.0h.01M1102.2 365.1h.01M1106.4 367.2h.01M1110.5 366.1h.01M1105.3 371.3h.01M1109.5 372.4h.01M1113.7 370.3h.01M1114.7 366.1h.01M1107.4 369.3h.01M822.4 644.8h.01M850.5 641.6h.01M859.1 640.9h.01M870.0 642.6h.01M871.2 642.3h.01M701.5 675.3h.01M728.7 678.2h.01M707.9 674.5h.01M722.9 675.5h.01M888.1 679.1h.01" stroke="#471063" stroke-width="10.0"/>
<path d="M850.8 202.0h.01M971.7 303.4h.01M676.6 312.5h.01M1153.8 380.8h.01M590.7 495.0h.01M780.9 495.0h.01M784.0 498.1h.01M787.1 495.0h.01M790.2 497.1h.01M793.4 494.0h.01M786.1 502.3h.01M790.2 505.4h.01M793.4 503.3h.01M784.0 500.2h.01M795.4 499.2h.01M876.5 442.0h.01M880.6 445.1h.01M884.8 443.1h.01M889.0 446.2h.01M887.9 441.6h.01M863.0 493.6h.01M866.1 495.0h.01M869.2 494.4h.01M852.6 500.6h.01M855.7 503.3h.01M853.6 506.4h.01M856.7 500.2h.01M603.2 530.3h.01M606.3 531.8h.01M821.4 640.6h.01M823.6 642.9h.01M833.7 641.8h.01M840.7 641.1h.01M847.5 639.5h.01M858.8 643.5h.01M862.0 642.6h.01M864.8 644.0h.01M872.5 644.2h.01M862.1 641.5h.01M743.6 675.2h.01M740.1 675.6h.01M744.9 676.6h.01M726.2 677.0h.01M727.3 675.3h.01M753.6 679.0h.01M818.9 680.2h.01M881.3 736.5h.01M884.8 737.2h.01M779.8 753.8h.01M783.0 754.8h.01M636.4 782.9h.01M638.9 784.3h.01M673.9 793.3h.01M676.3 794.7h.01" stroke="#471063" stroke-width="9.5"/>
<path d="M904.8 204.5h.01M908.9 204.0h.01M773.5 401.1h.01M784.7 406.1h.01M762.7 406.1h.01M776.3 407.6h.01M788.7 401.3h.01M785.8 399.5h.01M798.2 397.9h.01M803.3 401.6h.01M795.6 397.6h.01M1032.6 242.5h.01M1036.8 243.9h.01M1040.3 243.1h.01M1050.9 246.6h.01M1059.6 249.8h.01M1063.2 248.7h.01M1066.5 249.3h.01M1192.6 246.0h.01M1196.8 245.2h.01M1200.9 245.6h.01M1050.3 293.0h.01M1054.0 293.4h.01M1081.4 295.5h.01M1090.8 299.2h.01M1095.0 300.1h.01M1056.9 315.8h.01M1061.7 316.7h.01M1064.4 324.6h.01M1069.0 323.5h.01M1073.1 325.6h.01M1076.2 324.2h.01M1081.9 325.6h.01M1084.6 343.3h.01M1087.7 344.3h.01M1088.7 334.6h.01M1092.9 332.9h.01M1095.0 336.0h.01M1098.1 330.8h.01M1100.2 333.9h.01M1103.3 328.7h.01M1105.3 331.9h.01M1108.5 326.7h.01M1110.5 329.8h.01M1113.7 324.6h.01M1115.7 322.5h.01M1112.6 333.9h.01M1106.4 336.0h.01M1101.2 338.1h.01M1096.0 340.2h.01M1102.2 325.6h.01M1107.4 323.5h.01M1114.7 327.7h.01M1117.8 321.5h.01M1091.4 337.0h.01M1128.2 354.7h.01M1097.0 377.6h.01M1100.2 380.3h.01M1127.2 378.6h.01M1129.7 381.7h.01M1150.3 379.0h.01M1154.8 381.0h.01M1193.7 374.5h.01M1197.8 373.4h.01M1202.0 374.9h.01M1140.7 389.0h.01M1144.8 390.0h.01M1142.8 388.0h.01M1078.3 406.7h.01M1169.8 404.0h.01M1173.3 403.1h.01M1176.6 404.6h.01M1179.1 403.6h.01M1224.8 401.9h.01M1228.0 403.6h.01M800.8 641.7h.01M804.1 641.5h.01M814.2 642.5h.01M826.4 642.1h.01M877.2 642.8h.01M876.0 643.0h.01M726.9 676.3h.01M725.2 675.6h.01M708.0 675.5h.01M720.8 677.9h.01M718.7 677.4h.01M749.7 676.7h.01M807.2 679.4h.01M777.3 677.0h.01M810.4 680.4h.01M874.1 677.2h.01M847.3 677.5h.01M798.3 675.8h.01M778.9 680.0h.01M859.5 676.6h.01M984.5 553.4h.01M986.0 557.7h.01M990.2 553.5h.01M975.4 571.3h.01M698.6 679.1h.01M750.3 683.0h.01M733.0 686.2h.01" stroke="#471063" stroke-width="9.0"/>
<path d="M918.3 204.0h.01M923.5 205.7h.01M928.7 208.6h.01M932.8 207.2h.01M777.9 410.0h.01M806.9 405.1h.01M1004.0 404.5h.01M996.7 402.3h.01M991.5 402.9h.01M1012.0 402.1h.01M475.4 431.2h.01M478.5 429.5h.01M487.8 421.7h.01M491.0 420.8h.01M525.3 417.5h.01M528.4 418.7h.01M532.5 416.7h.01M470.2 459.7h.01M473.9 455.5h.01M477.5 454.1h.01M480.6 458.6h.01M484.3 457.6h.01M487.8 454.5h.01M491.0 453.4h.01M494.1 455.5h.01M476.4 460.7h.01M482.7 459.7h.01M459.8 480.5h.01M462.9 482.5h.01M495.1 463.8h.01M567.9 429.5h.01M589.7 476.3h.01M605.3 465.9h.01M607.3 469.0h.01M638.5 464.9h.01M669.7 457.6h.01M700.9 421.2h.01M696.7 430.6h.01M699.8 432.7h.01M695.1 433.7h.01M661.8 477.3h.01M665.5 475.3h.01M669.3 479.4h.01M672.8 476.3h.01M676.3 477.3h.01M680.1 479.8h.01M664.5 481.5h.01M682.2 481.1h.01M704.6 472.2h.01M707.1 475.7h.01M710.2 478.4h.01M712.9 481.5h.01M715.8 484.6h.01M718.5 487.3h.01M721.7 489.8h.01M724.2 491.9h.01M706.1 477.3h.01M720.0 473.2h.01M724.2 472.2h.01M727.9 471.1h.01M758.0 484.6h.01M761.1 483.6h.01M770.5 477.3h.01M774.7 479.4h.01M778.8 478.4h.01M816.2 417.1h.01M819.3 417.9h.01M850.5 423.3h.01M845.3 447.2h.01M848.4 450.3h.01M852.2 446.2h.01M855.7 449.3h.01M846.4 451.4h.01M867.1 443.1h.01M826.6 486.7h.01M829.7 487.7h.01M840.1 487.7h.01M852.6 482.5h.01M850.5 490.9h.01M727.9 516.4h.01M730.4 517.7h.01M741.4 527.6h.01M744.1 528.9h.01M783.0 526.2h.01M784.0 529.3h.01M757.4 521.0h.01M760.7 523.1h.01M764.3 525.2h.01M767.4 522.0h.01M770.5 520.0h.01M773.6 524.1h.01M775.3 527.2h.01M765.3 528.3h.01M762.2 527.2h.01M836.0 533.9h.01M840.1 536.6h.01M844.3 535.1h.01M848.4 537.6h.01M852.6 539.7h.01M856.7 541.8h.01M860.9 538.7h.01M865.1 540.7h.01M868.2 544.3h.01M863.0 534.5h.01M856.7 536.6h.01M866.1 533.5h.01M850.5 534.5h.01M858.8 545.5h.01M880.6 544.9h.01M883.8 547.0h.01M886.9 545.5h.01M887.9 514.8h.01M889.0 528.3h.01M547.1 611.4h.01M686.7 637.8h.01M689.4 639.0h.01M699.8 635.3h.01M758.7 634.3h.01M762.2 633.2h.01M766.3 634.9h.01M770.5 633.6h.01M764.3 641.5h.01M783.0 642.6h.01M732.4 639.1h.01M737.3 639.5h.01M800.8 642.0h.01M791.6 643.4h.01M815.5 643.0h.01M819.7 640.1h.01M843.8 641.2h.01M840.7 640.5h.01M872.4 643.0h.01M862.1 642.4h.01M854.9 645.3h.01M880.1 640.7h.01M859.1 644.1h.01M876.4 643.9h.01M669.3 672.7h.01M706.1 676.0h.01M723.7 673.5h.01M730.0 677.7h.01M708.3 676.8h.01M867.0 678.6h.01M848.2 677.3h.01M880.1 677.5h.01M887.9 678.3h.01M908.3 508.1h.01M911.8 509.6h.01M914.9 511.6h.01M918.1 512.7h.01M910.4 506.4h.01M890.4 512.7h.01M891.0 528.3h.01M928.4 524.7h.01M931.6 527.2h.01M934.7 529.3h.01M938.2 528.3h.01M940.9 530.3h.01M932.6 532.4h.01M929.5 529.3h.01M1023.4 526.9h.01M1018.9 524.9h.01M985.2 560.1h.01M980.9 555.1h.01M980.1 566.9h.01M981.8 559.1h.01M991.7 559.5h.01M989.0 558.6h.01M992.2 562.0h.01M986.5 554.7h.01M1014.8 564.3h.01M991.4 575.0h.01M702.9 682.4h.01M715.7 683.3h.01M749.6 684.4h.01M691.0 679.6h.01M707.0 682.4h.01M634.4 699.1h.01M572.0 716.4h.01M575.1 717.0h.01M780.3 738.2h.01M785.7 738.6h.01M781.9 767.3h.01M772.0 820.9h.01M775.7 823.4h.01M779.4 821.7h.01M783.0 820.9h.01M809.4 834.8h.01M812.7 834.2h.01M867.1 840.0h.01M870.3 841.3h.01M1017.8 709.1h.01" stroke="#471063" stroke-width="8.5"/>
<path d="M875.1 206.1h.01M788.4 300.7h.01M791.5 301.7h.01M795.1 302.8h.01M798.4 304.2h.01M730.2 406.0h.01M782.7 408.5h.01M788.0 399.4h.01M795.9 399.6h.01M773.5 411.9h.01M828.9 391.5h.01M833.1 390.7h.01M837.2 391.1h.01M840.4 392.1h.01M817.5 395.2h.01M869.5 411.9h.01M884.0 413.9h.01M899.6 412.3h.01M1046.1 267.8h.01M1166.7 280.9h.01M1173.3 279.9h.01M1178.1 280.5h.01M1175.7 380.0h.01M1183.4 381.0h.01M1009.7 378.6h.01M992.6 402.2h.01M1028.4 395.2h.01M1032.6 394.2h.01M1036.8 396.3h.01M1043.0 399.4h.01M1046.1 402.5h.01M1049.2 405.2h.01M1052.3 400.4h.01M1044.5 406.7h.01M1056.9 400.4h.01M1061.7 401.5h.01M795.9 642.0h.01M804.2 643.5h.01M793.8 643.6h.01M793.8 641.6h.01M796.4 642.9h.01M797.8 644.6h.01M830.8 640.2h.01M827.3 642.3h.01M830.1 641.7h.01M868.4 642.9h.01M856.7 644.1h.01M739.6 677.7h.01M731.3 676.0h.01M700.5 679.7h.01M736.8 676.4h.01M709.5 676.1h.01M717.1 675.4h.01M770.5 675.8h.01M792.9 678.1h.01M848.0 677.1h.01M773.3 676.5h.01M796.4 679.3h.01M891.7 441.6h.01M895.2 443.1h.01M910.8 443.7h.01M913.3 445.1h.01M904.5 458.6h.01M907.7 459.7h.01M973.1 437.4h.01M978.3 460.7h.01M1112.4 416.7h.01M1115.5 417.1h.01M1179.9 417.1h.01M1019.7 527.2h.01M1018.0 529.7h.01M968.1 551.5h.01M992.9 565.2h.01M989.5 561.3h.01M990.0 564.2h.01M978.2 559.9h.01M1004.4 562.1h.01M974.9 557.3h.01M967.2 561.8h.01M727.7 684.1h.01M704.2 682.9h.01M720.9 683.0h.01M721.4 683.3h.01M730.5 681.3h.01M740.4 682.8h.01M697.5 682.5h.01M697.0 684.7h.01" stroke="#471063" stroke-width="8.0"/>
<path d="M762.0 405.7h.01M764.4 405.3h.01M792.1 404.7h.01M799.2 410.3h.01M778.6 404.9h.01M778.0 412.6h.01M772.4 412.1h.01M774.9 411.3h.01M1045.0 267.8h.01M1046.5 269.5h.01M1038.5 270.7h.01M1030.6 270.1h.01M1048.2 270.3h.01M1033.4 271.0h.01M1048.0 269.5h.01M1041.2 268.7h.01M1151.6 380.4h.01M1151.7 378.6h.01M1162.9 382.0h.01M1176.9 378.6h.01M1185.0 380.9h.01M1183.4 378.3h.01M1064.8 374.5h.01M1001.2 402.2h.01M997.4 402.5h.01M333.0 431.6h.01M337.2 430.6h.01M340.9 430.0h.01M386.0 427.9h.01M388.1 427.1h.01M398.5 422.9h.01M401.2 421.7h.01M369.4 442.0h.01M373.5 445.1h.01M378.7 447.2h.01M382.9 444.1h.01M376.7 441.0h.01M380.8 446.2h.01M417.8 438.3h.01M421.3 437.9h.01M424.9 438.3h.01M428.2 437.4h.01M440.0 434.7h.01M443.2 430.6h.01M446.3 433.7h.01M449.0 436.8h.01M451.9 438.9h.01M441.1 436.8h.01M439.0 448.3h.01M442.1 451.4h.01M445.2 453.4h.01M448.4 452.0h.01M450.4 450.3h.01M428.6 455.5h.01M501.4 416.0h.01M504.5 417.1h.01M540.8 417.1h.01M457.7 464.9h.01M471.8 469.5h.01M474.3 471.5h.01M504.1 457.6h.01M507.6 459.1h.01M511.7 458.2h.01M515.5 459.1h.01M530.0 494.4h.01M532.1 496.1h.01M544.0 611.4h.01M349.0 632.6h.01M551.2 462.8h.01M558.5 465.9h.01M634.0 432.0h.01M638.1 431.6h.01M642.3 432.5h.01M646.4 432.0h.01M707.5 447.8h.01M710.8 449.3h.01M713.8 447.2h.01M812.1 528.3h.01M815.2 529.7h.01M818.9 528.9h.01M822.5 530.3h.01M825.2 532.4h.01M817.3 533.5h.01M737.5 639.0h.01M734.9 639.3h.01M799.3 642.1h.01M814.1 642.2h.01M830.5 645.0h.01M872.2 642.3h.01M855.6 641.1h.01M728.4 676.5h.01M722.8 677.0h.01M724.7 675.9h.01M720.0 677.8h.01M704.2 676.3h.01M727.0 675.1h.01M718.3 673.8h.01M849.9 675.9h.01M763.1 677.6h.01M813.8 678.1h.01M826.8 676.5h.01M776.3 680.5h.01M870.1 677.9h.01M907.7 497.1h.01M948.6 516.4h.01M952.3 513.7h.01M956.1 512.7h.01M959.8 514.3h.01M963.8 515.8h.01M967.3 513.7h.01M971.1 513.1h.01M973.1 514.8h.01M961.1 511.0h.01M964.8 508.1h.01M968.6 506.0h.01M972.3 506.4h.01M976.0 507.5h.01M979.8 508.1h.01M983.5 509.6h.01M987.3 510.6h.01M991.0 512.3h.01M994.7 512.7h.01M998.1 513.7h.01M981.4 512.7h.01M977.3 511.0h.01M987.7 514.8h.01M1008.0 512.3h.01M956.9 520.6h.01M960.7 521.4h.01M964.4 521.0h.01M974.2 528.3h.01M977.7 526.2h.01M981.4 523.1h.01M985.2 521.4h.01M988.9 522.7h.01M992.7 524.1h.01M996.4 525.2h.01M1000.2 526.2h.01M1003.9 527.2h.01M1006.4 528.9h.01M986.6 528.3h.01M993.9 528.9h.01M979.4 529.3h.01M1002.2 523.1h.01M1023.9 526.5h.01M1026.5 527.7h.01M1015.3 527.1h.01M1017.8 527.1h.01M1020.2 526.3h.01M974.8 539.3h.01M978.3 538.0h.01M981.4 539.3h.01M992.3 533.9h.01M993.9 537.6h.01M995.6 541.4h.01M1011.0 541.8h.01M1014.3 539.7h.01M1017.2 537.6h.01M1020.5 536.0h.01M1024.1 536.6h.01M1017.8 542.8h.01M1022.0 540.7h.01M1025.1 539.3h.01M948.6 552.6h.01M952.3 554.7h.01M956.1 556.3h.01M954.4 565.7h.01M956.9 566.7h.01M990.0 555.8h.01M986.1 553.5h.01M968.4 549.5h.01M977.1 564.3h.01M977.7 562.5h.01M989.2 564.4h.01M1003.2 556.3h.01M990.8 558.7h.01M983.4 558.2h.01M995.8 559.4h.01M982.7 560.3h.01M1006.1 556.9h.01M995.1 559.9h.01M989.2 560.5h.01M979.1 562.9h.01M993.1 549.8h.01M981.7 559.0h.01M976.7 562.6h.01M1006.5 553.4h.01M1015.7 560.5h.01M1018.9 558.4h.01M1023.0 558.0h.01M1027.2 559.4h.01M1029.7 562.6h.01M1028.2 566.3h.01M1024.1 567.8h.01M1018.9 566.3h.01M1033.4 564.6h.01M1020.5 616.2h.01M1024.1 614.1h.01M1027.6 615.6h.01M1030.9 613.5h.01M1034.4 612.0h.01M1038.0 611.4h.01M1040.1 614.1h.01M1035.5 616.2h.01M1008.9 626.6h.01M1012.2 628.0h.01M1026.8 627.4h.01M1030.3 625.3h.01M1033.8 626.6h.01M1037.6 624.9h.01M1041.3 625.9h.01M1044.8 627.0h.01M1048.4 625.3h.01M1035.5 628.7h.01M899.4 642.0h.01M903.5 641.1h.01M907.7 642.0h.01M946.1 645.3h.01M958.6 646.1h.01M968.6 647.4h.01M972.1 649.4h.01M975.6 650.9h.01M977.3 647.4h.01M989.3 650.9h.01M928.4 665.4h.01M931.6 663.4h.01M935.3 661.3h.01M938.8 659.2h.01M942.4 660.2h.01M946.1 661.9h.01M949.9 659.8h.01M953.4 661.3h.01M956.9 663.4h.01M960.7 664.4h.01M963.8 660.2h.01M940.9 665.4h.01M936.8 666.5h.01M952.3 665.4h.01M449.0 715.7h.01M452.5 714.9h.01M477.9 714.9h.01M750.5 684.7h.01M710.6 683.7h.01M707.0 684.2h.01M738.2 684.8h.01M692.3 682.3h.01M702.3 682.4h.01M747.0 680.4h.01M740.6 681.7h.01M707.7 682.5h.01M710.4 683.4h.01M695.4 682.1h.01M730.9 682.8h.01M709.1 683.8h.01M723.1 686.6h.01M658.3 720.5h.01M667.6 701.8h.01M690.9 727.4h.01M694.6 728.8h.01M698.4 729.9h.01M711.7 739.2h.01M715.4 741.3h.01M719.2 742.3h.01M722.7 740.7h.01M725.8 741.9h.01M749.1 776.6h.01M753.9 777.3h.01M758.7 776.0h.01M778.2 767.3h.01M783.6 766.9h.01M881.3 826.5h.01" stroke="#471063" stroke-width="7.5"/>
<path d="M778.0 300.7h.01M1003.8 402.0h.01M988.7 560.1h.01M1007.3 558.2h.01M998.9 551.1h.01M987.6 576.3h.01M695.7 682.9h.01M691.7 682.8h.01" stroke="#471063" stroke-width="7.0"/>
<path d="M318.5 434.7h.01M375.2 428.5h.01M504.1 484.2h.01M441.5 716.4h.01M498.7 717.0h.01" stroke="#471063" stroke-width="6.5"/>
</g>
<g clip-path="url(#ax)" stroke="#000" stroke-width="7.6" fill="none" stroke-linecap="square">
<line x1="207.5" y1="1136.4" x2="1236.6" y2="153.0" stroke-width="10.2"/>
<line x1="207.5" y1="1038.06" x2="1236.6" y2="1038.06"/>
<line x1="310.41" y1="153.0" x2="310.41" y2="1136.4"/>
</g>
<rect x="1301.25" y="153.0" width="48.85" height="983.40" fill="url(#vir)"/>
<g stroke="#000" stroke-width="4.17" fill="none">
<rect x="207.5" y="153.0" width="1029.10" height="983.40"/>
<rect x="1301.25" y="153.0" width="48.85" height="983.40"/>
<line x1="413.32" x2="413.32" y1="1136.40" y2="1153.90"/><line x1="190.00" x2="207.50" y1="939.72" y2="939.72"/><line x1="619.14" x2="619.14" y1="1136.40" y2="1153.90"/><line x1="190.00" x2="207.50" y1="743.04" y2="743.04"/><line x1="824.96" x2="824.96" y1="1136.40" y2="1153.90"/><line x1="190.00" x2="207.50" y1="546.36" y2="546.36"/><line x1="1030.78" x2="1030.78" y1="1136.40" y2="1153.90"/><line x1="190.00" x2="207.50" y1="349.68" y2="349.68"/><line x1="1236.60" x2="1236.60" y1="1136.40" y2="1153.90"/><line x1="190.00" x2="207.50" y1="153.00" y2="153.00"/><line x1="1350.10" x2="1367.60" y1="1136.40" y2="1136.40"/><line x1="1350.10" x2="1367.60" y1="972.50" y2="972.50"/><line x1="1350.10" x2="1367.60" y1="808.60" y2="808.60"/><line x1="1350.10" x2="1367.60" y1="644.70" y2="644.70"/><line x1="1350.10" x2="1367.60" y1="480.80" y2="480.80"/><line x1="1350.10" x2="1367.60" y1="316.90" y2="316.90"/><line x1="1350.10" x2="1367.60" y1="153.00" y2="153.00"/>
</g>
<g id="txt" opacity="0.999">
<text x="413.32" y="1205.60" text-anchor="middle">20</text><text x="171.90" y="957.32" text-anchor="end">20</text><text x="619.14" y="1205.60" text-anchor="middle">40</text><text x="171.90" y="760.64" text-anchor="end">40</text><text x="824.96" y="1205.60" text-anchor="middle">60</text><text x="171.90" y="563.96" text-anchor="end">60</text><text x="1030.78" y="1205.60" text-anchor="middle">80</text><text x="171.90" y="367.28" text-anchor="end">80</text><text x="1236.60" y="1205.60" text-anchor="middle">100</text><text x="171.90" y="170.60" text-anchor="end">100</text><text x="1384.80" y="1154.00">0</text><text x="1384.80" y="990.10">100</text><text x="1384.80" y="826.20">200</text><text x="1384.80" y="662.30">300</text><text x="1384.80" y="498.40">400</text><text x="1384.80" y="334.50">500</text><text x="1384.80" y="170.60">600</text>
<text class="mono" x="719.2" y="120.9" text-anchor="middle">BH1e4</text>
<!-- x label -->
<text x="628.3" y="1270"><tspan class="it">r</tspan><tspan class="sub" dy="7.5">final</tspan><tspan dy="-7.5" dx="8.7">[pc]</tspan></text>
<!-- y label -->
<text transform="translate(55.1,723.3) rotate(-90)"><tspan class="it">r</tspan><tspan class="sub" dy="7.5">ini</tspan><tspan dy="-7.5" dx="8.7">[pc]</tspan></text>
<!-- colorbar label -->
<text transform="translate(1528,645.4) rotate(-90)" text-anchor="middle">stellar age [Myr]</text>
<!-- annotations -->
<text class="halo" x="513.5" y="1100.1">out of the NSC: <tspan dx="-2.3">4.</tspan><tspan dx="-2.8">7</tspan></text>
<text class="halo" x="949.2" y="1100.1">M</text>
<text class="halo sub" x="995.5" y="1108.3">⊙</text>
<g transform="translate(271.3,847) rotate(-90)">
<text class="halo" x="0" y="0">into <tspan dx="-1">the </tspan><tspan dx="-1.4">NSC: 24.9</tspan></text>
<text class="halo" x="422" y="0">M</text>
<text class="halo sub" x="467" y="7">⊙</text>
</g>
<text class="halo" transform="translate(464.8,300.5) rotate(-45)" text-anchor="middle" y="12.6">inwards</text>
<text class="halo" transform="translate(1082.2,890.6) rotate(-45)" text-anchor="middle" y="12.6">outwards</text>
</g>
</svg>
</body></html>
